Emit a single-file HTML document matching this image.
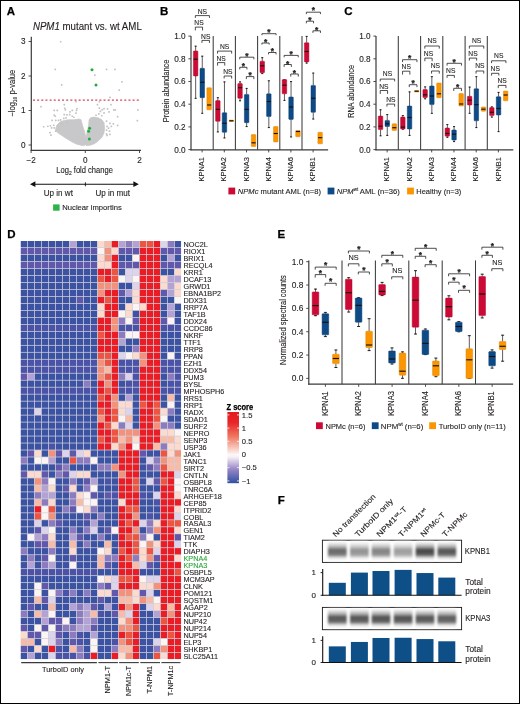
<!DOCTYPE html>
<html><head><meta charset="utf-8"><title>Figure</title>
<style>
html,body{margin:0;padding:0;background:#fff;}
body{width:520px;height:704px;overflow:hidden;}
svg{display:block;will-change:transform;}
svg text{font-family:"Liberation Sans", sans-serif;}
</style></head><body>
<svg width="520" height="704" viewBox="0 0 520 704" font-family="Liberation Sans, sans-serif" fill="#231f20">
<rect x="0.5" y="0.5" width="519" height="703" fill="#fff" stroke="#000" stroke-width="1"/>
<text x="6.80" y="15.00" font-size="11.5" font-weight="bold" fill="#000" stroke="#000" stroke-width="0.25">A</text>
<text x="160.00" y="15.40" font-size="11.5" font-weight="bold" fill="#000" stroke="#000" stroke-width="0.25">B</text>
<text x="344.30" y="15.40" font-size="11.5" font-weight="bold" fill="#000" stroke="#000" stroke-width="0.25">C</text>
<text x="7.20" y="237.80" font-size="11.5" font-weight="bold" fill="#000" stroke="#000" stroke-width="0.25">D</text>
<text x="277.50" y="237.60" font-size="11.5" font-weight="bold" fill="#000" stroke="#000" stroke-width="0.25">E</text>
<text x="277.80" y="503.80" font-size="11.5" font-weight="bold" fill="#000" stroke="#000" stroke-width="0.25">F</text>
<line x1="213.20" y1="36.00" x2="213.20" y2="149.80" stroke="#3c3c3c" stroke-width="1.05"/>
<line x1="235.40" y1="36.00" x2="235.40" y2="149.80" stroke="#3c3c3c" stroke-width="1.05"/>
<line x1="257.60" y1="36.00" x2="257.60" y2="149.80" stroke="#3c3c3c" stroke-width="1.05"/>
<line x1="279.80" y1="36.00" x2="279.80" y2="149.80" stroke="#3c3c3c" stroke-width="1.05"/>
<line x1="302.00" y1="36.00" x2="302.00" y2="149.80" stroke="#3c3c3c" stroke-width="1.05"/>
<line x1="191.00" y1="36.00" x2="191.00" y2="150.30" stroke="#3a3a3a" stroke-width="1.2"/>
<line x1="190.40" y1="149.80" x2="328.10" y2="149.80" stroke="#3a3a3a" stroke-width="1.2"/>
<line x1="188.40" y1="149.60" x2="191.00" y2="149.60" stroke="#3a3a3a" stroke-width="0.9"/>
<text x="185.60" y="152.55" font-size="8.2" text-anchor="end" stroke="#231f20" stroke-width="0.12">0.0</text>
<line x1="188.40" y1="126.90" x2="191.00" y2="126.90" stroke="#3a3a3a" stroke-width="0.9"/>
<text x="185.60" y="129.85" font-size="8.2" text-anchor="end" stroke="#231f20" stroke-width="0.12">0.2</text>
<line x1="188.40" y1="104.20" x2="191.00" y2="104.20" stroke="#3a3a3a" stroke-width="0.9"/>
<text x="185.60" y="107.15" font-size="8.2" text-anchor="end" stroke="#231f20" stroke-width="0.12">0.4</text>
<line x1="188.40" y1="81.50" x2="191.00" y2="81.50" stroke="#3a3a3a" stroke-width="0.9"/>
<text x="185.60" y="84.45" font-size="8.2" text-anchor="end" stroke="#231f20" stroke-width="0.12">0.6</text>
<line x1="188.40" y1="58.80" x2="191.00" y2="58.80" stroke="#3a3a3a" stroke-width="0.9"/>
<text x="185.60" y="61.75" font-size="8.2" text-anchor="end" stroke="#231f20" stroke-width="0.12">0.8</text>
<line x1="188.40" y1="36.10" x2="191.00" y2="36.10" stroke="#3a3a3a" stroke-width="0.9"/>
<text x="185.60" y="39.05" font-size="8.2" text-anchor="end" stroke="#231f20" stroke-width="0.12">1.0</text>
<line x1="202.10" y1="149.80" x2="202.10" y2="152.40" stroke="#3a3a3a" stroke-width="0.9"/>
<text x="204.26" y="157.00" font-size="8.0" text-anchor="end" textLength="24.50" lengthAdjust="spacingAndGlyphs" transform="rotate(-90 204.26 157.00)" stroke="#231f20" stroke-width="0.12">KPNA1</text>
<line x1="224.30" y1="149.80" x2="224.30" y2="152.40" stroke="#3a3a3a" stroke-width="0.9"/>
<text x="226.46" y="157.00" font-size="8.0" text-anchor="end" textLength="24.50" lengthAdjust="spacingAndGlyphs" transform="rotate(-90 226.46 157.00)" stroke="#231f20" stroke-width="0.12">KPNA2</text>
<line x1="246.50" y1="149.80" x2="246.50" y2="152.40" stroke="#3a3a3a" stroke-width="0.9"/>
<text x="248.66" y="157.00" font-size="8.0" text-anchor="end" textLength="24.50" lengthAdjust="spacingAndGlyphs" transform="rotate(-90 248.66 157.00)" stroke="#231f20" stroke-width="0.12">KPNA3</text>
<line x1="268.70" y1="149.80" x2="268.70" y2="152.40" stroke="#3a3a3a" stroke-width="0.9"/>
<text x="270.86" y="157.00" font-size="8.0" text-anchor="end" textLength="24.50" lengthAdjust="spacingAndGlyphs" transform="rotate(-90 270.86 157.00)" stroke="#231f20" stroke-width="0.12">KPNA4</text>
<line x1="290.90" y1="149.80" x2="290.90" y2="152.40" stroke="#3a3a3a" stroke-width="0.9"/>
<text x="293.06" y="157.00" font-size="8.0" text-anchor="end" textLength="24.50" lengthAdjust="spacingAndGlyphs" transform="rotate(-90 293.06 157.00)" stroke="#231f20" stroke-width="0.12">KPNA6</text>
<line x1="313.10" y1="149.80" x2="313.10" y2="152.40" stroke="#3a3a3a" stroke-width="0.9"/>
<text x="315.26" y="157.00" font-size="8.0" text-anchor="end" textLength="24.50" lengthAdjust="spacingAndGlyphs" transform="rotate(-90 315.26 157.00)" stroke="#231f20" stroke-width="0.12">KPNB1</text>
<line x1="195.65" y1="45.80" x2="195.65" y2="51.00" stroke="#333" stroke-width="0.8"/>
<line x1="194.60" y1="46.20" x2="196.70" y2="46.20" stroke="#111" stroke-width="0.9"/>
<line x1="195.65" y1="76.00" x2="195.65" y2="98.70" stroke="#333" stroke-width="0.8"/>
<line x1="194.60" y1="98.30" x2="196.70" y2="98.30" stroke="#111" stroke-width="0.9"/>
<rect x="193.40" y="51.00" width="4.50" height="25.00" rx="0.6" fill="#cc0a35" stroke="#b50a2f" stroke-width="0.5"/>
<line x1="193.60" y1="59.20" x2="197.70" y2="59.20" stroke="#111" stroke-width="1.15"/>
<line x1="202.25" y1="55.80" x2="202.25" y2="68.30" stroke="#333" stroke-width="0.8"/>
<line x1="201.20" y1="56.20" x2="203.30" y2="56.20" stroke="#111" stroke-width="0.9"/>
<line x1="202.25" y1="97.70" x2="202.25" y2="113.70" stroke="#333" stroke-width="0.8"/>
<line x1="201.20" y1="113.30" x2="203.30" y2="113.30" stroke="#111" stroke-width="0.9"/>
<rect x="200.00" y="68.30" width="4.50" height="29.40" rx="0.6" fill="#0d4a86" stroke="#0a3d70" stroke-width="0.5"/>
<line x1="200.20" y1="82.30" x2="204.30" y2="82.30" stroke="#111" stroke-width="1.15"/>
<rect x="206.90" y="87.70" width="4.50" height="22.10" rx="0.6" fill="#fb9600" stroke="#e08500" stroke-width="0.5"/>
<line x1="207.10" y1="105.00" x2="211.20" y2="105.00" stroke="#111" stroke-width="1.15"/>
<line x1="217.85" y1="97.30" x2="217.85" y2="100.60" stroke="#333" stroke-width="0.8"/>
<line x1="216.80" y1="97.70" x2="218.90" y2="97.70" stroke="#111" stroke-width="0.9"/>
<line x1="217.85" y1="121.30" x2="217.85" y2="132.30" stroke="#333" stroke-width="0.8"/>
<line x1="216.80" y1="131.90" x2="218.90" y2="131.90" stroke="#111" stroke-width="0.9"/>
<rect x="215.60" y="100.60" width="4.50" height="20.70" rx="0.6" fill="#cc0a35" stroke="#b50a2f" stroke-width="0.5"/>
<line x1="215.80" y1="109.40" x2="219.90" y2="109.40" stroke="#111" stroke-width="1.15"/>
<line x1="224.45" y1="81.50" x2="224.45" y2="112.70" stroke="#333" stroke-width="0.8"/>
<line x1="223.40" y1="81.90" x2="225.50" y2="81.90" stroke="#111" stroke-width="0.9"/>
<line x1="224.45" y1="132.30" x2="224.45" y2="138.30" stroke="#333" stroke-width="0.8"/>
<line x1="223.40" y1="137.90" x2="225.50" y2="137.90" stroke="#111" stroke-width="0.9"/>
<rect x="222.20" y="112.70" width="4.50" height="19.60" rx="0.6" fill="#0d4a86" stroke="#0a3d70" stroke-width="0.5"/>
<line x1="222.40" y1="123.30" x2="226.50" y2="123.30" stroke="#111" stroke-width="1.15"/>
<rect x="229.10" y="120.10" width="4.50" height="1.40" rx="0.6" fill="#fb9600" stroke="#e08500" stroke-width="0.5"/>
<line x1="229.30" y1="120.80" x2="233.40" y2="120.80" stroke="#111" stroke-width="1.15"/>
<line x1="240.05" y1="81.50" x2="240.05" y2="83.50" stroke="#333" stroke-width="0.8"/>
<line x1="239.00" y1="81.90" x2="241.10" y2="81.90" stroke="#111" stroke-width="0.9"/>
<line x1="240.05" y1="98.30" x2="240.05" y2="101.20" stroke="#333" stroke-width="0.8"/>
<line x1="239.00" y1="100.80" x2="241.10" y2="100.80" stroke="#111" stroke-width="0.9"/>
<rect x="237.80" y="83.50" width="4.50" height="14.80" rx="0.6" fill="#cc0a35" stroke="#b50a2f" stroke-width="0.5"/>
<line x1="238.00" y1="87.70" x2="242.10" y2="87.70" stroke="#111" stroke-width="1.15"/>
<line x1="246.65" y1="88.00" x2="246.65" y2="94.40" stroke="#333" stroke-width="0.8"/>
<line x1="245.60" y1="88.40" x2="247.70" y2="88.40" stroke="#111" stroke-width="0.9"/>
<line x1="246.65" y1="122.70" x2="246.65" y2="127.00" stroke="#333" stroke-width="0.8"/>
<line x1="245.60" y1="126.60" x2="247.70" y2="126.60" stroke="#111" stroke-width="0.9"/>
<rect x="244.40" y="94.40" width="4.50" height="28.30" rx="0.6" fill="#0d4a86" stroke="#0a3d70" stroke-width="0.5"/>
<line x1="244.60" y1="109.40" x2="248.70" y2="109.40" stroke="#111" stroke-width="1.15"/>
<rect x="251.30" y="134.60" width="4.50" height="11.90" rx="0.6" fill="#fb9600" stroke="#e08500" stroke-width="0.5"/>
<line x1="251.50" y1="142.80" x2="255.60" y2="142.80" stroke="#111" stroke-width="1.15"/>
<line x1="262.25" y1="57.30" x2="262.25" y2="61.20" stroke="#333" stroke-width="0.8"/>
<line x1="261.20" y1="57.70" x2="263.30" y2="57.70" stroke="#111" stroke-width="0.9"/>
<line x1="262.25" y1="72.70" x2="262.25" y2="74.00" stroke="#333" stroke-width="0.8"/>
<line x1="261.20" y1="73.60" x2="263.30" y2="73.60" stroke="#111" stroke-width="0.9"/>
<rect x="260.00" y="61.20" width="4.50" height="11.50" rx="0.6" fill="#cc0a35" stroke="#b50a2f" stroke-width="0.5"/>
<line x1="260.20" y1="65.80" x2="264.30" y2="65.80" stroke="#111" stroke-width="1.15"/>
<line x1="268.85" y1="80.40" x2="268.85" y2="93.80" stroke="#333" stroke-width="0.8"/>
<line x1="267.80" y1="80.80" x2="269.90" y2="80.80" stroke="#111" stroke-width="0.9"/>
<line x1="268.85" y1="116.50" x2="268.85" y2="128.00" stroke="#333" stroke-width="0.8"/>
<line x1="267.80" y1="127.60" x2="269.90" y2="127.60" stroke="#111" stroke-width="0.9"/>
<rect x="266.60" y="93.80" width="4.50" height="22.70" rx="0.6" fill="#0d4a86" stroke="#0a3d70" stroke-width="0.5"/>
<line x1="266.80" y1="101.50" x2="270.90" y2="101.50" stroke="#111" stroke-width="1.15"/>
<rect x="273.50" y="126.50" width="4.50" height="15.40" rx="0.6" fill="#fb9600" stroke="#e08500" stroke-width="0.5"/>
<line x1="273.70" y1="133.50" x2="277.80" y2="133.50" stroke="#111" stroke-width="1.15"/>
<line x1="284.45" y1="79.40" x2="284.45" y2="79.60" stroke="#333" stroke-width="0.8"/>
<line x1="283.40" y1="79.80" x2="285.50" y2="79.80" stroke="#111" stroke-width="0.9"/>
<line x1="284.45" y1="93.80" x2="284.45" y2="100.80" stroke="#333" stroke-width="0.8"/>
<line x1="283.40" y1="100.40" x2="285.50" y2="100.40" stroke="#111" stroke-width="0.9"/>
<rect x="282.20" y="79.60" width="4.50" height="14.20" rx="0.6" fill="#cc0a35" stroke="#b50a2f" stroke-width="0.5"/>
<line x1="282.40" y1="85.20" x2="286.50" y2="85.20" stroke="#111" stroke-width="1.15"/>
<line x1="291.05" y1="81.20" x2="291.05" y2="97.00" stroke="#333" stroke-width="0.8"/>
<line x1="290.00" y1="81.60" x2="292.10" y2="81.60" stroke="#111" stroke-width="0.9"/>
<line x1="291.05" y1="119.40" x2="291.05" y2="137.30" stroke="#333" stroke-width="0.8"/>
<line x1="290.00" y1="136.90" x2="292.10" y2="136.90" stroke="#111" stroke-width="0.9"/>
<rect x="288.80" y="97.00" width="4.50" height="22.40" rx="0.6" fill="#0d4a86" stroke="#0a3d70" stroke-width="0.5"/>
<line x1="289.00" y1="107.00" x2="293.10" y2="107.00" stroke="#111" stroke-width="1.15"/>
<rect x="295.70" y="130.40" width="4.50" height="6.30" rx="0.6" fill="#fb9600" stroke="#e08500" stroke-width="0.5"/>
<line x1="295.90" y1="131.50" x2="300.00" y2="131.50" stroke="#111" stroke-width="1.15"/>
<line x1="306.65" y1="36.00" x2="306.65" y2="42.70" stroke="#333" stroke-width="0.8"/>
<line x1="305.60" y1="36.40" x2="307.70" y2="36.40" stroke="#111" stroke-width="0.9"/>
<line x1="306.65" y1="61.90" x2="306.65" y2="63.50" stroke="#333" stroke-width="0.8"/>
<line x1="305.60" y1="63.10" x2="307.70" y2="63.10" stroke="#111" stroke-width="0.9"/>
<rect x="304.40" y="42.70" width="4.50" height="19.20" rx="0.6" fill="#cc0a35" stroke="#b50a2f" stroke-width="0.5"/>
<line x1="304.60" y1="51.50" x2="308.70" y2="51.50" stroke="#111" stroke-width="1.15"/>
<line x1="313.25" y1="72.70" x2="313.25" y2="85.40" stroke="#333" stroke-width="0.8"/>
<line x1="312.20" y1="73.10" x2="314.30" y2="73.10" stroke="#111" stroke-width="0.9"/>
<line x1="313.25" y1="112.30" x2="313.25" y2="119.40" stroke="#333" stroke-width="0.8"/>
<line x1="312.20" y1="119.00" x2="314.30" y2="119.00" stroke="#111" stroke-width="0.9"/>
<rect x="311.00" y="85.40" width="4.50" height="26.90" rx="0.6" fill="#0d4a86" stroke="#0a3d70" stroke-width="0.5"/>
<line x1="311.20" y1="98.30" x2="315.30" y2="98.30" stroke="#111" stroke-width="1.15"/>
<rect x="317.90" y="132.30" width="4.50" height="11.50" rx="0.6" fill="#fb9600" stroke="#e08500" stroke-width="0.5"/>
<line x1="318.10" y1="137.70" x2="322.20" y2="137.70" stroke="#111" stroke-width="1.15"/>
<path d="M195.35 17.90V15.60H209.45V17.90" fill="none" stroke="#231f20" stroke-width="0.8"/>
<text x="202.40" y="13.55" font-size="8.1" text-anchor="middle" textLength="9.30" lengthAdjust="spacingAndGlyphs" stroke="#231f20" stroke-width="0.12">NS</text>
<path d="M195.35 30.40V27.10H202.55V30.40" fill="none" stroke="#231f20" stroke-width="0.8"/>
<text x="198.95" y="24.85" font-size="8.1" text-anchor="middle" textLength="9.30" lengthAdjust="spacingAndGlyphs" stroke="#231f20" stroke-width="0.12">NS</text>
<path d="M201.95 42.90V40.40H209.45V42.90" fill="none" stroke="#231f20" stroke-width="0.8"/>
<text x="205.70" y="38.55" font-size="8.1" text-anchor="middle" textLength="9.30" lengthAdjust="spacingAndGlyphs" stroke="#231f20" stroke-width="0.12">NS</text>
<path d="M217.55 53.60V51.10H231.65V53.60" fill="none" stroke="#231f20" stroke-width="0.8"/>
<text x="224.60" y="48.65" font-size="8.1" text-anchor="middle" textLength="9.30" lengthAdjust="spacingAndGlyphs" stroke="#231f20" stroke-width="0.12">NS</text>
<path d="M217.55 65.60V62.60H224.75V65.60" fill="none" stroke="#231f20" stroke-width="0.8"/>
<text x="221.15" y="60.65" font-size="8.1" text-anchor="middle" textLength="9.30" lengthAdjust="spacingAndGlyphs" stroke="#231f20" stroke-width="0.12">NS</text>
<path d="M224.15 78.50V76.00H231.65V78.50" fill="none" stroke="#231f20" stroke-width="0.8"/>
<text x="227.90" y="73.55" font-size="8.1" text-anchor="middle" textLength="9.30" lengthAdjust="spacingAndGlyphs" stroke="#231f20" stroke-width="0.12">NS</text>
<path d="M239.75 59.30V57.20H253.85V59.30" fill="none" stroke="#231f20" stroke-width="0.8"/>
<text x="246.80" y="59.00" font-size="8.4" text-anchor="middle" font-weight="bold" stroke="#231f20" stroke-width="0.25">*</text>
<path d="M239.75 69.40V67.30H246.95V69.40" fill="none" stroke="#231f20" stroke-width="0.8"/>
<text x="243.35" y="68.50" font-size="8.4" text-anchor="middle" font-weight="bold" stroke="#231f20" stroke-width="0.25">*</text>
<path d="M246.35 79.10V76.60H253.85V79.10" fill="none" stroke="#231f20" stroke-width="0.8"/>
<text x="250.10" y="78.00" font-size="8.4" text-anchor="middle" font-weight="bold" stroke="#231f20" stroke-width="0.25">*</text>
<path d="M261.95 35.20V33.70H276.05V35.20" fill="none" stroke="#231f20" stroke-width="0.8"/>
<text x="269.00" y="35.00" font-size="8.4" text-anchor="middle" font-weight="bold" stroke="#231f20" stroke-width="0.25">*</text>
<path d="M261.95 44.60V43.00H269.15V44.60" fill="none" stroke="#231f20" stroke-width="0.8"/>
<text x="265.55" y="44.50" font-size="8.4" text-anchor="middle" font-weight="bold" stroke="#231f20" stroke-width="0.25">*</text>
<path d="M268.55 54.40V52.50H276.05V54.40" fill="none" stroke="#231f20" stroke-width="0.8"/>
<text x="272.30" y="54.00" font-size="8.4" text-anchor="middle" font-weight="bold" stroke="#231f20" stroke-width="0.25">*</text>
<path d="M284.15 57.30V55.40H298.25V57.30" fill="none" stroke="#231f20" stroke-width="0.8"/>
<text x="291.20" y="57.00" font-size="8.4" text-anchor="middle" font-weight="bold" stroke="#231f20" stroke-width="0.25">*</text>
<path d="M284.15 66.90V64.50H291.35V66.90" fill="none" stroke="#231f20" stroke-width="0.8"/>
<text x="287.75" y="66.60" font-size="8.4" text-anchor="middle" font-weight="bold" stroke="#231f20" stroke-width="0.25">*</text>
<path d="M290.75 76.60V74.00H298.25V76.60" fill="none" stroke="#231f20" stroke-width="0.8"/>
<text x="294.50" y="76.20" font-size="8.4" text-anchor="middle" font-weight="bold" stroke="#231f20" stroke-width="0.25">*</text>
<path d="M306.35 14.10V12.20H320.45V14.10" fill="none" stroke="#231f20" stroke-width="0.8"/>
<text x="313.40" y="13.30" font-size="8.4" text-anchor="middle" font-weight="bold" stroke="#231f20" stroke-width="0.25">*</text>
<path d="M306.35 23.30V21.20H313.55V23.30" fill="none" stroke="#231f20" stroke-width="0.8"/>
<text x="309.95" y="23.00" font-size="8.4" text-anchor="middle" font-weight="bold" stroke="#231f20" stroke-width="0.25">*</text>
<path d="M312.95 32.90V30.80H320.45V32.90" fill="none" stroke="#231f20" stroke-width="0.8"/>
<text x="316.70" y="32.50" font-size="8.4" text-anchor="middle" font-weight="bold" stroke="#231f20" stroke-width="0.25">*</text>
<text x="169.20" y="90.90" font-size="8.2" text-anchor="middle" textLength="62.80" lengthAdjust="spacingAndGlyphs" transform="rotate(-90 169.20 90.90)" stroke="#231f20" stroke-width="0.12">Protein abundance</text>
<line x1="398.30" y1="36.00" x2="398.30" y2="149.80" stroke="#3c3c3c" stroke-width="1.05"/>
<line x1="420.60" y1="36.00" x2="420.60" y2="149.80" stroke="#3c3c3c" stroke-width="1.05"/>
<line x1="442.80" y1="36.00" x2="442.80" y2="149.80" stroke="#3c3c3c" stroke-width="1.05"/>
<line x1="465.10" y1="36.00" x2="465.10" y2="149.80" stroke="#3c3c3c" stroke-width="1.05"/>
<line x1="487.30" y1="36.00" x2="487.30" y2="149.80" stroke="#3c3c3c" stroke-width="1.05"/>
<line x1="376.00" y1="36.00" x2="376.00" y2="150.30" stroke="#3a3a3a" stroke-width="1.2"/>
<line x1="375.40" y1="149.80" x2="513.30" y2="149.80" stroke="#3a3a3a" stroke-width="1.2"/>
<line x1="373.40" y1="149.60" x2="376.00" y2="149.60" stroke="#3a3a3a" stroke-width="0.9"/>
<text x="370.60" y="152.55" font-size="8.2" text-anchor="end" stroke="#231f20" stroke-width="0.12">0.0</text>
<line x1="373.40" y1="126.90" x2="376.00" y2="126.90" stroke="#3a3a3a" stroke-width="0.9"/>
<text x="370.60" y="129.85" font-size="8.2" text-anchor="end" stroke="#231f20" stroke-width="0.12">0.2</text>
<line x1="373.40" y1="104.20" x2="376.00" y2="104.20" stroke="#3a3a3a" stroke-width="0.9"/>
<text x="370.60" y="107.15" font-size="8.2" text-anchor="end" stroke="#231f20" stroke-width="0.12">0.4</text>
<line x1="373.40" y1="81.50" x2="376.00" y2="81.50" stroke="#3a3a3a" stroke-width="0.9"/>
<text x="370.60" y="84.45" font-size="8.2" text-anchor="end" stroke="#231f20" stroke-width="0.12">0.6</text>
<line x1="373.40" y1="58.80" x2="376.00" y2="58.80" stroke="#3a3a3a" stroke-width="0.9"/>
<text x="370.60" y="61.75" font-size="8.2" text-anchor="end" stroke="#231f20" stroke-width="0.12">0.8</text>
<line x1="373.40" y1="36.10" x2="376.00" y2="36.10" stroke="#3a3a3a" stroke-width="0.9"/>
<text x="370.60" y="39.05" font-size="8.2" text-anchor="end" stroke="#231f20" stroke-width="0.12">1.0</text>
<line x1="387.15" y1="149.80" x2="387.15" y2="152.40" stroke="#3a3a3a" stroke-width="0.9"/>
<text x="389.31" y="157.00" font-size="8.0" text-anchor="end" textLength="24.50" lengthAdjust="spacingAndGlyphs" transform="rotate(-90 389.31 157.00)" stroke="#231f20" stroke-width="0.12">KPNA1</text>
<line x1="409.45" y1="149.80" x2="409.45" y2="152.40" stroke="#3a3a3a" stroke-width="0.9"/>
<text x="411.61" y="157.00" font-size="8.0" text-anchor="end" textLength="24.50" lengthAdjust="spacingAndGlyphs" transform="rotate(-90 411.61 157.00)" stroke="#231f20" stroke-width="0.12">KPNA2</text>
<line x1="431.70" y1="149.80" x2="431.70" y2="152.40" stroke="#3a3a3a" stroke-width="0.9"/>
<text x="433.86" y="157.00" font-size="8.0" text-anchor="end" textLength="24.50" lengthAdjust="spacingAndGlyphs" transform="rotate(-90 433.86 157.00)" stroke="#231f20" stroke-width="0.12">KPNA3</text>
<line x1="453.95" y1="149.80" x2="453.95" y2="152.40" stroke="#3a3a3a" stroke-width="0.9"/>
<text x="456.11" y="157.00" font-size="8.0" text-anchor="end" textLength="24.50" lengthAdjust="spacingAndGlyphs" transform="rotate(-90 456.11 157.00)" stroke="#231f20" stroke-width="0.12">KPNA4</text>
<line x1="476.20" y1="149.80" x2="476.20" y2="152.40" stroke="#3a3a3a" stroke-width="0.9"/>
<text x="478.36" y="157.00" font-size="8.0" text-anchor="end" textLength="24.50" lengthAdjust="spacingAndGlyphs" transform="rotate(-90 478.36 157.00)" stroke="#231f20" stroke-width="0.12">KPNA6</text>
<line x1="498.40" y1="149.80" x2="498.40" y2="152.40" stroke="#3a3a3a" stroke-width="0.9"/>
<text x="500.56" y="157.00" font-size="8.0" text-anchor="end" textLength="24.50" lengthAdjust="spacingAndGlyphs" transform="rotate(-90 500.56 157.00)" stroke="#231f20" stroke-width="0.12">KPNB1</text>
<line x1="380.55" y1="109.40" x2="380.55" y2="116.00" stroke="#333" stroke-width="0.8"/>
<line x1="379.50" y1="109.80" x2="381.60" y2="109.80" stroke="#111" stroke-width="0.9"/>
<line x1="380.55" y1="129.60" x2="380.55" y2="136.20" stroke="#333" stroke-width="0.8"/>
<line x1="379.50" y1="135.80" x2="381.60" y2="135.80" stroke="#111" stroke-width="0.9"/>
<rect x="378.30" y="116.00" width="4.50" height="13.60" rx="0.6" fill="#cc0a35" stroke="#b50a2f" stroke-width="0.5"/>
<line x1="378.50" y1="126.20" x2="382.60" y2="126.20" stroke="#111" stroke-width="1.15"/>
<line x1="387.25" y1="114.20" x2="387.25" y2="120.40" stroke="#333" stroke-width="0.8"/>
<line x1="386.20" y1="114.60" x2="388.30" y2="114.60" stroke="#111" stroke-width="0.9"/>
<line x1="387.25" y1="126.50" x2="387.25" y2="135.80" stroke="#333" stroke-width="0.8"/>
<line x1="386.20" y1="135.40" x2="388.30" y2="135.40" stroke="#111" stroke-width="0.9"/>
<rect x="385.00" y="120.40" width="4.50" height="6.10" rx="0.6" fill="#0d4a86" stroke="#0a3d70" stroke-width="0.5"/>
<line x1="385.20" y1="123.80" x2="389.30" y2="123.80" stroke="#111" stroke-width="1.15"/>
<rect x="392.10" y="123.80" width="4.50" height="6.60" rx="0.6" fill="#fb9600" stroke="#e08500" stroke-width="0.5"/>
<line x1="392.30" y1="127.70" x2="396.40" y2="127.70" stroke="#111" stroke-width="1.15"/>
<line x1="402.85" y1="115.20" x2="402.85" y2="117.10" stroke="#333" stroke-width="0.8"/>
<line x1="401.80" y1="115.60" x2="403.90" y2="115.60" stroke="#111" stroke-width="0.9"/>
<line x1="402.85" y1="129.00" x2="402.85" y2="129.60" stroke="#333" stroke-width="0.8"/>
<line x1="401.80" y1="129.20" x2="403.90" y2="129.20" stroke="#111" stroke-width="0.9"/>
<rect x="400.60" y="117.10" width="4.50" height="11.90" rx="0.6" fill="#cc0a35" stroke="#b50a2f" stroke-width="0.5"/>
<line x1="400.80" y1="127.10" x2="404.90" y2="127.10" stroke="#111" stroke-width="1.15"/>
<line x1="409.55" y1="91.50" x2="409.55" y2="106.00" stroke="#333" stroke-width="0.8"/>
<line x1="408.50" y1="91.90" x2="410.60" y2="91.90" stroke="#111" stroke-width="0.9"/>
<line x1="409.55" y1="129.00" x2="409.55" y2="135.80" stroke="#333" stroke-width="0.8"/>
<line x1="408.50" y1="135.40" x2="410.60" y2="135.40" stroke="#111" stroke-width="0.9"/>
<rect x="407.30" y="106.00" width="4.50" height="23.00" rx="0.6" fill="#0d4a86" stroke="#0a3d70" stroke-width="0.5"/>
<line x1="407.50" y1="117.50" x2="411.60" y2="117.50" stroke="#111" stroke-width="1.15"/>
<rect x="414.40" y="90.50" width="4.50" height="1.50" rx="0.6" fill="#fb9600" stroke="#e08500" stroke-width="0.5"/>
<line x1="414.60" y1="91.20" x2="418.70" y2="91.20" stroke="#111" stroke-width="1.15"/>
<line x1="425.15" y1="86.50" x2="425.15" y2="89.50" stroke="#333" stroke-width="0.8"/>
<line x1="424.10" y1="86.90" x2="426.20" y2="86.90" stroke="#111" stroke-width="0.9"/>
<line x1="425.15" y1="97.50" x2="425.15" y2="99.20" stroke="#333" stroke-width="0.8"/>
<line x1="424.10" y1="98.80" x2="426.20" y2="98.80" stroke="#111" stroke-width="0.9"/>
<rect x="422.90" y="89.50" width="4.50" height="8.00" rx="0.6" fill="#cc0a35" stroke="#b50a2f" stroke-width="0.5"/>
<line x1="423.10" y1="94.80" x2="427.20" y2="94.80" stroke="#111" stroke-width="1.15"/>
<line x1="431.85" y1="76.30" x2="431.85" y2="86.00" stroke="#333" stroke-width="0.8"/>
<line x1="430.80" y1="76.70" x2="432.90" y2="76.70" stroke="#111" stroke-width="0.9"/>
<line x1="431.85" y1="104.60" x2="431.85" y2="113.70" stroke="#333" stroke-width="0.8"/>
<line x1="430.80" y1="113.30" x2="432.90" y2="113.30" stroke="#111" stroke-width="0.9"/>
<rect x="429.60" y="86.00" width="4.50" height="18.60" rx="0.6" fill="#0d4a86" stroke="#0a3d70" stroke-width="0.5"/>
<line x1="429.80" y1="96.00" x2="433.90" y2="96.00" stroke="#111" stroke-width="1.15"/>
<rect x="436.70" y="83.00" width="4.50" height="14.70" rx="0.6" fill="#fb9600" stroke="#e08500" stroke-width="0.5"/>
<line x1="436.90" y1="93.80" x2="441.00" y2="93.80" stroke="#111" stroke-width="1.15"/>
<line x1="447.35" y1="124.20" x2="447.35" y2="128.00" stroke="#333" stroke-width="0.8"/>
<line x1="446.30" y1="124.60" x2="448.40" y2="124.60" stroke="#111" stroke-width="0.9"/>
<line x1="447.35" y1="136.20" x2="447.35" y2="137.70" stroke="#333" stroke-width="0.8"/>
<line x1="446.30" y1="137.30" x2="448.40" y2="137.30" stroke="#111" stroke-width="0.9"/>
<rect x="445.10" y="128.00" width="4.50" height="8.20" rx="0.6" fill="#cc0a35" stroke="#b50a2f" stroke-width="0.5"/>
<line x1="445.30" y1="133.50" x2="449.40" y2="133.50" stroke="#111" stroke-width="1.15"/>
<line x1="454.05" y1="126.20" x2="454.05" y2="130.00" stroke="#333" stroke-width="0.8"/>
<line x1="453.00" y1="126.60" x2="455.10" y2="126.60" stroke="#111" stroke-width="0.9"/>
<line x1="454.05" y1="140.00" x2="454.05" y2="142.00" stroke="#333" stroke-width="0.8"/>
<line x1="453.00" y1="141.60" x2="455.10" y2="141.60" stroke="#111" stroke-width="0.9"/>
<rect x="451.80" y="130.00" width="4.50" height="10.00" rx="0.6" fill="#0d4a86" stroke="#0a3d70" stroke-width="0.5"/>
<line x1="452.00" y1="134.20" x2="456.10" y2="134.20" stroke="#111" stroke-width="1.15"/>
<rect x="458.90" y="93.50" width="4.50" height="12.50" rx="0.6" fill="#fb9600" stroke="#e08500" stroke-width="0.5"/>
<line x1="459.10" y1="104.00" x2="463.20" y2="104.00" stroke="#111" stroke-width="1.15"/>
<line x1="469.65" y1="86.70" x2="469.65" y2="96.30" stroke="#333" stroke-width="0.8"/>
<line x1="468.60" y1="87.10" x2="470.70" y2="87.10" stroke="#111" stroke-width="0.9"/>
<line x1="469.65" y1="105.00" x2="469.65" y2="113.70" stroke="#333" stroke-width="0.8"/>
<line x1="468.60" y1="113.30" x2="470.70" y2="113.30" stroke="#111" stroke-width="0.9"/>
<rect x="467.40" y="96.30" width="4.50" height="8.70" rx="0.6" fill="#cc0a35" stroke="#b50a2f" stroke-width="0.5"/>
<line x1="467.60" y1="100.20" x2="471.70" y2="100.20" stroke="#111" stroke-width="1.15"/>
<line x1="476.35" y1="76.30" x2="476.35" y2="88.70" stroke="#333" stroke-width="0.8"/>
<line x1="475.30" y1="76.70" x2="477.40" y2="76.70" stroke="#111" stroke-width="0.9"/>
<line x1="476.35" y1="120.80" x2="476.35" y2="128.00" stroke="#333" stroke-width="0.8"/>
<line x1="475.30" y1="127.60" x2="477.40" y2="127.60" stroke="#111" stroke-width="0.9"/>
<rect x="474.10" y="88.70" width="4.50" height="32.10" rx="0.6" fill="#0d4a86" stroke="#0a3d70" stroke-width="0.5"/>
<line x1="474.30" y1="104.60" x2="478.40" y2="104.60" stroke="#111" stroke-width="1.15"/>
<rect x="481.20" y="107.00" width="4.50" height="4.20" rx="0.6" fill="#fb9600" stroke="#e08500" stroke-width="0.5"/>
<line x1="481.40" y1="109.20" x2="485.50" y2="109.20" stroke="#111" stroke-width="1.15"/>
<line x1="491.85" y1="106.50" x2="491.85" y2="107.50" stroke="#333" stroke-width="0.8"/>
<line x1="490.80" y1="106.90" x2="492.90" y2="106.90" stroke="#111" stroke-width="0.9"/>
<line x1="491.85" y1="115.60" x2="491.85" y2="117.50" stroke="#333" stroke-width="0.8"/>
<line x1="490.80" y1="117.10" x2="492.90" y2="117.10" stroke="#111" stroke-width="0.9"/>
<rect x="489.60" y="107.50" width="4.50" height="8.10" rx="0.6" fill="#cc0a35" stroke="#b50a2f" stroke-width="0.5"/>
<line x1="489.80" y1="112.30" x2="493.90" y2="112.30" stroke="#111" stroke-width="1.15"/>
<line x1="498.55" y1="92.00" x2="498.55" y2="96.70" stroke="#333" stroke-width="0.8"/>
<line x1="497.50" y1="92.40" x2="499.60" y2="92.40" stroke="#111" stroke-width="0.9"/>
<line x1="498.55" y1="115.00" x2="498.55" y2="132.00" stroke="#333" stroke-width="0.8"/>
<line x1="497.50" y1="131.60" x2="499.60" y2="131.60" stroke="#111" stroke-width="0.9"/>
<rect x="496.30" y="96.70" width="4.50" height="18.30" rx="0.6" fill="#0d4a86" stroke="#0a3d70" stroke-width="0.5"/>
<line x1="496.50" y1="108.50" x2="500.60" y2="108.50" stroke="#111" stroke-width="1.15"/>
<rect x="503.40" y="91.00" width="4.50" height="9.80" rx="0.6" fill="#fb9600" stroke="#e08500" stroke-width="0.5"/>
<line x1="503.60" y1="95.00" x2="507.70" y2="95.00" stroke="#111" stroke-width="1.15"/>
<path d="M380.25 81.40V79.10H394.65V81.40" fill="none" stroke="#231f20" stroke-width="0.8"/>
<text x="387.45" y="76.35" font-size="8.1" text-anchor="middle" textLength="9.30" lengthAdjust="spacingAndGlyphs" stroke="#231f20" stroke-width="0.12">NS</text>
<path d="M380.25 93.90V90.50H387.55V93.90" fill="none" stroke="#231f20" stroke-width="0.8"/>
<text x="383.90" y="88.55" font-size="8.1" text-anchor="middle" textLength="9.30" lengthAdjust="spacingAndGlyphs" stroke="#231f20" stroke-width="0.12">NS</text>
<path d="M386.95 106.60V104.10H394.65V106.60" fill="none" stroke="#231f20" stroke-width="0.8"/>
<text x="390.80" y="102.15" font-size="8.1" text-anchor="middle" textLength="9.30" lengthAdjust="spacingAndGlyphs" stroke="#231f20" stroke-width="0.12">NS</text>
<path d="M402.55 62.10V59.70H416.95V62.10" fill="none" stroke="#231f20" stroke-width="0.8"/>
<text x="409.75" y="60.80" font-size="8.4" text-anchor="middle" font-weight="bold" stroke="#231f20" stroke-width="0.25">*</text>
<path d="M402.55 74.60V71.20H409.85V74.60" fill="none" stroke="#231f20" stroke-width="0.8"/>
<text x="406.20" y="69.25" font-size="8.1" text-anchor="middle" textLength="9.30" lengthAdjust="spacingAndGlyphs" stroke="#231f20" stroke-width="0.12">NS</text>
<path d="M409.25 87.10V84.70H416.95V87.10" fill="none" stroke="#231f20" stroke-width="0.8"/>
<text x="413.10" y="85.80" font-size="8.4" text-anchor="middle" font-weight="bold" stroke="#231f20" stroke-width="0.25">*</text>
<path d="M424.85 48.60V46.00H439.25V48.60" fill="none" stroke="#231f20" stroke-width="0.8"/>
<text x="432.05" y="43.35" font-size="8.1" text-anchor="middle" textLength="9.30" lengthAdjust="spacingAndGlyphs" stroke="#231f20" stroke-width="0.12">NS</text>
<path d="M424.85 61.20V58.10H432.15V61.20" fill="none" stroke="#231f20" stroke-width="0.8"/>
<text x="428.50" y="55.85" font-size="8.1" text-anchor="middle" textLength="9.30" lengthAdjust="spacingAndGlyphs" stroke="#231f20" stroke-width="0.12">NS</text>
<path d="M431.55 73.60V71.00H439.25V73.60" fill="none" stroke="#231f20" stroke-width="0.8"/>
<text x="435.40" y="68.35" font-size="8.1" text-anchor="middle" textLength="9.30" lengthAdjust="spacingAndGlyphs" stroke="#231f20" stroke-width="0.12">NS</text>
<path d="M447.05 65.60V63.30H461.45V65.60" fill="none" stroke="#231f20" stroke-width="0.8"/>
<text x="454.25" y="64.70" font-size="8.4" text-anchor="middle" font-weight="bold" stroke="#231f20" stroke-width="0.25">*</text>
<path d="M447.05 77.90V75.40H454.35V77.90" fill="none" stroke="#231f20" stroke-width="0.8"/>
<text x="450.70" y="72.55" font-size="8.1" text-anchor="middle" textLength="9.30" lengthAdjust="spacingAndGlyphs" stroke="#231f20" stroke-width="0.12">NS</text>
<path d="M453.75 91.00V88.30H461.45V91.00" fill="none" stroke="#231f20" stroke-width="0.8"/>
<text x="457.60" y="89.70" font-size="8.4" text-anchor="middle" font-weight="bold" stroke="#231f20" stroke-width="0.25">*</text>
<path d="M469.35 48.60V46.00H483.75V48.60" fill="none" stroke="#231f20" stroke-width="0.8"/>
<text x="476.55" y="43.35" font-size="8.1" text-anchor="middle" textLength="9.30" lengthAdjust="spacingAndGlyphs" stroke="#231f20" stroke-width="0.12">NS</text>
<path d="M469.35 60.60V58.10H476.65V60.60" fill="none" stroke="#231f20" stroke-width="0.8"/>
<text x="473.00" y="55.85" font-size="8.1" text-anchor="middle" textLength="9.30" lengthAdjust="spacingAndGlyphs" stroke="#231f20" stroke-width="0.12">NS</text>
<path d="M476.05 73.60V71.00H483.75V73.60" fill="none" stroke="#231f20" stroke-width="0.8"/>
<text x="479.90" y="68.35" font-size="8.1" text-anchor="middle" textLength="9.30" lengthAdjust="spacingAndGlyphs" stroke="#231f20" stroke-width="0.12">NS</text>
<path d="M491.55 63.10V60.80H505.95V63.10" fill="none" stroke="#231f20" stroke-width="0.8"/>
<text x="498.75" y="57.75" font-size="8.1" text-anchor="middle" textLength="9.30" lengthAdjust="spacingAndGlyphs" stroke="#231f20" stroke-width="0.12">NS</text>
<path d="M491.55 75.60V73.30H498.85V75.60" fill="none" stroke="#231f20" stroke-width="0.8"/>
<text x="495.20" y="70.65" font-size="8.1" text-anchor="middle" textLength="9.30" lengthAdjust="spacingAndGlyphs" stroke="#231f20" stroke-width="0.12">NS</text>
<path d="M498.25 88.10V85.40H505.95V88.10" fill="none" stroke="#231f20" stroke-width="0.8"/>
<text x="502.10" y="82.75" font-size="8.1" text-anchor="middle" textLength="9.30" lengthAdjust="spacingAndGlyphs" stroke="#231f20" stroke-width="0.12">NS</text>
<text x="353.90" y="91.40" font-size="8.2" text-anchor="middle" textLength="52.70" lengthAdjust="spacingAndGlyphs" transform="rotate(-90 353.90 91.40)" stroke="#231f20" stroke-width="0.12">RNA abundance</text>
<line x1="342.00" y1="260.40" x2="342.00" y2="384.20" stroke="#3c3c3c" stroke-width="1.05"/>
<line x1="375.40" y1="260.40" x2="375.40" y2="384.20" stroke="#3c3c3c" stroke-width="1.05"/>
<line x1="408.80" y1="260.40" x2="408.80" y2="384.20" stroke="#3c3c3c" stroke-width="1.05"/>
<line x1="442.20" y1="260.40" x2="442.20" y2="384.20" stroke="#3c3c3c" stroke-width="1.05"/>
<line x1="475.50" y1="260.40" x2="475.50" y2="384.20" stroke="#3c3c3c" stroke-width="1.05"/>
<line x1="308.80" y1="260.40" x2="308.80" y2="384.70" stroke="#3a3a3a" stroke-width="1.2"/>
<line x1="308.20" y1="384.20" x2="513.10" y2="384.20" stroke="#3a3a3a" stroke-width="1.2"/>
<line x1="306.20" y1="378.40" x2="308.80" y2="378.40" stroke="#3a3a3a" stroke-width="0.9"/>
<text x="303.30" y="381.42" font-size="8.4" text-anchor="end" stroke="#231f20" stroke-width="0.12">0.0</text>
<line x1="306.20" y1="355.06" x2="308.80" y2="355.06" stroke="#3a3a3a" stroke-width="0.9"/>
<text x="303.30" y="358.08" font-size="8.4" text-anchor="end" stroke="#231f20" stroke-width="0.12">0.2</text>
<line x1="306.20" y1="331.72" x2="308.80" y2="331.72" stroke="#3a3a3a" stroke-width="0.9"/>
<text x="303.30" y="334.74" font-size="8.4" text-anchor="end" stroke="#231f20" stroke-width="0.12">0.4</text>
<line x1="306.20" y1="308.38" x2="308.80" y2="308.38" stroke="#3a3a3a" stroke-width="0.9"/>
<text x="303.30" y="311.40" font-size="8.4" text-anchor="end" stroke="#231f20" stroke-width="0.12">0.6</text>
<line x1="306.20" y1="285.04" x2="308.80" y2="285.04" stroke="#3a3a3a" stroke-width="0.9"/>
<text x="303.30" y="288.06" font-size="8.4" text-anchor="end" stroke="#231f20" stroke-width="0.12">0.8</text>
<line x1="306.20" y1="261.70" x2="308.80" y2="261.70" stroke="#3a3a3a" stroke-width="0.9"/>
<text x="303.30" y="264.72" font-size="8.4" text-anchor="end" stroke="#231f20" stroke-width="0.12">1.0</text>
<line x1="325.40" y1="384.20" x2="325.40" y2="386.80" stroke="#3a3a3a" stroke-width="0.9"/>
<text x="327.64" y="391.20" font-size="8.3" text-anchor="end" textLength="24.50" lengthAdjust="spacingAndGlyphs" transform="rotate(-90 327.64 391.20)" stroke="#231f20" stroke-width="0.12">KPNA1</text>
<line x1="358.70" y1="384.20" x2="358.70" y2="386.80" stroke="#3a3a3a" stroke-width="0.9"/>
<text x="360.94" y="391.20" font-size="8.3" text-anchor="end" textLength="24.50" lengthAdjust="spacingAndGlyphs" transform="rotate(-90 360.94 391.20)" stroke="#231f20" stroke-width="0.12">KPNA2</text>
<line x1="392.10" y1="384.20" x2="392.10" y2="386.80" stroke="#3a3a3a" stroke-width="0.9"/>
<text x="394.34" y="391.20" font-size="8.3" text-anchor="end" textLength="24.50" lengthAdjust="spacingAndGlyphs" transform="rotate(-90 394.34 391.20)" stroke="#231f20" stroke-width="0.12">KPNA3</text>
<line x1="425.50" y1="384.20" x2="425.50" y2="386.80" stroke="#3a3a3a" stroke-width="0.9"/>
<text x="427.74" y="391.20" font-size="8.3" text-anchor="end" textLength="24.50" lengthAdjust="spacingAndGlyphs" transform="rotate(-90 427.74 391.20)" stroke="#231f20" stroke-width="0.12">KPNA4</text>
<line x1="458.85" y1="384.20" x2="458.85" y2="386.80" stroke="#3a3a3a" stroke-width="0.9"/>
<text x="461.09" y="391.20" font-size="8.3" text-anchor="end" textLength="24.50" lengthAdjust="spacingAndGlyphs" transform="rotate(-90 461.09 391.20)" stroke="#231f20" stroke-width="0.12">KPNA6</text>
<line x1="492.15" y1="384.20" x2="492.15" y2="386.80" stroke="#3a3a3a" stroke-width="0.9"/>
<text x="494.39" y="391.20" font-size="8.3" text-anchor="end" textLength="24.50" lengthAdjust="spacingAndGlyphs" transform="rotate(-90 494.39 391.20)" stroke="#231f20" stroke-width="0.12">KPNB1</text>
<line x1="315.50" y1="288.70" x2="315.50" y2="291.90" stroke="#333" stroke-width="0.8"/>
<line x1="314.00" y1="289.10" x2="317.00" y2="289.10" stroke="#111" stroke-width="0.9"/>
<line x1="315.50" y1="314.80" x2="315.50" y2="316.10" stroke="#333" stroke-width="0.8"/>
<line x1="314.00" y1="315.70" x2="317.00" y2="315.70" stroke="#111" stroke-width="0.9"/>
<rect x="312.20" y="291.90" width="6.60" height="22.90" rx="0.6" fill="#cc0a35" stroke="#b50a2f" stroke-width="0.5"/>
<line x1="312.40" y1="305.60" x2="318.60" y2="305.60" stroke="#111" stroke-width="1.15"/>
<line x1="325.40" y1="312.00" x2="325.40" y2="313.70" stroke="#333" stroke-width="0.8"/>
<line x1="323.90" y1="312.40" x2="326.90" y2="312.40" stroke="#111" stroke-width="0.9"/>
<line x1="325.40" y1="334.80" x2="325.40" y2="337.00" stroke="#333" stroke-width="0.8"/>
<line x1="323.90" y1="336.60" x2="326.90" y2="336.60" stroke="#111" stroke-width="0.9"/>
<rect x="322.10" y="313.70" width="6.60" height="21.10" rx="0.6" fill="#0d4a86" stroke="#0a3d70" stroke-width="0.5"/>
<line x1="322.30" y1="322.30" x2="328.50" y2="322.30" stroke="#111" stroke-width="1.15"/>
<line x1="335.90" y1="349.60" x2="335.90" y2="354.20" stroke="#333" stroke-width="0.8"/>
<line x1="334.40" y1="350.00" x2="337.40" y2="350.00" stroke="#111" stroke-width="0.9"/>
<line x1="335.90" y1="363.60" x2="335.90" y2="367.90" stroke="#333" stroke-width="0.8"/>
<line x1="334.40" y1="367.50" x2="337.40" y2="367.50" stroke="#111" stroke-width="0.9"/>
<rect x="332.60" y="354.20" width="6.60" height="9.40" rx="0.6" fill="#fb9600" stroke="#e08500" stroke-width="0.5"/>
<line x1="332.80" y1="358.50" x2="339.00" y2="358.50" stroke="#111" stroke-width="1.15"/>
<line x1="348.70" y1="277.30" x2="348.70" y2="279.20" stroke="#333" stroke-width="0.8"/>
<line x1="347.20" y1="277.70" x2="350.20" y2="277.70" stroke="#111" stroke-width="0.9"/>
<line x1="348.70" y1="309.40" x2="348.70" y2="312.40" stroke="#333" stroke-width="0.8"/>
<line x1="347.20" y1="312.00" x2="350.20" y2="312.00" stroke="#111" stroke-width="0.9"/>
<rect x="345.40" y="279.20" width="6.60" height="30.20" rx="0.6" fill="#cc0a35" stroke="#b50a2f" stroke-width="0.5"/>
<line x1="345.60" y1="292.70" x2="351.80" y2="292.70" stroke="#111" stroke-width="1.15"/>
<line x1="358.60" y1="297.30" x2="358.60" y2="298.00" stroke="#333" stroke-width="0.8"/>
<line x1="357.10" y1="297.70" x2="360.10" y2="297.70" stroke="#111" stroke-width="0.9"/>
<line x1="358.60" y1="322.20" x2="358.60" y2="326.90" stroke="#333" stroke-width="0.8"/>
<line x1="357.10" y1="326.50" x2="360.10" y2="326.50" stroke="#111" stroke-width="0.9"/>
<rect x="355.30" y="298.00" width="6.60" height="24.20" rx="0.6" fill="#0d4a86" stroke="#0a3d70" stroke-width="0.5"/>
<line x1="355.50" y1="305.40" x2="361.70" y2="305.40" stroke="#111" stroke-width="1.15"/>
<line x1="369.10" y1="318.30" x2="369.10" y2="331.30" stroke="#333" stroke-width="0.8"/>
<line x1="367.60" y1="318.70" x2="370.60" y2="318.70" stroke="#111" stroke-width="0.9"/>
<line x1="369.10" y1="347.50" x2="369.10" y2="351.00" stroke="#333" stroke-width="0.8"/>
<line x1="367.60" y1="350.60" x2="370.60" y2="350.60" stroke="#111" stroke-width="0.9"/>
<rect x="365.80" y="331.30" width="6.60" height="16.20" rx="0.6" fill="#fb9600" stroke="#e08500" stroke-width="0.5"/>
<line x1="366.00" y1="345.00" x2="372.20" y2="345.00" stroke="#111" stroke-width="1.15"/>
<line x1="382.10" y1="282.00" x2="382.10" y2="284.60" stroke="#333" stroke-width="0.8"/>
<line x1="380.60" y1="282.40" x2="383.60" y2="282.40" stroke="#111" stroke-width="0.9"/>
<line x1="382.10" y1="294.90" x2="382.10" y2="296.00" stroke="#333" stroke-width="0.8"/>
<line x1="380.60" y1="295.60" x2="383.60" y2="295.60" stroke="#111" stroke-width="0.9"/>
<rect x="378.80" y="284.60" width="6.60" height="10.30" rx="0.6" fill="#cc0a35" stroke="#b50a2f" stroke-width="0.5"/>
<line x1="379.00" y1="291.40" x2="385.20" y2="291.40" stroke="#111" stroke-width="1.15"/>
<line x1="392.00" y1="347.50" x2="392.00" y2="351.00" stroke="#333" stroke-width="0.8"/>
<line x1="390.50" y1="347.90" x2="393.50" y2="347.90" stroke="#111" stroke-width="0.9"/>
<line x1="392.00" y1="363.00" x2="392.00" y2="364.40" stroke="#333" stroke-width="0.8"/>
<line x1="390.50" y1="364.00" x2="393.50" y2="364.00" stroke="#111" stroke-width="0.9"/>
<rect x="388.70" y="351.00" width="6.60" height="12.00" rx="0.6" fill="#0d4a86" stroke="#0a3d70" stroke-width="0.5"/>
<line x1="388.90" y1="359.00" x2="395.10" y2="359.00" stroke="#111" stroke-width="1.15"/>
<line x1="402.50" y1="351.50" x2="402.50" y2="353.10" stroke="#333" stroke-width="0.8"/>
<line x1="401.00" y1="351.90" x2="404.00" y2="351.90" stroke="#111" stroke-width="0.9"/>
<line x1="402.50" y1="375.20" x2="402.50" y2="378.70" stroke="#333" stroke-width="0.8"/>
<line x1="401.00" y1="378.30" x2="404.00" y2="378.30" stroke="#111" stroke-width="0.9"/>
<rect x="399.20" y="353.10" width="6.60" height="22.10" rx="0.6" fill="#fb9600" stroke="#e08500" stroke-width="0.5"/>
<line x1="399.40" y1="371.20" x2="405.60" y2="371.20" stroke="#111" stroke-width="1.15"/>
<line x1="415.50" y1="270.30" x2="415.50" y2="277.10" stroke="#333" stroke-width="0.8"/>
<line x1="414.00" y1="270.70" x2="417.00" y2="270.70" stroke="#111" stroke-width="0.9"/>
<line x1="415.50" y1="327.20" x2="415.50" y2="334.40" stroke="#333" stroke-width="0.8"/>
<line x1="414.00" y1="334.00" x2="417.00" y2="334.00" stroke="#111" stroke-width="0.9"/>
<rect x="412.20" y="277.10" width="6.60" height="50.10" rx="0.6" fill="#cc0a35" stroke="#b50a2f" stroke-width="0.5"/>
<line x1="412.40" y1="300.20" x2="418.60" y2="300.20" stroke="#111" stroke-width="1.15"/>
<line x1="425.40" y1="328.60" x2="425.40" y2="330.20" stroke="#333" stroke-width="0.8"/>
<line x1="423.90" y1="329.00" x2="426.90" y2="329.00" stroke="#111" stroke-width="0.9"/>
<line x1="425.40" y1="354.50" x2="425.40" y2="355.00" stroke="#333" stroke-width="0.8"/>
<line x1="423.90" y1="354.60" x2="426.90" y2="354.60" stroke="#111" stroke-width="0.9"/>
<rect x="422.10" y="330.20" width="6.60" height="24.30" rx="0.6" fill="#0d4a86" stroke="#0a3d70" stroke-width="0.5"/>
<line x1="422.30" y1="343.40" x2="428.50" y2="343.40" stroke="#111" stroke-width="1.15"/>
<line x1="435.90" y1="357.70" x2="435.90" y2="361.00" stroke="#333" stroke-width="0.8"/>
<line x1="434.40" y1="358.10" x2="437.40" y2="358.10" stroke="#111" stroke-width="0.9"/>
<line x1="435.90" y1="375.70" x2="435.90" y2="377.10" stroke="#333" stroke-width="0.8"/>
<line x1="434.40" y1="376.70" x2="437.40" y2="376.70" stroke="#111" stroke-width="0.9"/>
<rect x="432.60" y="361.00" width="6.60" height="14.70" rx="0.6" fill="#fb9600" stroke="#e08500" stroke-width="0.5"/>
<line x1="432.80" y1="365.80" x2="439.00" y2="365.80" stroke="#111" stroke-width="1.15"/>
<line x1="448.90" y1="295.40" x2="448.90" y2="298.10" stroke="#333" stroke-width="0.8"/>
<line x1="447.40" y1="295.80" x2="450.40" y2="295.80" stroke="#111" stroke-width="0.9"/>
<line x1="448.90" y1="317.00" x2="448.90" y2="320.20" stroke="#333" stroke-width="0.8"/>
<line x1="447.40" y1="319.80" x2="450.40" y2="319.80" stroke="#111" stroke-width="0.9"/>
<rect x="445.60" y="298.10" width="6.60" height="18.90" rx="0.6" fill="#cc0a35" stroke="#b50a2f" stroke-width="0.5"/>
<line x1="445.80" y1="306.70" x2="452.00" y2="306.70" stroke="#111" stroke-width="1.15"/>
<line x1="458.80" y1="321.20" x2="458.80" y2="322.20" stroke="#333" stroke-width="0.8"/>
<line x1="457.30" y1="321.60" x2="460.30" y2="321.60" stroke="#111" stroke-width="0.9"/>
<line x1="458.80" y1="331.50" x2="458.80" y2="332.20" stroke="#333" stroke-width="0.8"/>
<line x1="457.30" y1="331.80" x2="460.30" y2="331.80" stroke="#111" stroke-width="0.9"/>
<rect x="455.50" y="322.20" width="6.60" height="9.30" rx="0.6" fill="#0d4a86" stroke="#0a3d70" stroke-width="0.5"/>
<line x1="455.70" y1="326.50" x2="461.90" y2="326.50" stroke="#111" stroke-width="1.15"/>
<line x1="469.30" y1="335.30" x2="469.30" y2="348.80" stroke="#333" stroke-width="0.8"/>
<line x1="467.80" y1="335.70" x2="470.80" y2="335.70" stroke="#111" stroke-width="0.9"/>
<line x1="469.30" y1="378.40" x2="469.30" y2="378.90" stroke="#333" stroke-width="0.8"/>
<line x1="467.80" y1="378.50" x2="470.80" y2="378.50" stroke="#111" stroke-width="0.9"/>
<rect x="466.00" y="348.80" width="6.60" height="29.60" rx="0.6" fill="#fb9600" stroke="#e08500" stroke-width="0.5"/>
<line x1="466.20" y1="359.80" x2="472.40" y2="359.80" stroke="#111" stroke-width="1.15"/>
<line x1="482.20" y1="273.80" x2="482.20" y2="276.50" stroke="#333" stroke-width="0.8"/>
<line x1="480.70" y1="274.20" x2="483.70" y2="274.20" stroke="#111" stroke-width="0.9"/>
<line x1="482.20" y1="315.60" x2="482.20" y2="318.30" stroke="#333" stroke-width="0.8"/>
<line x1="480.70" y1="317.90" x2="483.70" y2="317.90" stroke="#111" stroke-width="0.9"/>
<rect x="478.90" y="276.50" width="6.60" height="39.10" rx="0.6" fill="#cc0a35" stroke="#b50a2f" stroke-width="0.5"/>
<line x1="479.10" y1="294.00" x2="485.30" y2="294.00" stroke="#111" stroke-width="1.15"/>
<line x1="492.10" y1="349.50" x2="492.10" y2="351.60" stroke="#333" stroke-width="0.8"/>
<line x1="490.60" y1="349.90" x2="493.60" y2="349.90" stroke="#111" stroke-width="0.9"/>
<line x1="492.10" y1="365.80" x2="492.10" y2="368.50" stroke="#333" stroke-width="0.8"/>
<line x1="490.60" y1="368.10" x2="493.60" y2="368.10" stroke="#111" stroke-width="0.9"/>
<rect x="488.80" y="351.60" width="6.60" height="14.20" rx="0.6" fill="#0d4a86" stroke="#0a3d70" stroke-width="0.5"/>
<line x1="489.00" y1="356.50" x2="495.20" y2="356.50" stroke="#111" stroke-width="1.15"/>
<line x1="502.60" y1="334.80" x2="502.60" y2="341.50" stroke="#333" stroke-width="0.8"/>
<line x1="501.10" y1="335.20" x2="504.10" y2="335.20" stroke="#111" stroke-width="0.9"/>
<line x1="502.60" y1="349.50" x2="502.60" y2="361.60" stroke="#333" stroke-width="0.8"/>
<line x1="501.10" y1="361.20" x2="504.10" y2="361.20" stroke="#111" stroke-width="0.9"/>
<rect x="499.30" y="341.50" width="6.60" height="8.00" rx="0.6" fill="#fb9600" stroke="#e08500" stroke-width="0.5"/>
<line x1="499.50" y1="346.30" x2="505.70" y2="346.30" stroke="#111" stroke-width="1.15"/>
<path d="M315.20 269.60V267.10H336.20V269.60" fill="none" stroke="#231f20" stroke-width="0.8"/>
<text x="325.70" y="267.70" font-size="8.4" text-anchor="middle" font-weight="bold" stroke="#231f20" stroke-width="0.25">*</text>
<path d="M315.20 277.60V274.60H325.70V277.60" fill="none" stroke="#231f20" stroke-width="0.8"/>
<text x="320.45" y="276.30" font-size="8.4" text-anchor="middle" font-weight="bold" stroke="#231f20" stroke-width="0.25">*</text>
<path d="M325.10 285.80V283.30H336.20V285.80" fill="none" stroke="#231f20" stroke-width="0.8"/>
<text x="330.65" y="284.40" font-size="8.4" text-anchor="middle" font-weight="bold" stroke="#231f20" stroke-width="0.25">*</text>
<path d="M348.40 253.40V251.00H369.40V253.40" fill="none" stroke="#231f20" stroke-width="0.8"/>
<text x="358.90" y="251.60" font-size="8.4" text-anchor="middle" font-weight="bold" stroke="#231f20" stroke-width="0.25">*</text>
<path d="M348.40 266.40V263.80H358.90V266.40" fill="none" stroke="#231f20" stroke-width="0.8"/>
<text x="353.65" y="260.35" font-size="8.1" text-anchor="middle" textLength="10.15" lengthAdjust="spacingAndGlyphs" stroke="#231f20" stroke-width="0.12">NS</text>
<path d="M358.30 274.40V272.00H369.40V274.40" fill="none" stroke="#231f20" stroke-width="0.8"/>
<text x="363.85" y="273.00" font-size="8.4" text-anchor="middle" font-weight="bold" stroke="#231f20" stroke-width="0.25">*</text>
<path d="M381.80 257.80V255.30H402.80V257.80" fill="none" stroke="#231f20" stroke-width="0.8"/>
<text x="392.30" y="257.00" font-size="8.4" text-anchor="middle" font-weight="bold" stroke="#231f20" stroke-width="0.25">*</text>
<path d="M381.80 266.40V263.80H392.30V266.40" fill="none" stroke="#231f20" stroke-width="0.8"/>
<text x="387.05" y="265.00" font-size="8.4" text-anchor="middle" font-weight="bold" stroke="#231f20" stroke-width="0.25">*</text>
<path d="M391.70 279.30V276.80H402.80V279.30" fill="none" stroke="#231f20" stroke-width="0.8"/>
<text x="397.25" y="273.35" font-size="8.1" text-anchor="middle" textLength="10.15" lengthAdjust="spacingAndGlyphs" stroke="#231f20" stroke-width="0.12">NS</text>
<path d="M415.20 250.80V248.30H436.20V250.80" fill="none" stroke="#231f20" stroke-width="0.8"/>
<text x="425.70" y="249.70" font-size="8.4" text-anchor="middle" font-weight="bold" stroke="#231f20" stroke-width="0.25">*</text>
<path d="M415.20 258.80V256.30H425.70V258.80" fill="none" stroke="#231f20" stroke-width="0.8"/>
<text x="420.45" y="257.80" font-size="8.4" text-anchor="middle" font-weight="bold" stroke="#231f20" stroke-width="0.25">*</text>
<path d="M425.10 267.20V264.70H436.20V267.20" fill="none" stroke="#231f20" stroke-width="0.8"/>
<text x="430.65" y="265.80" font-size="8.4" text-anchor="middle" font-weight="bold" stroke="#231f20" stroke-width="0.25">*</text>
<path d="M448.60 276.30V273.80H469.60V276.30" fill="none" stroke="#231f20" stroke-width="0.8"/>
<text x="459.10" y="275.00" font-size="8.4" text-anchor="middle" font-weight="bold" stroke="#231f20" stroke-width="0.25">*</text>
<path d="M448.60 284.60V282.20H459.10V284.60" fill="none" stroke="#231f20" stroke-width="0.8"/>
<text x="453.85" y="283.00" font-size="8.4" text-anchor="middle" font-weight="bold" stroke="#231f20" stroke-width="0.25">*</text>
<path d="M458.50 292.80V290.30H469.60V292.80" fill="none" stroke="#231f20" stroke-width="0.8"/>
<text x="464.05" y="291.20" font-size="8.4" text-anchor="middle" font-weight="bold" stroke="#231f20" stroke-width="0.25">*</text>
<path d="M481.90 249.70V247.20H502.90V249.70" fill="none" stroke="#231f20" stroke-width="0.8"/>
<text x="492.40" y="248.90" font-size="8.4" text-anchor="middle" font-weight="bold" stroke="#231f20" stroke-width="0.25">*</text>
<path d="M481.90 257.80V255.30H492.40V257.80" fill="none" stroke="#231f20" stroke-width="0.8"/>
<text x="487.15" y="257.00" font-size="8.4" text-anchor="middle" font-weight="bold" stroke="#231f20" stroke-width="0.25">*</text>
<path d="M491.80 271.20V268.70H502.90V271.20" fill="none" stroke="#231f20" stroke-width="0.8"/>
<text x="497.35" y="265.25" font-size="8.1" text-anchor="middle" textLength="10.15" lengthAdjust="spacingAndGlyphs" stroke="#231f20" stroke-width="0.12">NS</text>
<text x="286.00" y="320.10" font-size="8.6" text-anchor="middle" textLength="89.80" lengthAdjust="spacingAndGlyphs" transform="rotate(-90 286.00 320.10)" stroke="#231f20" stroke-width="0.12">Normalized spectral counts</text>
<rect x="316.00" y="422.30" width="6.80" height="6.80" fill="#cc0a35"/>
<text x="325.50" y="428.70" font-size="8.1" textLength="40.00" lengthAdjust="spacingAndGlyphs" fill="#231f20" stroke="#231f20" stroke-width="0.12">NPMc (n=6)</text>
<rect x="371.80" y="422.30" width="6.80" height="6.80" fill="#0d4a86"/>
<text x="380.80" y="428.70" font-size="8.1" textLength="42.50" lengthAdjust="spacingAndGlyphs" fill="#231f20" stroke="#231f20" stroke-width="0.12">NPM<tspan font-size="4.6" dy="-2.6">wt</tspan><tspan dy="2.6"> (n=6)</tspan></text>
<rect x="429.20" y="422.30" width="6.80" height="6.80" fill="#fb9600"/>
<text x="438.70" y="428.70" font-size="8.1" textLength="67.00" lengthAdjust="spacingAndGlyphs" fill="#231f20" stroke="#231f20" stroke-width="0.12">TurboID only (n=11)</text>
<rect x="228.40" y="187.60" width="6.80" height="6.80" fill="#cc0a35"/>
<text x="237.80" y="194.00" font-size="8.1" textLength="83.20" lengthAdjust="spacingAndGlyphs" fill="#231f20" stroke="#231f20" stroke-width="0.12"><tspan font-style="italic">NPMc</tspan> mutant AML (n=8)</text>
<rect x="327.60" y="187.60" width="6.80" height="6.80" fill="#0d4a86"/>
<text x="336.70" y="194.00" font-size="8.1" textLength="63.10" lengthAdjust="spacingAndGlyphs" fill="#231f20" stroke="#231f20" stroke-width="0.12"><tspan font-style="italic">NPM</tspan><tspan font-size="4.6" dy="-2.6">wt</tspan><tspan dy="2.6"> AML (n=36)</tspan></text>
<rect x="407.10" y="187.60" width="6.80" height="6.80" fill="#fb9600"/>
<text x="416.30" y="194.00" font-size="8.1" textLength="45.00" lengthAdjust="spacingAndGlyphs" fill="#231f20" stroke="#231f20" stroke-width="0.12">Healthy (n=3)</text>
<g>
<rect x="20.80" y="241.00" width="160.25" height="418.05" fill="#cfd0da"/>
<rect x="20.80" y="241.00" width="6.23" height="6.23" fill="#3c53a4"/>
<rect x="27.80" y="241.00" width="6.23" height="6.23" fill="#3c53a4"/>
<rect x="34.80" y="241.00" width="6.23" height="6.23" fill="#3c53a4"/>
<rect x="41.80" y="241.00" width="6.23" height="6.23" fill="#3c53a4"/>
<rect x="48.80" y="241.00" width="6.23" height="6.23" fill="#3c53a4"/>
<rect x="55.80" y="241.00" width="6.23" height="6.23" fill="#3c53a4"/>
<rect x="62.80" y="241.00" width="6.23" height="6.23" fill="#3c53a4"/>
<rect x="69.80" y="241.00" width="6.23" height="6.23" fill="#b3a2d3"/>
<rect x="76.80" y="241.00" width="6.23" height="6.23" fill="#3c53a4"/>
<rect x="83.80" y="241.00" width="6.23" height="6.23" fill="#3c53a4"/>
<rect x="90.80" y="241.00" width="6.23" height="6.23" fill="#3c53a4"/>
<rect x="97.80" y="241.00" width="6.23" height="6.23" fill="#fcdacd"/>
<rect x="104.80" y="241.00" width="6.23" height="6.23" fill="#f9bba6"/>
<rect x="111.80" y="241.00" width="6.23" height="6.23" fill="#ec1c24"/>
<rect x="118.80" y="241.00" width="6.23" height="6.23" fill="#b3a2d3"/>
<rect x="125.80" y="241.00" width="6.23" height="6.23" fill="#8c7bbf"/>
<rect x="132.80" y="241.00" width="6.23" height="6.23" fill="#b3a2d3"/>
<rect x="139.80" y="241.00" width="6.23" height="6.23" fill="#ee5540"/>
<rect x="146.80" y="241.00" width="6.23" height="6.23" fill="#ee5540"/>
<rect x="153.80" y="241.00" width="6.23" height="6.23" fill="#ec1c24"/>
<rect x="160.80" y="241.00" width="6.23" height="6.23" fill="#ddd3ea"/>
<rect x="167.80" y="241.00" width="6.23" height="6.23" fill="#8c7bbf"/>
<rect x="174.80" y="241.00" width="6.23" height="6.23" fill="#3c53a4"/>
<rect x="20.80" y="247.98" width="6.23" height="6.23" fill="#6157ab"/>
<rect x="27.80" y="247.98" width="6.23" height="6.23" fill="#6157ab"/>
<rect x="34.80" y="247.98" width="6.23" height="6.23" fill="#6157ab"/>
<rect x="41.80" y="247.98" width="6.23" height="6.23" fill="#6157ab"/>
<rect x="48.80" y="247.98" width="6.23" height="6.23" fill="#6157ab"/>
<rect x="55.80" y="247.98" width="6.23" height="6.23" fill="#6157ab"/>
<rect x="62.80" y="247.98" width="6.23" height="6.23" fill="#6157ab"/>
<rect x="69.80" y="247.98" width="6.23" height="6.23" fill="#6157ab"/>
<rect x="76.80" y="247.98" width="6.23" height="6.23" fill="#6157ab"/>
<rect x="83.80" y="247.98" width="6.23" height="6.23" fill="#6157ab"/>
<rect x="90.80" y="247.98" width="6.23" height="6.23" fill="#6157ab"/>
<rect x="97.80" y="247.98" width="6.23" height="6.23" fill="#fbf4f2"/>
<rect x="104.80" y="247.98" width="6.23" height="6.23" fill="#f4917a"/>
<rect x="111.80" y="247.98" width="6.23" height="6.23" fill="#fcdacd"/>
<rect x="118.80" y="247.98" width="6.23" height="6.23" fill="#6157ab"/>
<rect x="125.80" y="247.98" width="6.23" height="6.23" fill="#6157ab"/>
<rect x="132.80" y="247.98" width="6.23" height="6.23" fill="#6157ab"/>
<rect x="139.80" y="247.98" width="6.23" height="6.23" fill="#ec1c24"/>
<rect x="146.80" y="247.98" width="6.23" height="6.23" fill="#ec1c24"/>
<rect x="153.80" y="247.98" width="6.23" height="6.23" fill="#ec1c24"/>
<rect x="160.80" y="247.98" width="6.23" height="6.23" fill="#6157ab"/>
<rect x="167.80" y="247.98" width="6.23" height="6.23" fill="#6157ab"/>
<rect x="174.80" y="247.98" width="6.23" height="6.23" fill="#6157ab"/>
<rect x="20.80" y="254.96" width="6.23" height="6.23" fill="#3c53a4"/>
<rect x="27.80" y="254.96" width="6.23" height="6.23" fill="#3c53a4"/>
<rect x="34.80" y="254.96" width="6.23" height="6.23" fill="#3c53a4"/>
<rect x="41.80" y="254.96" width="6.23" height="6.23" fill="#3c53a4"/>
<rect x="48.80" y="254.96" width="6.23" height="6.23" fill="#3c53a4"/>
<rect x="55.80" y="254.96" width="6.23" height="6.23" fill="#3c53a4"/>
<rect x="62.80" y="254.96" width="6.23" height="6.23" fill="#3c53a4"/>
<rect x="69.80" y="254.96" width="6.23" height="6.23" fill="#3c53a4"/>
<rect x="76.80" y="254.96" width="6.23" height="6.23" fill="#3c53a4"/>
<rect x="83.80" y="254.96" width="6.23" height="6.23" fill="#3c53a4"/>
<rect x="90.80" y="254.96" width="6.23" height="6.23" fill="#3c53a4"/>
<rect x="97.80" y="254.96" width="6.23" height="6.23" fill="#fcdacd"/>
<rect x="104.80" y="254.96" width="6.23" height="6.23" fill="#f4917a"/>
<rect x="111.80" y="254.96" width="6.23" height="6.23" fill="#ec1c24"/>
<rect x="118.80" y="254.96" width="6.23" height="6.23" fill="#3c53a4"/>
<rect x="125.80" y="254.96" width="6.23" height="6.23" fill="#3c53a4"/>
<rect x="132.80" y="254.96" width="6.23" height="6.23" fill="#fbf4f2"/>
<rect x="139.80" y="254.96" width="6.23" height="6.23" fill="#ec1c24"/>
<rect x="146.80" y="254.96" width="6.23" height="6.23" fill="#ec1c24"/>
<rect x="153.80" y="254.96" width="6.23" height="6.23" fill="#ec1c24"/>
<rect x="160.80" y="254.96" width="6.23" height="6.23" fill="#3c53a4"/>
<rect x="167.80" y="254.96" width="6.23" height="6.23" fill="#b3a2d3"/>
<rect x="174.80" y="254.96" width="6.23" height="6.23" fill="#3c53a4"/>
<rect x="20.80" y="261.94" width="6.23" height="6.23" fill="#6157ab"/>
<rect x="27.80" y="261.94" width="6.23" height="6.23" fill="#6157ab"/>
<rect x="34.80" y="261.94" width="6.23" height="6.23" fill="#6157ab"/>
<rect x="41.80" y="261.94" width="6.23" height="6.23" fill="#6157ab"/>
<rect x="48.80" y="261.94" width="6.23" height="6.23" fill="#6157ab"/>
<rect x="55.80" y="261.94" width="6.23" height="6.23" fill="#6157ab"/>
<rect x="62.80" y="261.94" width="6.23" height="6.23" fill="#6157ab"/>
<rect x="69.80" y="261.94" width="6.23" height="6.23" fill="#6157ab"/>
<rect x="76.80" y="261.94" width="6.23" height="6.23" fill="#6157ab"/>
<rect x="83.80" y="261.94" width="6.23" height="6.23" fill="#6157ab"/>
<rect x="90.80" y="261.94" width="6.23" height="6.23" fill="#6157ab"/>
<rect x="97.80" y="261.94" width="6.23" height="6.23" fill="#fcdacd"/>
<rect x="104.80" y="261.94" width="6.23" height="6.23" fill="#fcdacd"/>
<rect x="111.80" y="261.94" width="6.23" height="6.23" fill="#ec1c24"/>
<rect x="118.80" y="261.94" width="6.23" height="6.23" fill="#6157ab"/>
<rect x="125.80" y="261.94" width="6.23" height="6.23" fill="#6157ab"/>
<rect x="132.80" y="261.94" width="6.23" height="6.23" fill="#6157ab"/>
<rect x="139.80" y="261.94" width="6.23" height="6.23" fill="#ec1c24"/>
<rect x="146.80" y="261.94" width="6.23" height="6.23" fill="#ec1c24"/>
<rect x="153.80" y="261.94" width="6.23" height="6.23" fill="#ec1c24"/>
<rect x="160.80" y="261.94" width="6.23" height="6.23" fill="#6157ab"/>
<rect x="167.80" y="261.94" width="6.23" height="6.23" fill="#6157ab"/>
<rect x="174.80" y="261.94" width="6.23" height="6.23" fill="#6157ab"/>
<rect x="20.80" y="268.92" width="6.23" height="6.23" fill="#3c53a4"/>
<rect x="27.80" y="268.92" width="6.23" height="6.23" fill="#3c53a4"/>
<rect x="34.80" y="268.92" width="6.23" height="6.23" fill="#3c53a4"/>
<rect x="41.80" y="268.92" width="6.23" height="6.23" fill="#3c53a4"/>
<rect x="48.80" y="268.92" width="6.23" height="6.23" fill="#3c53a4"/>
<rect x="55.80" y="268.92" width="6.23" height="6.23" fill="#3c53a4"/>
<rect x="62.80" y="268.92" width="6.23" height="6.23" fill="#3c53a4"/>
<rect x="69.80" y="268.92" width="6.23" height="6.23" fill="#3c53a4"/>
<rect x="76.80" y="268.92" width="6.23" height="6.23" fill="#3c53a4"/>
<rect x="83.80" y="268.92" width="6.23" height="6.23" fill="#3c53a4"/>
<rect x="90.80" y="268.92" width="6.23" height="6.23" fill="#3c53a4"/>
<rect x="97.80" y="268.92" width="6.23" height="6.23" fill="#ec1c24"/>
<rect x="104.80" y="268.92" width="6.23" height="6.23" fill="#ec1c24"/>
<rect x="111.80" y="268.92" width="6.23" height="6.23" fill="#ee5540"/>
<rect x="118.80" y="268.92" width="6.23" height="6.23" fill="#3c53a4"/>
<rect x="125.80" y="268.92" width="6.23" height="6.23" fill="#ddd3ea"/>
<rect x="132.80" y="268.92" width="6.23" height="6.23" fill="#ddd3ea"/>
<rect x="139.80" y="268.92" width="6.23" height="6.23" fill="#ec1c24"/>
<rect x="146.80" y="268.92" width="6.23" height="6.23" fill="#ec1c24"/>
<rect x="153.80" y="268.92" width="6.23" height="6.23" fill="#ec1c24"/>
<rect x="160.80" y="268.92" width="6.23" height="6.23" fill="#3c53a4"/>
<rect x="167.80" y="268.92" width="6.23" height="6.23" fill="#3c53a4"/>
<rect x="174.80" y="268.92" width="6.23" height="6.23" fill="#fcdacd"/>
<rect x="20.80" y="275.90" width="6.23" height="6.23" fill="#3c53a4"/>
<rect x="27.80" y="275.90" width="6.23" height="6.23" fill="#3c53a4"/>
<rect x="34.80" y="275.90" width="6.23" height="6.23" fill="#3c53a4"/>
<rect x="41.80" y="275.90" width="6.23" height="6.23" fill="#3c53a4"/>
<rect x="48.80" y="275.90" width="6.23" height="6.23" fill="#3c53a4"/>
<rect x="55.80" y="275.90" width="6.23" height="6.23" fill="#3c53a4"/>
<rect x="62.80" y="275.90" width="6.23" height="6.23" fill="#3c53a4"/>
<rect x="69.80" y="275.90" width="6.23" height="6.23" fill="#3c53a4"/>
<rect x="76.80" y="275.90" width="6.23" height="6.23" fill="#3c53a4"/>
<rect x="83.80" y="275.90" width="6.23" height="6.23" fill="#3c53a4"/>
<rect x="90.80" y="275.90" width="6.23" height="6.23" fill="#3c53a4"/>
<rect x="97.80" y="275.90" width="6.23" height="6.23" fill="#ee5540"/>
<rect x="104.80" y="275.90" width="6.23" height="6.23" fill="#ec1c24"/>
<rect x="111.80" y="275.90" width="6.23" height="6.23" fill="#ee5540"/>
<rect x="118.80" y="275.90" width="6.23" height="6.23" fill="#fbf4f2"/>
<rect x="125.80" y="275.90" width="6.23" height="6.23" fill="#ddd3ea"/>
<rect x="132.80" y="275.90" width="6.23" height="6.23" fill="#fbf4f2"/>
<rect x="139.80" y="275.90" width="6.23" height="6.23" fill="#ec1c24"/>
<rect x="146.80" y="275.90" width="6.23" height="6.23" fill="#ec1c24"/>
<rect x="153.80" y="275.90" width="6.23" height="6.23" fill="#ec1c24"/>
<rect x="160.80" y="275.90" width="6.23" height="6.23" fill="#fcdacd"/>
<rect x="167.80" y="275.90" width="6.23" height="6.23" fill="#b3a2d3"/>
<rect x="174.80" y="275.90" width="6.23" height="6.23" fill="#b3a2d3"/>
<rect x="20.80" y="282.88" width="6.23" height="6.23" fill="#3c53a4"/>
<rect x="27.80" y="282.88" width="6.23" height="6.23" fill="#3c53a4"/>
<rect x="34.80" y="282.88" width="6.23" height="6.23" fill="#3c53a4"/>
<rect x="41.80" y="282.88" width="6.23" height="6.23" fill="#3c53a4"/>
<rect x="48.80" y="282.88" width="6.23" height="6.23" fill="#3c53a4"/>
<rect x="55.80" y="282.88" width="6.23" height="6.23" fill="#3c53a4"/>
<rect x="62.80" y="282.88" width="6.23" height="6.23" fill="#3c53a4"/>
<rect x="69.80" y="282.88" width="6.23" height="6.23" fill="#3c53a4"/>
<rect x="76.80" y="282.88" width="6.23" height="6.23" fill="#3c53a4"/>
<rect x="83.80" y="282.88" width="6.23" height="6.23" fill="#3c53a4"/>
<rect x="90.80" y="282.88" width="6.23" height="6.23" fill="#3c53a4"/>
<rect x="97.80" y="282.88" width="6.23" height="6.23" fill="#f4917a"/>
<rect x="104.80" y="282.88" width="6.23" height="6.23" fill="#f4917a"/>
<rect x="111.80" y="282.88" width="6.23" height="6.23" fill="#f4917a"/>
<rect x="118.80" y="282.88" width="6.23" height="6.23" fill="#3c53a4"/>
<rect x="125.80" y="282.88" width="6.23" height="6.23" fill="#3c53a4"/>
<rect x="132.80" y="282.88" width="6.23" height="6.23" fill="#ddd3ea"/>
<rect x="139.80" y="282.88" width="6.23" height="6.23" fill="#ec1c24"/>
<rect x="146.80" y="282.88" width="6.23" height="6.23" fill="#ec1c24"/>
<rect x="153.80" y="282.88" width="6.23" height="6.23" fill="#ec1c24"/>
<rect x="160.80" y="282.88" width="6.23" height="6.23" fill="#fcdacd"/>
<rect x="167.80" y="282.88" width="6.23" height="6.23" fill="#b3a2d3"/>
<rect x="174.80" y="282.88" width="6.23" height="6.23" fill="#fcdacd"/>
<rect x="20.80" y="289.86" width="6.23" height="6.23" fill="#3c53a4"/>
<rect x="27.80" y="289.86" width="6.23" height="6.23" fill="#3c53a4"/>
<rect x="34.80" y="289.86" width="6.23" height="6.23" fill="#3c53a4"/>
<rect x="41.80" y="289.86" width="6.23" height="6.23" fill="#3c53a4"/>
<rect x="48.80" y="289.86" width="6.23" height="6.23" fill="#3c53a4"/>
<rect x="55.80" y="289.86" width="6.23" height="6.23" fill="#3c53a4"/>
<rect x="62.80" y="289.86" width="6.23" height="6.23" fill="#3c53a4"/>
<rect x="69.80" y="289.86" width="6.23" height="6.23" fill="#3c53a4"/>
<rect x="76.80" y="289.86" width="6.23" height="6.23" fill="#3c53a4"/>
<rect x="83.80" y="289.86" width="6.23" height="6.23" fill="#3c53a4"/>
<rect x="90.80" y="289.86" width="6.23" height="6.23" fill="#3c53a4"/>
<rect x="97.80" y="289.86" width="6.23" height="6.23" fill="#f4917a"/>
<rect x="104.80" y="289.86" width="6.23" height="6.23" fill="#ec1c24"/>
<rect x="111.80" y="289.86" width="6.23" height="6.23" fill="#ec1c24"/>
<rect x="118.80" y="289.86" width="6.23" height="6.23" fill="#6157ab"/>
<rect x="125.80" y="289.86" width="6.23" height="6.23" fill="#b3a2d3"/>
<rect x="132.80" y="289.86" width="6.23" height="6.23" fill="#fcdacd"/>
<rect x="139.80" y="289.86" width="6.23" height="6.23" fill="#ec1c24"/>
<rect x="146.80" y="289.86" width="6.23" height="6.23" fill="#ec1c24"/>
<rect x="153.80" y="289.86" width="6.23" height="6.23" fill="#ec1c24"/>
<rect x="160.80" y="289.86" width="6.23" height="6.23" fill="#6157ab"/>
<rect x="167.80" y="289.86" width="6.23" height="6.23" fill="#b3a2d3"/>
<rect x="174.80" y="289.86" width="6.23" height="6.23" fill="#fcdacd"/>
<rect x="20.80" y="296.84" width="6.23" height="6.23" fill="#3c53a4"/>
<rect x="27.80" y="296.84" width="6.23" height="6.23" fill="#3c53a4"/>
<rect x="34.80" y="296.84" width="6.23" height="6.23" fill="#3c53a4"/>
<rect x="41.80" y="296.84" width="6.23" height="6.23" fill="#3c53a4"/>
<rect x="48.80" y="296.84" width="6.23" height="6.23" fill="#3c53a4"/>
<rect x="55.80" y="296.84" width="6.23" height="6.23" fill="#3c53a4"/>
<rect x="62.80" y="296.84" width="6.23" height="6.23" fill="#3c53a4"/>
<rect x="69.80" y="296.84" width="6.23" height="6.23" fill="#3c53a4"/>
<rect x="76.80" y="296.84" width="6.23" height="6.23" fill="#6157ab"/>
<rect x="83.80" y="296.84" width="6.23" height="6.23" fill="#3c53a4"/>
<rect x="90.80" y="296.84" width="6.23" height="6.23" fill="#3c53a4"/>
<rect x="97.80" y="296.84" width="6.23" height="6.23" fill="#ec1c24"/>
<rect x="104.80" y="296.84" width="6.23" height="6.23" fill="#ee5540"/>
<rect x="111.80" y="296.84" width="6.23" height="6.23" fill="#ec1c24"/>
<rect x="118.80" y="296.84" width="6.23" height="6.23" fill="#3c53a4"/>
<rect x="125.80" y="296.84" width="6.23" height="6.23" fill="#3c53a4"/>
<rect x="132.80" y="296.84" width="6.23" height="6.23" fill="#fcdacd"/>
<rect x="139.80" y="296.84" width="6.23" height="6.23" fill="#ec1c24"/>
<rect x="146.80" y="296.84" width="6.23" height="6.23" fill="#ec1c24"/>
<rect x="153.80" y="296.84" width="6.23" height="6.23" fill="#ec1c24"/>
<rect x="160.80" y="296.84" width="6.23" height="6.23" fill="#3c53a4"/>
<rect x="167.80" y="296.84" width="6.23" height="6.23" fill="#3c53a4"/>
<rect x="174.80" y="296.84" width="6.23" height="6.23" fill="#fbf4f2"/>
<rect x="20.80" y="303.82" width="6.23" height="6.23" fill="#3c53a4"/>
<rect x="27.80" y="303.82" width="6.23" height="6.23" fill="#3c53a4"/>
<rect x="34.80" y="303.82" width="6.23" height="6.23" fill="#3c53a4"/>
<rect x="41.80" y="303.82" width="6.23" height="6.23" fill="#3c53a4"/>
<rect x="48.80" y="303.82" width="6.23" height="6.23" fill="#3c53a4"/>
<rect x="55.80" y="303.82" width="6.23" height="6.23" fill="#3c53a4"/>
<rect x="62.80" y="303.82" width="6.23" height="6.23" fill="#3c53a4"/>
<rect x="69.80" y="303.82" width="6.23" height="6.23" fill="#3c53a4"/>
<rect x="76.80" y="303.82" width="6.23" height="6.23" fill="#3c53a4"/>
<rect x="83.80" y="303.82" width="6.23" height="6.23" fill="#3c53a4"/>
<rect x="90.80" y="303.82" width="6.23" height="6.23" fill="#3c53a4"/>
<rect x="97.80" y="303.82" width="6.23" height="6.23" fill="#fcdacd"/>
<rect x="104.80" y="303.82" width="6.23" height="6.23" fill="#ec1c24"/>
<rect x="111.80" y="303.82" width="6.23" height="6.23" fill="#ec1c24"/>
<rect x="118.80" y="303.82" width="6.23" height="6.23" fill="#3c53a4"/>
<rect x="125.80" y="303.82" width="6.23" height="6.23" fill="#fcdacd"/>
<rect x="132.80" y="303.82" width="6.23" height="6.23" fill="#fbf4f2"/>
<rect x="139.80" y="303.82" width="6.23" height="6.23" fill="#fcdacd"/>
<rect x="146.80" y="303.82" width="6.23" height="6.23" fill="#ec1c24"/>
<rect x="153.80" y="303.82" width="6.23" height="6.23" fill="#ec1c24"/>
<rect x="160.80" y="303.82" width="6.23" height="6.23" fill="#3c53a4"/>
<rect x="167.80" y="303.82" width="6.23" height="6.23" fill="#b3a2d3"/>
<rect x="174.80" y="303.82" width="6.23" height="6.23" fill="#3c53a4"/>
<rect x="20.80" y="310.80" width="6.23" height="6.23" fill="#3c53a4"/>
<rect x="27.80" y="310.80" width="6.23" height="6.23" fill="#3c53a4"/>
<rect x="34.80" y="310.80" width="6.23" height="6.23" fill="#3c53a4"/>
<rect x="41.80" y="310.80" width="6.23" height="6.23" fill="#3c53a4"/>
<rect x="48.80" y="310.80" width="6.23" height="6.23" fill="#3c53a4"/>
<rect x="55.80" y="310.80" width="6.23" height="6.23" fill="#3c53a4"/>
<rect x="62.80" y="310.80" width="6.23" height="6.23" fill="#3c53a4"/>
<rect x="69.80" y="310.80" width="6.23" height="6.23" fill="#3c53a4"/>
<rect x="76.80" y="310.80" width="6.23" height="6.23" fill="#3c53a4"/>
<rect x="83.80" y="310.80" width="6.23" height="6.23" fill="#3c53a4"/>
<rect x="90.80" y="310.80" width="6.23" height="6.23" fill="#3c53a4"/>
<rect x="97.80" y="310.80" width="6.23" height="6.23" fill="#fcdacd"/>
<rect x="104.80" y="310.80" width="6.23" height="6.23" fill="#ec1c24"/>
<rect x="111.80" y="310.80" width="6.23" height="6.23" fill="#ec1c24"/>
<rect x="118.80" y="310.80" width="6.23" height="6.23" fill="#fbf4f2"/>
<rect x="125.80" y="310.80" width="6.23" height="6.23" fill="#fcdacd"/>
<rect x="132.80" y="310.80" width="6.23" height="6.23" fill="#3c53a4"/>
<rect x="139.80" y="310.80" width="6.23" height="6.23" fill="#ec1c24"/>
<rect x="146.80" y="310.80" width="6.23" height="6.23" fill="#ec1c24"/>
<rect x="153.80" y="310.80" width="6.23" height="6.23" fill="#ec1c24"/>
<rect x="160.80" y="310.80" width="6.23" height="6.23" fill="#3c53a4"/>
<rect x="167.80" y="310.80" width="6.23" height="6.23" fill="#b3a2d3"/>
<rect x="174.80" y="310.80" width="6.23" height="6.23" fill="#3c53a4"/>
<rect x="20.80" y="317.78" width="6.23" height="6.23" fill="#3c53a4"/>
<rect x="27.80" y="317.78" width="6.23" height="6.23" fill="#3c53a4"/>
<rect x="34.80" y="317.78" width="6.23" height="6.23" fill="#3c53a4"/>
<rect x="41.80" y="317.78" width="6.23" height="6.23" fill="#3c53a4"/>
<rect x="48.80" y="317.78" width="6.23" height="6.23" fill="#3c53a4"/>
<rect x="55.80" y="317.78" width="6.23" height="6.23" fill="#3c53a4"/>
<rect x="62.80" y="317.78" width="6.23" height="6.23" fill="#3c53a4"/>
<rect x="69.80" y="317.78" width="6.23" height="6.23" fill="#3c53a4"/>
<rect x="76.80" y="317.78" width="6.23" height="6.23" fill="#3c53a4"/>
<rect x="83.80" y="317.78" width="6.23" height="6.23" fill="#3c53a4"/>
<rect x="90.80" y="317.78" width="6.23" height="6.23" fill="#3c53a4"/>
<rect x="97.80" y="317.78" width="6.23" height="6.23" fill="#ec1c24"/>
<rect x="104.80" y="317.78" width="6.23" height="6.23" fill="#ec1c24"/>
<rect x="111.80" y="317.78" width="6.23" height="6.23" fill="#f4917a"/>
<rect x="118.80" y="317.78" width="6.23" height="6.23" fill="#8c7bbf"/>
<rect x="125.80" y="317.78" width="6.23" height="6.23" fill="#fbf4f2"/>
<rect x="132.80" y="317.78" width="6.23" height="6.23" fill="#6157ab"/>
<rect x="139.80" y="317.78" width="6.23" height="6.23" fill="#ec1c24"/>
<rect x="146.80" y="317.78" width="6.23" height="6.23" fill="#ec1c24"/>
<rect x="153.80" y="317.78" width="6.23" height="6.23" fill="#ec1c24"/>
<rect x="160.80" y="317.78" width="6.23" height="6.23" fill="#6157ab"/>
<rect x="167.80" y="317.78" width="6.23" height="6.23" fill="#fbf4f2"/>
<rect x="174.80" y="317.78" width="6.23" height="6.23" fill="#3c53a4"/>
<rect x="20.80" y="324.76" width="6.23" height="6.23" fill="#4a53a8"/>
<rect x="27.80" y="324.76" width="6.23" height="6.23" fill="#4a53a8"/>
<rect x="34.80" y="324.76" width="6.23" height="6.23" fill="#4a53a8"/>
<rect x="41.80" y="324.76" width="6.23" height="6.23" fill="#4a53a8"/>
<rect x="48.80" y="324.76" width="6.23" height="6.23" fill="#4a53a8"/>
<rect x="55.80" y="324.76" width="6.23" height="6.23" fill="#4a53a8"/>
<rect x="62.80" y="324.76" width="6.23" height="6.23" fill="#4a53a8"/>
<rect x="69.80" y="324.76" width="6.23" height="6.23" fill="#4a53a8"/>
<rect x="76.80" y="324.76" width="6.23" height="6.23" fill="#4a53a8"/>
<rect x="83.80" y="324.76" width="6.23" height="6.23" fill="#4a53a8"/>
<rect x="90.80" y="324.76" width="6.23" height="6.23" fill="#4a53a8"/>
<rect x="97.80" y="324.76" width="6.23" height="6.23" fill="#ec1c24"/>
<rect x="104.80" y="324.76" width="6.23" height="6.23" fill="#ec1c24"/>
<rect x="111.80" y="324.76" width="6.23" height="6.23" fill="#f4917a"/>
<rect x="118.80" y="324.76" width="6.23" height="6.23" fill="#4a53a8"/>
<rect x="125.80" y="324.76" width="6.23" height="6.23" fill="#4a53a8"/>
<rect x="132.80" y="324.76" width="6.23" height="6.23" fill="#4a53a8"/>
<rect x="139.80" y="324.76" width="6.23" height="6.23" fill="#ec1c24"/>
<rect x="146.80" y="324.76" width="6.23" height="6.23" fill="#ec1c24"/>
<rect x="153.80" y="324.76" width="6.23" height="6.23" fill="#ec1c24"/>
<rect x="160.80" y="324.76" width="6.23" height="6.23" fill="#4a53a8"/>
<rect x="167.80" y="324.76" width="6.23" height="6.23" fill="#4a53a8"/>
<rect x="174.80" y="324.76" width="6.23" height="6.23" fill="#4a53a8"/>
<rect x="20.80" y="331.74" width="6.23" height="6.23" fill="#3c53a4"/>
<rect x="27.80" y="331.74" width="6.23" height="6.23" fill="#3c53a4"/>
<rect x="34.80" y="331.74" width="6.23" height="6.23" fill="#3c53a4"/>
<rect x="41.80" y="331.74" width="6.23" height="6.23" fill="#3c53a4"/>
<rect x="48.80" y="331.74" width="6.23" height="6.23" fill="#3c53a4"/>
<rect x="55.80" y="331.74" width="6.23" height="6.23" fill="#3c53a4"/>
<rect x="62.80" y="331.74" width="6.23" height="6.23" fill="#3c53a4"/>
<rect x="69.80" y="331.74" width="6.23" height="6.23" fill="#3c53a4"/>
<rect x="76.80" y="331.74" width="6.23" height="6.23" fill="#3c53a4"/>
<rect x="83.80" y="331.74" width="6.23" height="6.23" fill="#3c53a4"/>
<rect x="90.80" y="331.74" width="6.23" height="6.23" fill="#3c53a4"/>
<rect x="97.80" y="331.74" width="6.23" height="6.23" fill="#ee5540"/>
<rect x="104.80" y="331.74" width="6.23" height="6.23" fill="#ec1c24"/>
<rect x="111.80" y="331.74" width="6.23" height="6.23" fill="#ec1c24"/>
<rect x="118.80" y="331.74" width="6.23" height="6.23" fill="#8c7bbf"/>
<rect x="125.80" y="331.74" width="6.23" height="6.23" fill="#fbf4f2"/>
<rect x="132.80" y="331.74" width="6.23" height="6.23" fill="#fbf4f2"/>
<rect x="139.80" y="331.74" width="6.23" height="6.23" fill="#ec1c24"/>
<rect x="146.80" y="331.74" width="6.23" height="6.23" fill="#ec1c24"/>
<rect x="153.80" y="331.74" width="6.23" height="6.23" fill="#ec1c24"/>
<rect x="160.80" y="331.74" width="6.23" height="6.23" fill="#3c53a4"/>
<rect x="167.80" y="331.74" width="6.23" height="6.23" fill="#3c53a4"/>
<rect x="174.80" y="331.74" width="6.23" height="6.23" fill="#3c53a4"/>
<rect x="20.80" y="338.72" width="6.23" height="6.23" fill="#3c53a4"/>
<rect x="27.80" y="338.72" width="6.23" height="6.23" fill="#3c53a4"/>
<rect x="34.80" y="338.72" width="6.23" height="6.23" fill="#3c53a4"/>
<rect x="41.80" y="338.72" width="6.23" height="6.23" fill="#3c53a4"/>
<rect x="48.80" y="338.72" width="6.23" height="6.23" fill="#3c53a4"/>
<rect x="55.80" y="338.72" width="6.23" height="6.23" fill="#3c53a4"/>
<rect x="62.80" y="338.72" width="6.23" height="6.23" fill="#3c53a4"/>
<rect x="69.80" y="338.72" width="6.23" height="6.23" fill="#3c53a4"/>
<rect x="76.80" y="338.72" width="6.23" height="6.23" fill="#3c53a4"/>
<rect x="83.80" y="338.72" width="6.23" height="6.23" fill="#3c53a4"/>
<rect x="90.80" y="338.72" width="6.23" height="6.23" fill="#3c53a4"/>
<rect x="97.80" y="338.72" width="6.23" height="6.23" fill="#ec1c24"/>
<rect x="104.80" y="338.72" width="6.23" height="6.23" fill="#ec1c24"/>
<rect x="111.80" y="338.72" width="6.23" height="6.23" fill="#ec1c24"/>
<rect x="118.80" y="338.72" width="6.23" height="6.23" fill="#b3a2d3"/>
<rect x="125.80" y="338.72" width="6.23" height="6.23" fill="#3c53a4"/>
<rect x="132.80" y="338.72" width="6.23" height="6.23" fill="#3c53a4"/>
<rect x="139.80" y="338.72" width="6.23" height="6.23" fill="#ec1c24"/>
<rect x="146.80" y="338.72" width="6.23" height="6.23" fill="#ec1c24"/>
<rect x="153.80" y="338.72" width="6.23" height="6.23" fill="#ec1c24"/>
<rect x="160.80" y="338.72" width="6.23" height="6.23" fill="#3c53a4"/>
<rect x="167.80" y="338.72" width="6.23" height="6.23" fill="#3c53a4"/>
<rect x="174.80" y="338.72" width="6.23" height="6.23" fill="#3c53a4"/>
<rect x="20.80" y="345.70" width="6.23" height="6.23" fill="#3c53a4"/>
<rect x="27.80" y="345.70" width="6.23" height="6.23" fill="#3c53a4"/>
<rect x="34.80" y="345.70" width="6.23" height="6.23" fill="#3c53a4"/>
<rect x="41.80" y="345.70" width="6.23" height="6.23" fill="#3c53a4"/>
<rect x="48.80" y="345.70" width="6.23" height="6.23" fill="#3c53a4"/>
<rect x="55.80" y="345.70" width="6.23" height="6.23" fill="#3c53a4"/>
<rect x="62.80" y="345.70" width="6.23" height="6.23" fill="#3c53a4"/>
<rect x="69.80" y="345.70" width="6.23" height="6.23" fill="#3c53a4"/>
<rect x="76.80" y="345.70" width="6.23" height="6.23" fill="#3c53a4"/>
<rect x="83.80" y="345.70" width="6.23" height="6.23" fill="#3c53a4"/>
<rect x="90.80" y="345.70" width="6.23" height="6.23" fill="#3c53a4"/>
<rect x="97.80" y="345.70" width="6.23" height="6.23" fill="#ec1c24"/>
<rect x="104.80" y="345.70" width="6.23" height="6.23" fill="#ec1c24"/>
<rect x="111.80" y="345.70" width="6.23" height="6.23" fill="#ec1c24"/>
<rect x="118.80" y="345.70" width="6.23" height="6.23" fill="#3c53a4"/>
<rect x="125.80" y="345.70" width="6.23" height="6.23" fill="#3c53a4"/>
<rect x="132.80" y="345.70" width="6.23" height="6.23" fill="#8c7bbf"/>
<rect x="139.80" y="345.70" width="6.23" height="6.23" fill="#ec1c24"/>
<rect x="146.80" y="345.70" width="6.23" height="6.23" fill="#ec1c24"/>
<rect x="153.80" y="345.70" width="6.23" height="6.23" fill="#ec1c24"/>
<rect x="160.80" y="345.70" width="6.23" height="6.23" fill="#3c53a4"/>
<rect x="167.80" y="345.70" width="6.23" height="6.23" fill="#3c53a4"/>
<rect x="174.80" y="345.70" width="6.23" height="6.23" fill="#3c53a4"/>
<rect x="20.80" y="352.68" width="6.23" height="6.23" fill="#3c53a4"/>
<rect x="27.80" y="352.68" width="6.23" height="6.23" fill="#3c53a4"/>
<rect x="34.80" y="352.68" width="6.23" height="6.23" fill="#3c53a4"/>
<rect x="41.80" y="352.68" width="6.23" height="6.23" fill="#3c53a4"/>
<rect x="48.80" y="352.68" width="6.23" height="6.23" fill="#3c53a4"/>
<rect x="55.80" y="352.68" width="6.23" height="6.23" fill="#3c53a4"/>
<rect x="62.80" y="352.68" width="6.23" height="6.23" fill="#3c53a4"/>
<rect x="69.80" y="352.68" width="6.23" height="6.23" fill="#3c53a4"/>
<rect x="76.80" y="352.68" width="6.23" height="6.23" fill="#3c53a4"/>
<rect x="83.80" y="352.68" width="6.23" height="6.23" fill="#3c53a4"/>
<rect x="90.80" y="352.68" width="6.23" height="6.23" fill="#3c53a4"/>
<rect x="97.80" y="352.68" width="6.23" height="6.23" fill="#ee5540"/>
<rect x="104.80" y="352.68" width="6.23" height="6.23" fill="#ee5540"/>
<rect x="111.80" y="352.68" width="6.23" height="6.23" fill="#ec1c24"/>
<rect x="118.80" y="352.68" width="6.23" height="6.23" fill="#ddd3ea"/>
<rect x="125.80" y="352.68" width="6.23" height="6.23" fill="#fbf4f2"/>
<rect x="132.80" y="352.68" width="6.23" height="6.23" fill="#fcdacd"/>
<rect x="139.80" y="352.68" width="6.23" height="6.23" fill="#f4917a"/>
<rect x="146.80" y="352.68" width="6.23" height="6.23" fill="#ec1c24"/>
<rect x="153.80" y="352.68" width="6.23" height="6.23" fill="#ec1c24"/>
<rect x="160.80" y="352.68" width="6.23" height="6.23" fill="#3c53a4"/>
<rect x="167.80" y="352.68" width="6.23" height="6.23" fill="#fbf4f2"/>
<rect x="174.80" y="352.68" width="6.23" height="6.23" fill="#3c53a4"/>
<rect x="20.80" y="359.66" width="6.23" height="6.23" fill="#4a53a8"/>
<rect x="27.80" y="359.66" width="6.23" height="6.23" fill="#4a53a8"/>
<rect x="34.80" y="359.66" width="6.23" height="6.23" fill="#4a53a8"/>
<rect x="41.80" y="359.66" width="6.23" height="6.23" fill="#4a53a8"/>
<rect x="48.80" y="359.66" width="6.23" height="6.23" fill="#4a53a8"/>
<rect x="55.80" y="359.66" width="6.23" height="6.23" fill="#4a53a8"/>
<rect x="62.80" y="359.66" width="6.23" height="6.23" fill="#4a53a8"/>
<rect x="69.80" y="359.66" width="6.23" height="6.23" fill="#4a53a8"/>
<rect x="76.80" y="359.66" width="6.23" height="6.23" fill="#4a53a8"/>
<rect x="83.80" y="359.66" width="6.23" height="6.23" fill="#4a53a8"/>
<rect x="90.80" y="359.66" width="6.23" height="6.23" fill="#4a53a8"/>
<rect x="97.80" y="359.66" width="6.23" height="6.23" fill="#f4917a"/>
<rect x="104.80" y="359.66" width="6.23" height="6.23" fill="#ee5540"/>
<rect x="111.80" y="359.66" width="6.23" height="6.23" fill="#ec1c24"/>
<rect x="118.80" y="359.66" width="6.23" height="6.23" fill="#4a53a8"/>
<rect x="125.80" y="359.66" width="6.23" height="6.23" fill="#4a53a8"/>
<rect x="132.80" y="359.66" width="6.23" height="6.23" fill="#4a53a8"/>
<rect x="139.80" y="359.66" width="6.23" height="6.23" fill="#f4917a"/>
<rect x="146.80" y="359.66" width="6.23" height="6.23" fill="#ec1c24"/>
<rect x="153.80" y="359.66" width="6.23" height="6.23" fill="#ec1c24"/>
<rect x="160.80" y="359.66" width="6.23" height="6.23" fill="#4a53a8"/>
<rect x="167.80" y="359.66" width="6.23" height="6.23" fill="#4a53a8"/>
<rect x="174.80" y="359.66" width="6.23" height="6.23" fill="#4a53a8"/>
<rect x="20.80" y="366.64" width="6.23" height="6.23" fill="#4a53a8"/>
<rect x="27.80" y="366.64" width="6.23" height="6.23" fill="#4a53a8"/>
<rect x="34.80" y="366.64" width="6.23" height="6.23" fill="#4a53a8"/>
<rect x="41.80" y="366.64" width="6.23" height="6.23" fill="#4a53a8"/>
<rect x="48.80" y="366.64" width="6.23" height="6.23" fill="#4a53a8"/>
<rect x="55.80" y="366.64" width="6.23" height="6.23" fill="#4a53a8"/>
<rect x="62.80" y="366.64" width="6.23" height="6.23" fill="#4a53a8"/>
<rect x="69.80" y="366.64" width="6.23" height="6.23" fill="#4a53a8"/>
<rect x="76.80" y="366.64" width="6.23" height="6.23" fill="#4a53a8"/>
<rect x="83.80" y="366.64" width="6.23" height="6.23" fill="#4a53a8"/>
<rect x="90.80" y="366.64" width="6.23" height="6.23" fill="#4a53a8"/>
<rect x="97.80" y="366.64" width="6.23" height="6.23" fill="#f4917a"/>
<rect x="104.80" y="366.64" width="6.23" height="6.23" fill="#f9bba6"/>
<rect x="111.80" y="366.64" width="6.23" height="6.23" fill="#ec1c24"/>
<rect x="118.80" y="366.64" width="6.23" height="6.23" fill="#4a53a8"/>
<rect x="125.80" y="366.64" width="6.23" height="6.23" fill="#4a53a8"/>
<rect x="132.80" y="366.64" width="6.23" height="6.23" fill="#4a53a8"/>
<rect x="139.80" y="366.64" width="6.23" height="6.23" fill="#ec1c24"/>
<rect x="146.80" y="366.64" width="6.23" height="6.23" fill="#ec1c24"/>
<rect x="153.80" y="366.64" width="6.23" height="6.23" fill="#ec1c24"/>
<rect x="160.80" y="366.64" width="6.23" height="6.23" fill="#4a53a8"/>
<rect x="167.80" y="366.64" width="6.23" height="6.23" fill="#4a53a8"/>
<rect x="174.80" y="366.64" width="6.23" height="6.23" fill="#4a53a8"/>
<rect x="20.80" y="373.62" width="6.23" height="6.23" fill="#6157ab"/>
<rect x="27.80" y="373.62" width="6.23" height="6.23" fill="#b3a2d3"/>
<rect x="34.80" y="373.62" width="6.23" height="6.23" fill="#3c53a4"/>
<rect x="41.80" y="373.62" width="6.23" height="6.23" fill="#3c53a4"/>
<rect x="48.80" y="373.62" width="6.23" height="6.23" fill="#3c53a4"/>
<rect x="55.80" y="373.62" width="6.23" height="6.23" fill="#3c53a4"/>
<rect x="62.80" y="373.62" width="6.23" height="6.23" fill="#3c53a4"/>
<rect x="69.80" y="373.62" width="6.23" height="6.23" fill="#3c53a4"/>
<rect x="76.80" y="373.62" width="6.23" height="6.23" fill="#3c53a4"/>
<rect x="83.80" y="373.62" width="6.23" height="6.23" fill="#3c53a4"/>
<rect x="90.80" y="373.62" width="6.23" height="6.23" fill="#3c53a4"/>
<rect x="97.80" y="373.62" width="6.23" height="6.23" fill="#f4917a"/>
<rect x="104.80" y="373.62" width="6.23" height="6.23" fill="#ee5540"/>
<rect x="111.80" y="373.62" width="6.23" height="6.23" fill="#ec1c24"/>
<rect x="118.80" y="373.62" width="6.23" height="6.23" fill="#8c7bbf"/>
<rect x="125.80" y="373.62" width="6.23" height="6.23" fill="#ddd3ea"/>
<rect x="132.80" y="373.62" width="6.23" height="6.23" fill="#4a53a8"/>
<rect x="139.80" y="373.62" width="6.23" height="6.23" fill="#ec1c24"/>
<rect x="146.80" y="373.62" width="6.23" height="6.23" fill="#ec1c24"/>
<rect x="153.80" y="373.62" width="6.23" height="6.23" fill="#ec1c24"/>
<rect x="160.80" y="373.62" width="6.23" height="6.23" fill="#3c53a4"/>
<rect x="167.80" y="373.62" width="6.23" height="6.23" fill="#8c7bbf"/>
<rect x="174.80" y="373.62" width="6.23" height="6.23" fill="#4a53a8"/>
<rect x="20.80" y="380.60" width="6.23" height="6.23" fill="#3c53a4"/>
<rect x="27.80" y="380.60" width="6.23" height="6.23" fill="#3c53a4"/>
<rect x="34.80" y="380.60" width="6.23" height="6.23" fill="#3c53a4"/>
<rect x="41.80" y="380.60" width="6.23" height="6.23" fill="#3c53a4"/>
<rect x="48.80" y="380.60" width="6.23" height="6.23" fill="#3c53a4"/>
<rect x="55.80" y="380.60" width="6.23" height="6.23" fill="#3c53a4"/>
<rect x="62.80" y="380.60" width="6.23" height="6.23" fill="#3c53a4"/>
<rect x="69.80" y="380.60" width="6.23" height="6.23" fill="#3c53a4"/>
<rect x="76.80" y="380.60" width="6.23" height="6.23" fill="#3c53a4"/>
<rect x="83.80" y="380.60" width="6.23" height="6.23" fill="#8c7bbf"/>
<rect x="90.80" y="380.60" width="6.23" height="6.23" fill="#3c53a4"/>
<rect x="97.80" y="380.60" width="6.23" height="6.23" fill="#ec1c24"/>
<rect x="104.80" y="380.60" width="6.23" height="6.23" fill="#f4917a"/>
<rect x="111.80" y="380.60" width="6.23" height="6.23" fill="#ec1c24"/>
<rect x="118.80" y="380.60" width="6.23" height="6.23" fill="#3c53a4"/>
<rect x="125.80" y="380.60" width="6.23" height="6.23" fill="#4a53a8"/>
<rect x="132.80" y="380.60" width="6.23" height="6.23" fill="#4a53a8"/>
<rect x="139.80" y="380.60" width="6.23" height="6.23" fill="#ec1c24"/>
<rect x="146.80" y="380.60" width="6.23" height="6.23" fill="#ec1c24"/>
<rect x="153.80" y="380.60" width="6.23" height="6.23" fill="#ec1c24"/>
<rect x="160.80" y="380.60" width="6.23" height="6.23" fill="#3c53a4"/>
<rect x="167.80" y="380.60" width="6.23" height="6.23" fill="#4a53a8"/>
<rect x="174.80" y="380.60" width="6.23" height="6.23" fill="#4a53a8"/>
<rect x="20.80" y="387.58" width="6.23" height="6.23" fill="#4a53a8"/>
<rect x="27.80" y="387.58" width="6.23" height="6.23" fill="#4a53a8"/>
<rect x="34.80" y="387.58" width="6.23" height="6.23" fill="#4a53a8"/>
<rect x="41.80" y="387.58" width="6.23" height="6.23" fill="#4a53a8"/>
<rect x="48.80" y="387.58" width="6.23" height="6.23" fill="#4a53a8"/>
<rect x="55.80" y="387.58" width="6.23" height="6.23" fill="#4a53a8"/>
<rect x="62.80" y="387.58" width="6.23" height="6.23" fill="#4a53a8"/>
<rect x="69.80" y="387.58" width="6.23" height="6.23" fill="#4a53a8"/>
<rect x="76.80" y="387.58" width="6.23" height="6.23" fill="#4a53a8"/>
<rect x="83.80" y="387.58" width="6.23" height="6.23" fill="#4a53a8"/>
<rect x="90.80" y="387.58" width="6.23" height="6.23" fill="#4a53a8"/>
<rect x="97.80" y="387.58" width="6.23" height="6.23" fill="#ec1c24"/>
<rect x="104.80" y="387.58" width="6.23" height="6.23" fill="#ee5540"/>
<rect x="111.80" y="387.58" width="6.23" height="6.23" fill="#ec1c24"/>
<rect x="118.80" y="387.58" width="6.23" height="6.23" fill="#4a53a8"/>
<rect x="125.80" y="387.58" width="6.23" height="6.23" fill="#4a53a8"/>
<rect x="132.80" y="387.58" width="6.23" height="6.23" fill="#4a53a8"/>
<rect x="139.80" y="387.58" width="6.23" height="6.23" fill="#ec1c24"/>
<rect x="146.80" y="387.58" width="6.23" height="6.23" fill="#ec1c24"/>
<rect x="153.80" y="387.58" width="6.23" height="6.23" fill="#ec1c24"/>
<rect x="160.80" y="387.58" width="6.23" height="6.23" fill="#4a53a8"/>
<rect x="167.80" y="387.58" width="6.23" height="6.23" fill="#4a53a8"/>
<rect x="174.80" y="387.58" width="6.23" height="6.23" fill="#4a53a8"/>
<rect x="20.80" y="394.56" width="6.23" height="6.23" fill="#3c53a4"/>
<rect x="27.80" y="394.56" width="6.23" height="6.23" fill="#3c53a4"/>
<rect x="34.80" y="394.56" width="6.23" height="6.23" fill="#3c53a4"/>
<rect x="41.80" y="394.56" width="6.23" height="6.23" fill="#3c53a4"/>
<rect x="48.80" y="394.56" width="6.23" height="6.23" fill="#3c53a4"/>
<rect x="55.80" y="394.56" width="6.23" height="6.23" fill="#3c53a4"/>
<rect x="62.80" y="394.56" width="6.23" height="6.23" fill="#3c53a4"/>
<rect x="69.80" y="394.56" width="6.23" height="6.23" fill="#3c53a4"/>
<rect x="76.80" y="394.56" width="6.23" height="6.23" fill="#3c53a4"/>
<rect x="83.80" y="394.56" width="6.23" height="6.23" fill="#3c53a4"/>
<rect x="90.80" y="394.56" width="6.23" height="6.23" fill="#3c53a4"/>
<rect x="97.80" y="394.56" width="6.23" height="6.23" fill="#ee5540"/>
<rect x="104.80" y="394.56" width="6.23" height="6.23" fill="#ec1c24"/>
<rect x="111.80" y="394.56" width="6.23" height="6.23" fill="#f4917a"/>
<rect x="118.80" y="394.56" width="6.23" height="6.23" fill="#3c53a4"/>
<rect x="125.80" y="394.56" width="6.23" height="6.23" fill="#b3a2d3"/>
<rect x="132.80" y="394.56" width="6.23" height="6.23" fill="#3c53a4"/>
<rect x="139.80" y="394.56" width="6.23" height="6.23" fill="#ec1c24"/>
<rect x="146.80" y="394.56" width="6.23" height="6.23" fill="#ec1c24"/>
<rect x="153.80" y="394.56" width="6.23" height="6.23" fill="#ec1c24"/>
<rect x="160.80" y="394.56" width="6.23" height="6.23" fill="#3c53a4"/>
<rect x="167.80" y="394.56" width="6.23" height="6.23" fill="#f9bba6"/>
<rect x="174.80" y="394.56" width="6.23" height="6.23" fill="#3c53a4"/>
<rect x="20.80" y="401.54" width="6.23" height="6.23" fill="#3c53a4"/>
<rect x="27.80" y="401.54" width="6.23" height="6.23" fill="#3c53a4"/>
<rect x="34.80" y="401.54" width="6.23" height="6.23" fill="#3c53a4"/>
<rect x="41.80" y="401.54" width="6.23" height="6.23" fill="#3c53a4"/>
<rect x="48.80" y="401.54" width="6.23" height="6.23" fill="#3c53a4"/>
<rect x="55.80" y="401.54" width="6.23" height="6.23" fill="#3c53a4"/>
<rect x="62.80" y="401.54" width="6.23" height="6.23" fill="#3c53a4"/>
<rect x="69.80" y="401.54" width="6.23" height="6.23" fill="#3c53a4"/>
<rect x="76.80" y="401.54" width="6.23" height="6.23" fill="#3c53a4"/>
<rect x="83.80" y="401.54" width="6.23" height="6.23" fill="#3c53a4"/>
<rect x="90.80" y="401.54" width="6.23" height="6.23" fill="#3c53a4"/>
<rect x="97.80" y="401.54" width="6.23" height="6.23" fill="#ec1c24"/>
<rect x="104.80" y="401.54" width="6.23" height="6.23" fill="#ec1c24"/>
<rect x="111.80" y="401.54" width="6.23" height="6.23" fill="#f4917a"/>
<rect x="118.80" y="401.54" width="6.23" height="6.23" fill="#fcdacd"/>
<rect x="125.80" y="401.54" width="6.23" height="6.23" fill="#fcdacd"/>
<rect x="132.80" y="401.54" width="6.23" height="6.23" fill="#3c53a4"/>
<rect x="139.80" y="401.54" width="6.23" height="6.23" fill="#ee5540"/>
<rect x="146.80" y="401.54" width="6.23" height="6.23" fill="#ec1c24"/>
<rect x="153.80" y="401.54" width="6.23" height="6.23" fill="#ee5540"/>
<rect x="160.80" y="401.54" width="6.23" height="6.23" fill="#3c53a4"/>
<rect x="167.80" y="401.54" width="6.23" height="6.23" fill="#fbf4f2"/>
<rect x="174.80" y="401.54" width="6.23" height="6.23" fill="#3c53a4"/>
<rect x="20.80" y="408.52" width="6.23" height="6.23" fill="#3c53a4"/>
<rect x="27.80" y="408.52" width="6.23" height="6.23" fill="#3c53a4"/>
<rect x="34.80" y="408.52" width="6.23" height="6.23" fill="#ddd3ea"/>
<rect x="41.80" y="408.52" width="6.23" height="6.23" fill="#3c53a4"/>
<rect x="48.80" y="408.52" width="6.23" height="6.23" fill="#3c53a4"/>
<rect x="55.80" y="408.52" width="6.23" height="6.23" fill="#3c53a4"/>
<rect x="62.80" y="408.52" width="6.23" height="6.23" fill="#3c53a4"/>
<rect x="69.80" y="408.52" width="6.23" height="6.23" fill="#3c53a4"/>
<rect x="76.80" y="408.52" width="6.23" height="6.23" fill="#3c53a4"/>
<rect x="83.80" y="408.52" width="6.23" height="6.23" fill="#3c53a4"/>
<rect x="90.80" y="408.52" width="6.23" height="6.23" fill="#3c53a4"/>
<rect x="97.80" y="408.52" width="6.23" height="6.23" fill="#ee5540"/>
<rect x="104.80" y="408.52" width="6.23" height="6.23" fill="#ec1c24"/>
<rect x="111.80" y="408.52" width="6.23" height="6.23" fill="#ee5540"/>
<rect x="118.80" y="408.52" width="6.23" height="6.23" fill="#fcdacd"/>
<rect x="125.80" y="408.52" width="6.23" height="6.23" fill="#ddd3ea"/>
<rect x="132.80" y="408.52" width="6.23" height="6.23" fill="#3c53a4"/>
<rect x="139.80" y="408.52" width="6.23" height="6.23" fill="#ec1c24"/>
<rect x="146.80" y="408.52" width="6.23" height="6.23" fill="#ec1c24"/>
<rect x="153.80" y="408.52" width="6.23" height="6.23" fill="#ee5540"/>
<rect x="160.80" y="408.52" width="6.23" height="6.23" fill="#fcdacd"/>
<rect x="167.80" y="408.52" width="6.23" height="6.23" fill="#8c7bbf"/>
<rect x="174.80" y="408.52" width="6.23" height="6.23" fill="#3c53a4"/>
<rect x="20.80" y="415.50" width="6.23" height="6.23" fill="#3c53a4"/>
<rect x="27.80" y="415.50" width="6.23" height="6.23" fill="#3c53a4"/>
<rect x="34.80" y="415.50" width="6.23" height="6.23" fill="#3c53a4"/>
<rect x="41.80" y="415.50" width="6.23" height="6.23" fill="#3c53a4"/>
<rect x="48.80" y="415.50" width="6.23" height="6.23" fill="#3c53a4"/>
<rect x="55.80" y="415.50" width="6.23" height="6.23" fill="#3c53a4"/>
<rect x="62.80" y="415.50" width="6.23" height="6.23" fill="#3c53a4"/>
<rect x="69.80" y="415.50" width="6.23" height="6.23" fill="#3c53a4"/>
<rect x="76.80" y="415.50" width="6.23" height="6.23" fill="#3c53a4"/>
<rect x="83.80" y="415.50" width="6.23" height="6.23" fill="#3c53a4"/>
<rect x="90.80" y="415.50" width="6.23" height="6.23" fill="#3c53a4"/>
<rect x="97.80" y="415.50" width="6.23" height="6.23" fill="#f4917a"/>
<rect x="104.80" y="415.50" width="6.23" height="6.23" fill="#ec1c24"/>
<rect x="111.80" y="415.50" width="6.23" height="6.23" fill="#ee5540"/>
<rect x="118.80" y="415.50" width="6.23" height="6.23" fill="#fbf4f2"/>
<rect x="125.80" y="415.50" width="6.23" height="6.23" fill="#f9bba6"/>
<rect x="132.80" y="415.50" width="6.23" height="6.23" fill="#3c53a4"/>
<rect x="139.80" y="415.50" width="6.23" height="6.23" fill="#ec1c24"/>
<rect x="146.80" y="415.50" width="6.23" height="6.23" fill="#ec1c24"/>
<rect x="153.80" y="415.50" width="6.23" height="6.23" fill="#ee5540"/>
<rect x="160.80" y="415.50" width="6.23" height="6.23" fill="#fbf4f2"/>
<rect x="167.80" y="415.50" width="6.23" height="6.23" fill="#3c53a4"/>
<rect x="174.80" y="415.50" width="6.23" height="6.23" fill="#3c53a4"/>
<rect x="20.80" y="422.48" width="6.23" height="6.23" fill="#3c53a4"/>
<rect x="27.80" y="422.48" width="6.23" height="6.23" fill="#3c53a4"/>
<rect x="34.80" y="422.48" width="6.23" height="6.23" fill="#3c53a4"/>
<rect x="41.80" y="422.48" width="6.23" height="6.23" fill="#3c53a4"/>
<rect x="48.80" y="422.48" width="6.23" height="6.23" fill="#3c53a4"/>
<rect x="55.80" y="422.48" width="6.23" height="6.23" fill="#3c53a4"/>
<rect x="62.80" y="422.48" width="6.23" height="6.23" fill="#3c53a4"/>
<rect x="69.80" y="422.48" width="6.23" height="6.23" fill="#3c53a4"/>
<rect x="76.80" y="422.48" width="6.23" height="6.23" fill="#3c53a4"/>
<rect x="83.80" y="422.48" width="6.23" height="6.23" fill="#3c53a4"/>
<rect x="90.80" y="422.48" width="6.23" height="6.23" fill="#3c53a4"/>
<rect x="97.80" y="422.48" width="6.23" height="6.23" fill="#ec1c24"/>
<rect x="104.80" y="422.48" width="6.23" height="6.23" fill="#ee5540"/>
<rect x="111.80" y="422.48" width="6.23" height="6.23" fill="#fcdacd"/>
<rect x="118.80" y="422.48" width="6.23" height="6.23" fill="#8c7bbf"/>
<rect x="125.80" y="422.48" width="6.23" height="6.23" fill="#ddd3ea"/>
<rect x="132.80" y="422.48" width="6.23" height="6.23" fill="#3c53a4"/>
<rect x="139.80" y="422.48" width="6.23" height="6.23" fill="#ec1c24"/>
<rect x="146.80" y="422.48" width="6.23" height="6.23" fill="#ec1c24"/>
<rect x="153.80" y="422.48" width="6.23" height="6.23" fill="#f4917a"/>
<rect x="160.80" y="422.48" width="6.23" height="6.23" fill="#8c7bbf"/>
<rect x="167.80" y="422.48" width="6.23" height="6.23" fill="#8c7bbf"/>
<rect x="174.80" y="422.48" width="6.23" height="6.23" fill="#3c53a4"/>
<rect x="20.80" y="429.46" width="6.23" height="6.23" fill="#3c53a4"/>
<rect x="27.80" y="429.46" width="6.23" height="6.23" fill="#3c53a4"/>
<rect x="34.80" y="429.46" width="6.23" height="6.23" fill="#3c53a4"/>
<rect x="41.80" y="429.46" width="6.23" height="6.23" fill="#3c53a4"/>
<rect x="48.80" y="429.46" width="6.23" height="6.23" fill="#3c53a4"/>
<rect x="55.80" y="429.46" width="6.23" height="6.23" fill="#3c53a4"/>
<rect x="62.80" y="429.46" width="6.23" height="6.23" fill="#3c53a4"/>
<rect x="69.80" y="429.46" width="6.23" height="6.23" fill="#3c53a4"/>
<rect x="76.80" y="429.46" width="6.23" height="6.23" fill="#3c53a4"/>
<rect x="83.80" y="429.46" width="6.23" height="6.23" fill="#3c53a4"/>
<rect x="90.80" y="429.46" width="6.23" height="6.23" fill="#3c53a4"/>
<rect x="97.80" y="429.46" width="6.23" height="6.23" fill="#ec1c24"/>
<rect x="104.80" y="429.46" width="6.23" height="6.23" fill="#ec1c24"/>
<rect x="111.80" y="429.46" width="6.23" height="6.23" fill="#ee5540"/>
<rect x="118.80" y="429.46" width="6.23" height="6.23" fill="#f4917a"/>
<rect x="125.80" y="429.46" width="6.23" height="6.23" fill="#f4917a"/>
<rect x="132.80" y="429.46" width="6.23" height="6.23" fill="#f4917a"/>
<rect x="139.80" y="429.46" width="6.23" height="6.23" fill="#ec1c24"/>
<rect x="146.80" y="429.46" width="6.23" height="6.23" fill="#ec1c24"/>
<rect x="153.80" y="429.46" width="6.23" height="6.23" fill="#ec1c24"/>
<rect x="160.80" y="429.46" width="6.23" height="6.23" fill="#fcdacd"/>
<rect x="167.80" y="429.46" width="6.23" height="6.23" fill="#fcdacd"/>
<rect x="174.80" y="429.46" width="6.23" height="6.23" fill="#fbf4f2"/>
<rect x="20.80" y="436.44" width="6.23" height="6.23" fill="#3c53a4"/>
<rect x="27.80" y="436.44" width="6.23" height="6.23" fill="#3c53a4"/>
<rect x="34.80" y="436.44" width="6.23" height="6.23" fill="#3c53a4"/>
<rect x="41.80" y="436.44" width="6.23" height="6.23" fill="#3c53a4"/>
<rect x="48.80" y="436.44" width="6.23" height="6.23" fill="#3c53a4"/>
<rect x="55.80" y="436.44" width="6.23" height="6.23" fill="#3c53a4"/>
<rect x="62.80" y="436.44" width="6.23" height="6.23" fill="#3c53a4"/>
<rect x="69.80" y="436.44" width="6.23" height="6.23" fill="#3c53a4"/>
<rect x="76.80" y="436.44" width="6.23" height="6.23" fill="#3c53a4"/>
<rect x="83.80" y="436.44" width="6.23" height="6.23" fill="#3c53a4"/>
<rect x="90.80" y="436.44" width="6.23" height="6.23" fill="#3c53a4"/>
<rect x="97.80" y="436.44" width="6.23" height="6.23" fill="#ee5540"/>
<rect x="104.80" y="436.44" width="6.23" height="6.23" fill="#ec1c24"/>
<rect x="111.80" y="436.44" width="6.23" height="6.23" fill="#ee5540"/>
<rect x="118.80" y="436.44" width="6.23" height="6.23" fill="#f9bba6"/>
<rect x="125.80" y="436.44" width="6.23" height="6.23" fill="#f4917a"/>
<rect x="132.80" y="436.44" width="6.23" height="6.23" fill="#fcdacd"/>
<rect x="139.80" y="436.44" width="6.23" height="6.23" fill="#ec1c24"/>
<rect x="146.80" y="436.44" width="6.23" height="6.23" fill="#ec1c24"/>
<rect x="153.80" y="436.44" width="6.23" height="6.23" fill="#ec1c24"/>
<rect x="160.80" y="436.44" width="6.23" height="6.23" fill="#f9bba6"/>
<rect x="167.80" y="436.44" width="6.23" height="6.23" fill="#f9bba6"/>
<rect x="174.80" y="436.44" width="6.23" height="6.23" fill="#fcdacd"/>
<rect x="20.80" y="443.42" width="6.23" height="6.23" fill="#3c53a4"/>
<rect x="27.80" y="443.42" width="6.23" height="6.23" fill="#3c53a4"/>
<rect x="34.80" y="443.42" width="6.23" height="6.23" fill="#3c53a4"/>
<rect x="41.80" y="443.42" width="6.23" height="6.23" fill="#3c53a4"/>
<rect x="48.80" y="443.42" width="6.23" height="6.23" fill="#4a53a8"/>
<rect x="55.80" y="443.42" width="6.23" height="6.23" fill="#3c53a4"/>
<rect x="62.80" y="443.42" width="6.23" height="6.23" fill="#3c53a4"/>
<rect x="69.80" y="443.42" width="6.23" height="6.23" fill="#3c53a4"/>
<rect x="76.80" y="443.42" width="6.23" height="6.23" fill="#3c53a4"/>
<rect x="83.80" y="443.42" width="6.23" height="6.23" fill="#3c53a4"/>
<rect x="90.80" y="443.42" width="6.23" height="6.23" fill="#3c53a4"/>
<rect x="97.80" y="443.42" width="6.23" height="6.23" fill="#ec1c24"/>
<rect x="104.80" y="443.42" width="6.23" height="6.23" fill="#ec1c24"/>
<rect x="111.80" y="443.42" width="6.23" height="6.23" fill="#fcdacd"/>
<rect x="118.80" y="443.42" width="6.23" height="6.23" fill="#f4917a"/>
<rect x="125.80" y="443.42" width="6.23" height="6.23" fill="#ec1c24"/>
<rect x="132.80" y="443.42" width="6.23" height="6.23" fill="#fbf4f2"/>
<rect x="139.80" y="443.42" width="6.23" height="6.23" fill="#ec1c24"/>
<rect x="146.80" y="443.42" width="6.23" height="6.23" fill="#ec1c24"/>
<rect x="153.80" y="443.42" width="6.23" height="6.23" fill="#f9bba6"/>
<rect x="160.80" y="443.42" width="6.23" height="6.23" fill="#8c7bbf"/>
<rect x="167.80" y="443.42" width="6.23" height="6.23" fill="#fcdacd"/>
<rect x="174.80" y="443.42" width="6.23" height="6.23" fill="#fcdacd"/>
<rect x="20.80" y="450.40" width="6.23" height="6.23" fill="#3c53a4"/>
<rect x="27.80" y="450.40" width="6.23" height="6.23" fill="#6157ab"/>
<rect x="34.80" y="450.40" width="6.23" height="6.23" fill="#fcdacd"/>
<rect x="41.80" y="450.40" width="6.23" height="6.23" fill="#3c53a4"/>
<rect x="48.80" y="450.40" width="6.23" height="6.23" fill="#f4917a"/>
<rect x="55.80" y="450.40" width="6.23" height="6.23" fill="#6157ab"/>
<rect x="62.80" y="450.40" width="6.23" height="6.23" fill="#ddd3ea"/>
<rect x="69.80" y="450.40" width="6.23" height="6.23" fill="#6157ab"/>
<rect x="76.80" y="450.40" width="6.23" height="6.23" fill="#ddd3ea"/>
<rect x="83.80" y="450.40" width="6.23" height="6.23" fill="#fcdacd"/>
<rect x="90.80" y="450.40" width="6.23" height="6.23" fill="#3c53a4"/>
<rect x="97.80" y="450.40" width="6.23" height="6.23" fill="#3c53a4"/>
<rect x="104.80" y="450.40" width="6.23" height="6.23" fill="#3c53a4"/>
<rect x="111.80" y="450.40" width="6.23" height="6.23" fill="#3c53a4"/>
<rect x="118.80" y="450.40" width="6.23" height="6.23" fill="#ec1c24"/>
<rect x="125.80" y="450.40" width="6.23" height="6.23" fill="#ec1c24"/>
<rect x="132.80" y="450.40" width="6.23" height="6.23" fill="#ec1c24"/>
<rect x="139.80" y="450.40" width="6.23" height="6.23" fill="#6157ab"/>
<rect x="146.80" y="450.40" width="6.23" height="6.23" fill="#3c53a4"/>
<rect x="153.80" y="450.40" width="6.23" height="6.23" fill="#3c53a4"/>
<rect x="160.80" y="450.40" width="6.23" height="6.23" fill="#ee5540"/>
<rect x="167.80" y="450.40" width="6.23" height="6.23" fill="#fcdacd"/>
<rect x="174.80" y="450.40" width="6.23" height="6.23" fill="#f4917a"/>
<rect x="20.80" y="457.38" width="6.23" height="6.23" fill="#8c7bbf"/>
<rect x="27.80" y="457.38" width="6.23" height="6.23" fill="#3c53a4"/>
<rect x="34.80" y="457.38" width="6.23" height="6.23" fill="#fbf4f2"/>
<rect x="41.80" y="457.38" width="6.23" height="6.23" fill="#fbf4f2"/>
<rect x="48.80" y="457.38" width="6.23" height="6.23" fill="#b3a2d3"/>
<rect x="55.80" y="457.38" width="6.23" height="6.23" fill="#3c53a4"/>
<rect x="62.80" y="457.38" width="6.23" height="6.23" fill="#3c53a4"/>
<rect x="69.80" y="457.38" width="6.23" height="6.23" fill="#ee5540"/>
<rect x="76.80" y="457.38" width="6.23" height="6.23" fill="#8c7bbf"/>
<rect x="83.80" y="457.38" width="6.23" height="6.23" fill="#8c7bbf"/>
<rect x="90.80" y="457.38" width="6.23" height="6.23" fill="#fbf4f2"/>
<rect x="97.80" y="457.38" width="6.23" height="6.23" fill="#3c53a4"/>
<rect x="104.80" y="457.38" width="6.23" height="6.23" fill="#3c53a4"/>
<rect x="111.80" y="457.38" width="6.23" height="6.23" fill="#3c53a4"/>
<rect x="118.80" y="457.38" width="6.23" height="6.23" fill="#ec1c24"/>
<rect x="125.80" y="457.38" width="6.23" height="6.23" fill="#ec1c24"/>
<rect x="132.80" y="457.38" width="6.23" height="6.23" fill="#ec1c24"/>
<rect x="139.80" y="457.38" width="6.23" height="6.23" fill="#3c53a4"/>
<rect x="146.80" y="457.38" width="6.23" height="6.23" fill="#ddd3ea"/>
<rect x="153.80" y="457.38" width="6.23" height="6.23" fill="#8c7bbf"/>
<rect x="160.80" y="457.38" width="6.23" height="6.23" fill="#f4917a"/>
<rect x="167.80" y="457.38" width="6.23" height="6.23" fill="#f9bba6"/>
<rect x="174.80" y="457.38" width="6.23" height="6.23" fill="#f9bba6"/>
<rect x="20.80" y="464.36" width="6.23" height="6.23" fill="#3c53a4"/>
<rect x="27.80" y="464.36" width="6.23" height="6.23" fill="#3c53a4"/>
<rect x="34.80" y="464.36" width="6.23" height="6.23" fill="#3c53a4"/>
<rect x="41.80" y="464.36" width="6.23" height="6.23" fill="#3c53a4"/>
<rect x="48.80" y="464.36" width="6.23" height="6.23" fill="#3c53a4"/>
<rect x="55.80" y="464.36" width="6.23" height="6.23" fill="#6157ab"/>
<rect x="62.80" y="464.36" width="6.23" height="6.23" fill="#8c7bbf"/>
<rect x="69.80" y="464.36" width="6.23" height="6.23" fill="#3c53a4"/>
<rect x="76.80" y="464.36" width="6.23" height="6.23" fill="#3c53a4"/>
<rect x="83.80" y="464.36" width="6.23" height="6.23" fill="#3c53a4"/>
<rect x="90.80" y="464.36" width="6.23" height="6.23" fill="#3c53a4"/>
<rect x="97.80" y="464.36" width="6.23" height="6.23" fill="#8c7bbf"/>
<rect x="104.80" y="464.36" width="6.23" height="6.23" fill="#8c7bbf"/>
<rect x="111.80" y="464.36" width="6.23" height="6.23" fill="#f4917a"/>
<rect x="118.80" y="464.36" width="6.23" height="6.23" fill="#ec1c24"/>
<rect x="125.80" y="464.36" width="6.23" height="6.23" fill="#ec1c24"/>
<rect x="132.80" y="464.36" width="6.23" height="6.23" fill="#ec1c24"/>
<rect x="139.80" y="464.36" width="6.23" height="6.23" fill="#3c53a4"/>
<rect x="146.80" y="464.36" width="6.23" height="6.23" fill="#6157ab"/>
<rect x="153.80" y="464.36" width="6.23" height="6.23" fill="#8c7bbf"/>
<rect x="160.80" y="464.36" width="6.23" height="6.23" fill="#ee5540"/>
<rect x="167.80" y="464.36" width="6.23" height="6.23" fill="#f9bba6"/>
<rect x="174.80" y="464.36" width="6.23" height="6.23" fill="#f9bba6"/>
<rect x="20.80" y="471.34" width="6.23" height="6.23" fill="#6157ab"/>
<rect x="27.80" y="471.34" width="6.23" height="6.23" fill="#fcdacd"/>
<rect x="34.80" y="471.34" width="6.23" height="6.23" fill="#fcdacd"/>
<rect x="41.80" y="471.34" width="6.23" height="6.23" fill="#6157ab"/>
<rect x="48.80" y="471.34" width="6.23" height="6.23" fill="#3c53a4"/>
<rect x="55.80" y="471.34" width="6.23" height="6.23" fill="#8c7bbf"/>
<rect x="62.80" y="471.34" width="6.23" height="6.23" fill="#6157ab"/>
<rect x="69.80" y="471.34" width="6.23" height="6.23" fill="#ddd3ea"/>
<rect x="76.80" y="471.34" width="6.23" height="6.23" fill="#fcdacd"/>
<rect x="83.80" y="471.34" width="6.23" height="6.23" fill="#fcdacd"/>
<rect x="90.80" y="471.34" width="6.23" height="6.23" fill="#3c53a4"/>
<rect x="97.80" y="471.34" width="6.23" height="6.23" fill="#3c53a4"/>
<rect x="104.80" y="471.34" width="6.23" height="6.23" fill="#3c53a4"/>
<rect x="111.80" y="471.34" width="6.23" height="6.23" fill="#3c53a4"/>
<rect x="118.80" y="471.34" width="6.23" height="6.23" fill="#f4917a"/>
<rect x="125.80" y="471.34" width="6.23" height="6.23" fill="#ec1c24"/>
<rect x="132.80" y="471.34" width="6.23" height="6.23" fill="#ec1c24"/>
<rect x="139.80" y="471.34" width="6.23" height="6.23" fill="#3c53a4"/>
<rect x="146.80" y="471.34" width="6.23" height="6.23" fill="#3c53a4"/>
<rect x="153.80" y="471.34" width="6.23" height="6.23" fill="#3c53a4"/>
<rect x="160.80" y="471.34" width="6.23" height="6.23" fill="#ec1c24"/>
<rect x="167.80" y="471.34" width="6.23" height="6.23" fill="#ec1c24"/>
<rect x="174.80" y="471.34" width="6.23" height="6.23" fill="#ddd3ea"/>
<rect x="20.80" y="478.32" width="6.23" height="6.23" fill="#3c53a4"/>
<rect x="27.80" y="478.32" width="6.23" height="6.23" fill="#3c53a4"/>
<rect x="34.80" y="478.32" width="6.23" height="6.23" fill="#f4917a"/>
<rect x="41.80" y="478.32" width="6.23" height="6.23" fill="#8c7bbf"/>
<rect x="48.80" y="478.32" width="6.23" height="6.23" fill="#fbf4f2"/>
<rect x="55.80" y="478.32" width="6.23" height="6.23" fill="#3c53a4"/>
<rect x="62.80" y="478.32" width="6.23" height="6.23" fill="#3c53a4"/>
<rect x="69.80" y="478.32" width="6.23" height="6.23" fill="#8c7bbf"/>
<rect x="76.80" y="478.32" width="6.23" height="6.23" fill="#3c53a4"/>
<rect x="83.80" y="478.32" width="6.23" height="6.23" fill="#6157ab"/>
<rect x="90.80" y="478.32" width="6.23" height="6.23" fill="#b3a2d3"/>
<rect x="97.80" y="478.32" width="6.23" height="6.23" fill="#3c53a4"/>
<rect x="104.80" y="478.32" width="6.23" height="6.23" fill="#4a53a8"/>
<rect x="111.80" y="478.32" width="6.23" height="6.23" fill="#3c53a4"/>
<rect x="118.80" y="478.32" width="6.23" height="6.23" fill="#ec1c24"/>
<rect x="125.80" y="478.32" width="6.23" height="6.23" fill="#ec1c24"/>
<rect x="132.80" y="478.32" width="6.23" height="6.23" fill="#ee5540"/>
<rect x="139.80" y="478.32" width="6.23" height="6.23" fill="#3c53a4"/>
<rect x="146.80" y="478.32" width="6.23" height="6.23" fill="#ddd3ea"/>
<rect x="153.80" y="478.32" width="6.23" height="6.23" fill="#6157ab"/>
<rect x="160.80" y="478.32" width="6.23" height="6.23" fill="#ee5540"/>
<rect x="167.80" y="478.32" width="6.23" height="6.23" fill="#ec1c24"/>
<rect x="174.80" y="478.32" width="6.23" height="6.23" fill="#fbf4f2"/>
<rect x="20.80" y="485.30" width="6.23" height="6.23" fill="#3c53a4"/>
<rect x="27.80" y="485.30" width="6.23" height="6.23" fill="#3c53a4"/>
<rect x="34.80" y="485.30" width="6.23" height="6.23" fill="#f9bba6"/>
<rect x="41.80" y="485.30" width="6.23" height="6.23" fill="#b3a2d3"/>
<rect x="48.80" y="485.30" width="6.23" height="6.23" fill="#fcdacd"/>
<rect x="55.80" y="485.30" width="6.23" height="6.23" fill="#3c53a4"/>
<rect x="62.80" y="485.30" width="6.23" height="6.23" fill="#6157ab"/>
<rect x="69.80" y="485.30" width="6.23" height="6.23" fill="#fcdacd"/>
<rect x="76.80" y="485.30" width="6.23" height="6.23" fill="#3c53a4"/>
<rect x="83.80" y="485.30" width="6.23" height="6.23" fill="#8c7bbf"/>
<rect x="90.80" y="485.30" width="6.23" height="6.23" fill="#fbf4f2"/>
<rect x="97.80" y="485.30" width="6.23" height="6.23" fill="#3c53a4"/>
<rect x="104.80" y="485.30" width="6.23" height="6.23" fill="#3c53a4"/>
<rect x="111.80" y="485.30" width="6.23" height="6.23" fill="#3c53a4"/>
<rect x="118.80" y="485.30" width="6.23" height="6.23" fill="#ec1c24"/>
<rect x="125.80" y="485.30" width="6.23" height="6.23" fill="#ec1c24"/>
<rect x="132.80" y="485.30" width="6.23" height="6.23" fill="#ee5540"/>
<rect x="139.80" y="485.30" width="6.23" height="6.23" fill="#3c53a4"/>
<rect x="146.80" y="485.30" width="6.23" height="6.23" fill="#3c53a4"/>
<rect x="153.80" y="485.30" width="6.23" height="6.23" fill="#3c53a4"/>
<rect x="160.80" y="485.30" width="6.23" height="6.23" fill="#ec1c24"/>
<rect x="167.80" y="485.30" width="6.23" height="6.23" fill="#ec1c24"/>
<rect x="174.80" y="485.30" width="6.23" height="6.23" fill="#fbf4f2"/>
<rect x="20.80" y="492.28" width="6.23" height="6.23" fill="#3c53a4"/>
<rect x="27.80" y="492.28" width="6.23" height="6.23" fill="#3c53a4"/>
<rect x="34.80" y="492.28" width="6.23" height="6.23" fill="#8c7bbf"/>
<rect x="41.80" y="492.28" width="6.23" height="6.23" fill="#b3a2d3"/>
<rect x="48.80" y="492.28" width="6.23" height="6.23" fill="#b3a2d3"/>
<rect x="55.80" y="492.28" width="6.23" height="6.23" fill="#3c53a4"/>
<rect x="62.80" y="492.28" width="6.23" height="6.23" fill="#3c53a4"/>
<rect x="69.80" y="492.28" width="6.23" height="6.23" fill="#8c7bbf"/>
<rect x="76.80" y="492.28" width="6.23" height="6.23" fill="#fcdacd"/>
<rect x="83.80" y="492.28" width="6.23" height="6.23" fill="#fbf4f2"/>
<rect x="90.80" y="492.28" width="6.23" height="6.23" fill="#6157ab"/>
<rect x="97.80" y="492.28" width="6.23" height="6.23" fill="#3c53a4"/>
<rect x="104.80" y="492.28" width="6.23" height="6.23" fill="#6157ab"/>
<rect x="111.80" y="492.28" width="6.23" height="6.23" fill="#4a53a8"/>
<rect x="118.80" y="492.28" width="6.23" height="6.23" fill="#ec1c24"/>
<rect x="125.80" y="492.28" width="6.23" height="6.23" fill="#ec1c24"/>
<rect x="132.80" y="492.28" width="6.23" height="6.23" fill="#ec1c24"/>
<rect x="139.80" y="492.28" width="6.23" height="6.23" fill="#4a53a8"/>
<rect x="146.80" y="492.28" width="6.23" height="6.23" fill="#3c53a4"/>
<rect x="153.80" y="492.28" width="6.23" height="6.23" fill="#ddd3ea"/>
<rect x="160.80" y="492.28" width="6.23" height="6.23" fill="#ec1c24"/>
<rect x="167.80" y="492.28" width="6.23" height="6.23" fill="#ec1c24"/>
<rect x="174.80" y="492.28" width="6.23" height="6.23" fill="#fcdacd"/>
<rect x="20.80" y="499.26" width="6.23" height="6.23" fill="#3c53a4"/>
<rect x="27.80" y="499.26" width="6.23" height="6.23" fill="#3c53a4"/>
<rect x="34.80" y="499.26" width="6.23" height="6.23" fill="#f9bba6"/>
<rect x="41.80" y="499.26" width="6.23" height="6.23" fill="#8c7bbf"/>
<rect x="48.80" y="499.26" width="6.23" height="6.23" fill="#fcdacd"/>
<rect x="55.80" y="499.26" width="6.23" height="6.23" fill="#3c53a4"/>
<rect x="62.80" y="499.26" width="6.23" height="6.23" fill="#3c53a4"/>
<rect x="69.80" y="499.26" width="6.23" height="6.23" fill="#8c7bbf"/>
<rect x="76.80" y="499.26" width="6.23" height="6.23" fill="#f9bba6"/>
<rect x="83.80" y="499.26" width="6.23" height="6.23" fill="#fbf4f2"/>
<rect x="90.80" y="499.26" width="6.23" height="6.23" fill="#fbf4f2"/>
<rect x="97.80" y="499.26" width="6.23" height="6.23" fill="#3c53a4"/>
<rect x="104.80" y="499.26" width="6.23" height="6.23" fill="#3c53a4"/>
<rect x="111.80" y="499.26" width="6.23" height="6.23" fill="#3c53a4"/>
<rect x="118.80" y="499.26" width="6.23" height="6.23" fill="#fcdacd"/>
<rect x="125.80" y="499.26" width="6.23" height="6.23" fill="#ec1c24"/>
<rect x="132.80" y="499.26" width="6.23" height="6.23" fill="#ec1c24"/>
<rect x="139.80" y="499.26" width="6.23" height="6.23" fill="#3c53a4"/>
<rect x="146.80" y="499.26" width="6.23" height="6.23" fill="#3c53a4"/>
<rect x="153.80" y="499.26" width="6.23" height="6.23" fill="#4a53a8"/>
<rect x="160.80" y="499.26" width="6.23" height="6.23" fill="#ec1c24"/>
<rect x="167.80" y="499.26" width="6.23" height="6.23" fill="#ec1c24"/>
<rect x="174.80" y="499.26" width="6.23" height="6.23" fill="#ec1c24"/>
<rect x="20.80" y="506.24" width="6.23" height="6.23" fill="#3c53a4"/>
<rect x="27.80" y="506.24" width="6.23" height="6.23" fill="#3c53a4"/>
<rect x="34.80" y="506.24" width="6.23" height="6.23" fill="#ec1c24"/>
<rect x="41.80" y="506.24" width="6.23" height="6.23" fill="#fbf4f2"/>
<rect x="48.80" y="506.24" width="6.23" height="6.23" fill="#ee5540"/>
<rect x="55.80" y="506.24" width="6.23" height="6.23" fill="#3c53a4"/>
<rect x="62.80" y="506.24" width="6.23" height="6.23" fill="#8c7bbf"/>
<rect x="69.80" y="506.24" width="6.23" height="6.23" fill="#6157ab"/>
<rect x="76.80" y="506.24" width="6.23" height="6.23" fill="#fbf4f2"/>
<rect x="83.80" y="506.24" width="6.23" height="6.23" fill="#fcdacd"/>
<rect x="90.80" y="506.24" width="6.23" height="6.23" fill="#8c7bbf"/>
<rect x="97.80" y="506.24" width="6.23" height="6.23" fill="#3c53a4"/>
<rect x="104.80" y="506.24" width="6.23" height="6.23" fill="#3c53a4"/>
<rect x="111.80" y="506.24" width="6.23" height="6.23" fill="#3c53a4"/>
<rect x="118.80" y="506.24" width="6.23" height="6.23" fill="#ec1c24"/>
<rect x="125.80" y="506.24" width="6.23" height="6.23" fill="#ee5540"/>
<rect x="132.80" y="506.24" width="6.23" height="6.23" fill="#ee5540"/>
<rect x="139.80" y="506.24" width="6.23" height="6.23" fill="#3c53a4"/>
<rect x="146.80" y="506.24" width="6.23" height="6.23" fill="#3c53a4"/>
<rect x="153.80" y="506.24" width="6.23" height="6.23" fill="#3c53a4"/>
<rect x="160.80" y="506.24" width="6.23" height="6.23" fill="#ec1c24"/>
<rect x="167.80" y="506.24" width="6.23" height="6.23" fill="#ec1c24"/>
<rect x="174.80" y="506.24" width="6.23" height="6.23" fill="#fcdacd"/>
<rect x="20.80" y="513.22" width="6.23" height="6.23" fill="#3c53a4"/>
<rect x="27.80" y="513.22" width="6.23" height="6.23" fill="#3c53a4"/>
<rect x="34.80" y="513.22" width="6.23" height="6.23" fill="#ee5540"/>
<rect x="41.80" y="513.22" width="6.23" height="6.23" fill="#fbf4f2"/>
<rect x="48.80" y="513.22" width="6.23" height="6.23" fill="#f4917a"/>
<rect x="55.80" y="513.22" width="6.23" height="6.23" fill="#3c53a4"/>
<rect x="62.80" y="513.22" width="6.23" height="6.23" fill="#3c53a4"/>
<rect x="69.80" y="513.22" width="6.23" height="6.23" fill="#3c53a4"/>
<rect x="76.80" y="513.22" width="6.23" height="6.23" fill="#3c53a4"/>
<rect x="83.80" y="513.22" width="6.23" height="6.23" fill="#6157ab"/>
<rect x="90.80" y="513.22" width="6.23" height="6.23" fill="#3c53a4"/>
<rect x="97.80" y="513.22" width="6.23" height="6.23" fill="#8c7bbf"/>
<rect x="104.80" y="513.22" width="6.23" height="6.23" fill="#3c53a4"/>
<rect x="111.80" y="513.22" width="6.23" height="6.23" fill="#3c53a4"/>
<rect x="118.80" y="513.22" width="6.23" height="6.23" fill="#ec1c24"/>
<rect x="125.80" y="513.22" width="6.23" height="6.23" fill="#ec1c24"/>
<rect x="132.80" y="513.22" width="6.23" height="6.23" fill="#f4917a"/>
<rect x="139.80" y="513.22" width="6.23" height="6.23" fill="#3c53a4"/>
<rect x="146.80" y="513.22" width="6.23" height="6.23" fill="#4a53a8"/>
<rect x="153.80" y="513.22" width="6.23" height="6.23" fill="#3c53a4"/>
<rect x="160.80" y="513.22" width="6.23" height="6.23" fill="#ec1c24"/>
<rect x="167.80" y="513.22" width="6.23" height="6.23" fill="#ec1c24"/>
<rect x="174.80" y="513.22" width="6.23" height="6.23" fill="#ddd3ea"/>
<rect x="20.80" y="520.20" width="6.23" height="6.23" fill="#3c53a4"/>
<rect x="27.80" y="520.20" width="6.23" height="6.23" fill="#3c53a4"/>
<rect x="34.80" y="520.20" width="6.23" height="6.23" fill="#ddd3ea"/>
<rect x="41.80" y="520.20" width="6.23" height="6.23" fill="#3c53a4"/>
<rect x="48.80" y="520.20" width="6.23" height="6.23" fill="#8c7bbf"/>
<rect x="55.80" y="520.20" width="6.23" height="6.23" fill="#6157ab"/>
<rect x="62.80" y="520.20" width="6.23" height="6.23" fill="#3c53a4"/>
<rect x="69.80" y="520.20" width="6.23" height="6.23" fill="#3c53a4"/>
<rect x="76.80" y="520.20" width="6.23" height="6.23" fill="#3c53a4"/>
<rect x="83.80" y="520.20" width="6.23" height="6.23" fill="#4a53a8"/>
<rect x="90.80" y="520.20" width="6.23" height="6.23" fill="#b3a2d3"/>
<rect x="97.80" y="520.20" width="6.23" height="6.23" fill="#3c53a4"/>
<rect x="104.80" y="520.20" width="6.23" height="6.23" fill="#3c53a4"/>
<rect x="111.80" y="520.20" width="6.23" height="6.23" fill="#3c53a4"/>
<rect x="118.80" y="520.20" width="6.23" height="6.23" fill="#ec1c24"/>
<rect x="125.80" y="520.20" width="6.23" height="6.23" fill="#ee5540"/>
<rect x="132.80" y="520.20" width="6.23" height="6.23" fill="#ec1c24"/>
<rect x="139.80" y="520.20" width="6.23" height="6.23" fill="#ddd3ea"/>
<rect x="146.80" y="520.20" width="6.23" height="6.23" fill="#8c7bbf"/>
<rect x="153.80" y="520.20" width="6.23" height="6.23" fill="#fcdacd"/>
<rect x="160.80" y="520.20" width="6.23" height="6.23" fill="#ec1c24"/>
<rect x="167.80" y="520.20" width="6.23" height="6.23" fill="#ee5540"/>
<rect x="174.80" y="520.20" width="6.23" height="6.23" fill="#ee5540"/>
<rect x="20.80" y="527.18" width="6.23" height="6.23" fill="#3c53a4"/>
<rect x="27.80" y="527.18" width="6.23" height="6.23" fill="#3c53a4"/>
<rect x="34.80" y="527.18" width="6.23" height="6.23" fill="#6157ab"/>
<rect x="41.80" y="527.18" width="6.23" height="6.23" fill="#ddd3ea"/>
<rect x="48.80" y="527.18" width="6.23" height="6.23" fill="#fbf4f2"/>
<rect x="55.80" y="527.18" width="6.23" height="6.23" fill="#3c53a4"/>
<rect x="62.80" y="527.18" width="6.23" height="6.23" fill="#3c53a4"/>
<rect x="69.80" y="527.18" width="6.23" height="6.23" fill="#8c7bbf"/>
<rect x="76.80" y="527.18" width="6.23" height="6.23" fill="#3c53a4"/>
<rect x="83.80" y="527.18" width="6.23" height="6.23" fill="#8c7bbf"/>
<rect x="90.80" y="527.18" width="6.23" height="6.23" fill="#ddd3ea"/>
<rect x="97.80" y="527.18" width="6.23" height="6.23" fill="#3c53a4"/>
<rect x="104.80" y="527.18" width="6.23" height="6.23" fill="#6157ab"/>
<rect x="111.80" y="527.18" width="6.23" height="6.23" fill="#fbf4f2"/>
<rect x="118.80" y="527.18" width="6.23" height="6.23" fill="#ec1c24"/>
<rect x="125.80" y="527.18" width="6.23" height="6.23" fill="#ec1c24"/>
<rect x="132.80" y="527.18" width="6.23" height="6.23" fill="#f4917a"/>
<rect x="139.80" y="527.18" width="6.23" height="6.23" fill="#3c53a4"/>
<rect x="146.80" y="527.18" width="6.23" height="6.23" fill="#8c7bbf"/>
<rect x="153.80" y="527.18" width="6.23" height="6.23" fill="#f4917a"/>
<rect x="160.80" y="527.18" width="6.23" height="6.23" fill="#ec1c24"/>
<rect x="167.80" y="527.18" width="6.23" height="6.23" fill="#ec1c24"/>
<rect x="174.80" y="527.18" width="6.23" height="6.23" fill="#fcdacd"/>
<rect x="20.80" y="534.16" width="6.23" height="6.23" fill="#3c53a4"/>
<rect x="27.80" y="534.16" width="6.23" height="6.23" fill="#fbf4f2"/>
<rect x="34.80" y="534.16" width="6.23" height="6.23" fill="#b3a2d3"/>
<rect x="41.80" y="534.16" width="6.23" height="6.23" fill="#8c7bbf"/>
<rect x="48.80" y="534.16" width="6.23" height="6.23" fill="#fcdacd"/>
<rect x="55.80" y="534.16" width="6.23" height="6.23" fill="#3c53a4"/>
<rect x="62.80" y="534.16" width="6.23" height="6.23" fill="#3c53a4"/>
<rect x="69.80" y="534.16" width="6.23" height="6.23" fill="#b3a2d3"/>
<rect x="76.80" y="534.16" width="6.23" height="6.23" fill="#6157ab"/>
<rect x="83.80" y="534.16" width="6.23" height="6.23" fill="#3c53a4"/>
<rect x="90.80" y="534.16" width="6.23" height="6.23" fill="#3c53a4"/>
<rect x="97.80" y="534.16" width="6.23" height="6.23" fill="#8c7bbf"/>
<rect x="104.80" y="534.16" width="6.23" height="6.23" fill="#3c53a4"/>
<rect x="111.80" y="534.16" width="6.23" height="6.23" fill="#3c53a4"/>
<rect x="118.80" y="534.16" width="6.23" height="6.23" fill="#ec1c24"/>
<rect x="125.80" y="534.16" width="6.23" height="6.23" fill="#ee5540"/>
<rect x="132.80" y="534.16" width="6.23" height="6.23" fill="#ee5540"/>
<rect x="139.80" y="534.16" width="6.23" height="6.23" fill="#8c7bbf"/>
<rect x="146.80" y="534.16" width="6.23" height="6.23" fill="#fbf4f2"/>
<rect x="153.80" y="534.16" width="6.23" height="6.23" fill="#3c53a4"/>
<rect x="160.80" y="534.16" width="6.23" height="6.23" fill="#ec1c24"/>
<rect x="167.80" y="534.16" width="6.23" height="6.23" fill="#ec1c24"/>
<rect x="174.80" y="534.16" width="6.23" height="6.23" fill="#6157ab"/>
<rect x="20.80" y="541.14" width="6.23" height="6.23" fill="#3c53a4"/>
<rect x="27.80" y="541.14" width="6.23" height="6.23" fill="#3c53a4"/>
<rect x="34.80" y="541.14" width="6.23" height="6.23" fill="#6157ab"/>
<rect x="41.80" y="541.14" width="6.23" height="6.23" fill="#6157ab"/>
<rect x="48.80" y="541.14" width="6.23" height="6.23" fill="#f9bba6"/>
<rect x="55.80" y="541.14" width="6.23" height="6.23" fill="#3c53a4"/>
<rect x="62.80" y="541.14" width="6.23" height="6.23" fill="#3c53a4"/>
<rect x="69.80" y="541.14" width="6.23" height="6.23" fill="#f9bba6"/>
<rect x="76.80" y="541.14" width="6.23" height="6.23" fill="#3c53a4"/>
<rect x="83.80" y="541.14" width="6.23" height="6.23" fill="#8c7bbf"/>
<rect x="90.80" y="541.14" width="6.23" height="6.23" fill="#3c53a4"/>
<rect x="97.80" y="541.14" width="6.23" height="6.23" fill="#3c53a4"/>
<rect x="104.80" y="541.14" width="6.23" height="6.23" fill="#f9bba6"/>
<rect x="111.80" y="541.14" width="6.23" height="6.23" fill="#3c53a4"/>
<rect x="118.80" y="541.14" width="6.23" height="6.23" fill="#ec1c24"/>
<rect x="125.80" y="541.14" width="6.23" height="6.23" fill="#ec1c24"/>
<rect x="132.80" y="541.14" width="6.23" height="6.23" fill="#ee5540"/>
<rect x="139.80" y="541.14" width="6.23" height="6.23" fill="#fbf4f2"/>
<rect x="146.80" y="541.14" width="6.23" height="6.23" fill="#f4917a"/>
<rect x="153.80" y="541.14" width="6.23" height="6.23" fill="#fcdacd"/>
<rect x="160.80" y="541.14" width="6.23" height="6.23" fill="#ec1c24"/>
<rect x="167.80" y="541.14" width="6.23" height="6.23" fill="#ec1c24"/>
<rect x="174.80" y="541.14" width="6.23" height="6.23" fill="#ddd3ea"/>
<rect x="20.80" y="548.12" width="6.23" height="6.23" fill="#8c7bbf"/>
<rect x="27.80" y="548.12" width="6.23" height="6.23" fill="#3c53a4"/>
<rect x="34.80" y="548.12" width="6.23" height="6.23" fill="#3c53a4"/>
<rect x="41.80" y="548.12" width="6.23" height="6.23" fill="#3c53a4"/>
<rect x="48.80" y="548.12" width="6.23" height="6.23" fill="#8c7bbf"/>
<rect x="55.80" y="548.12" width="6.23" height="6.23" fill="#3c53a4"/>
<rect x="62.80" y="548.12" width="6.23" height="6.23" fill="#3c53a4"/>
<rect x="69.80" y="548.12" width="6.23" height="6.23" fill="#fcdacd"/>
<rect x="76.80" y="548.12" width="6.23" height="6.23" fill="#3c53a4"/>
<rect x="83.80" y="548.12" width="6.23" height="6.23" fill="#3c53a4"/>
<rect x="90.80" y="548.12" width="6.23" height="6.23" fill="#3c53a4"/>
<rect x="97.80" y="548.12" width="6.23" height="6.23" fill="#fbf4f2"/>
<rect x="104.80" y="548.12" width="6.23" height="6.23" fill="#fcdacd"/>
<rect x="111.80" y="548.12" width="6.23" height="6.23" fill="#3c53a4"/>
<rect x="118.80" y="548.12" width="6.23" height="6.23" fill="#ee5540"/>
<rect x="125.80" y="548.12" width="6.23" height="6.23" fill="#ec1c24"/>
<rect x="132.80" y="548.12" width="6.23" height="6.23" fill="#ee5540"/>
<rect x="139.80" y="548.12" width="6.23" height="6.23" fill="#fcdacd"/>
<rect x="146.80" y="548.12" width="6.23" height="6.23" fill="#ee5540"/>
<rect x="153.80" y="548.12" width="6.23" height="6.23" fill="#ddd3ea"/>
<rect x="160.80" y="548.12" width="6.23" height="6.23" fill="#ec1c24"/>
<rect x="167.80" y="548.12" width="6.23" height="6.23" fill="#ec1c24"/>
<rect x="174.80" y="548.12" width="6.23" height="6.23" fill="#ec1c24"/>
<rect x="20.80" y="555.10" width="6.23" height="6.23" fill="#3c53a4"/>
<rect x="27.80" y="555.10" width="6.23" height="6.23" fill="#8c7bbf"/>
<rect x="34.80" y="555.10" width="6.23" height="6.23" fill="#3c53a4"/>
<rect x="41.80" y="555.10" width="6.23" height="6.23" fill="#6157ab"/>
<rect x="48.80" y="555.10" width="6.23" height="6.23" fill="#fbf4f2"/>
<rect x="55.80" y="555.10" width="6.23" height="6.23" fill="#3c53a4"/>
<rect x="62.80" y="555.10" width="6.23" height="6.23" fill="#3c53a4"/>
<rect x="69.80" y="555.10" width="6.23" height="6.23" fill="#6157ab"/>
<rect x="76.80" y="555.10" width="6.23" height="6.23" fill="#3c53a4"/>
<rect x="83.80" y="555.10" width="6.23" height="6.23" fill="#3c53a4"/>
<rect x="90.80" y="555.10" width="6.23" height="6.23" fill="#3c53a4"/>
<rect x="97.80" y="555.10" width="6.23" height="6.23" fill="#f9bba6"/>
<rect x="104.80" y="555.10" width="6.23" height="6.23" fill="#8c7bbf"/>
<rect x="111.80" y="555.10" width="6.23" height="6.23" fill="#8c7bbf"/>
<rect x="118.80" y="555.10" width="6.23" height="6.23" fill="#ec1c24"/>
<rect x="125.80" y="555.10" width="6.23" height="6.23" fill="#ee5540"/>
<rect x="132.80" y="555.10" width="6.23" height="6.23" fill="#8c7bbf"/>
<rect x="139.80" y="555.10" width="6.23" height="6.23" fill="#fcdacd"/>
<rect x="146.80" y="555.10" width="6.23" height="6.23" fill="#f4917a"/>
<rect x="153.80" y="555.10" width="6.23" height="6.23" fill="#6157ab"/>
<rect x="160.80" y="555.10" width="6.23" height="6.23" fill="#ec1c24"/>
<rect x="167.80" y="555.10" width="6.23" height="6.23" fill="#ec1c24"/>
<rect x="174.80" y="555.10" width="6.23" height="6.23" fill="#fcdacd"/>
<rect x="20.80" y="562.08" width="6.23" height="6.23" fill="#3c53a4"/>
<rect x="27.80" y="562.08" width="6.23" height="6.23" fill="#b3a2d3"/>
<rect x="34.80" y="562.08" width="6.23" height="6.23" fill="#3c53a4"/>
<rect x="41.80" y="562.08" width="6.23" height="6.23" fill="#8c7bbf"/>
<rect x="48.80" y="562.08" width="6.23" height="6.23" fill="#b3a2d3"/>
<rect x="55.80" y="562.08" width="6.23" height="6.23" fill="#3c53a4"/>
<rect x="62.80" y="562.08" width="6.23" height="6.23" fill="#3c53a4"/>
<rect x="69.80" y="562.08" width="6.23" height="6.23" fill="#fbf4f2"/>
<rect x="76.80" y="562.08" width="6.23" height="6.23" fill="#3c53a4"/>
<rect x="83.80" y="562.08" width="6.23" height="6.23" fill="#3c53a4"/>
<rect x="90.80" y="562.08" width="6.23" height="6.23" fill="#3c53a4"/>
<rect x="97.80" y="562.08" width="6.23" height="6.23" fill="#f9bba6"/>
<rect x="104.80" y="562.08" width="6.23" height="6.23" fill="#6157ab"/>
<rect x="111.80" y="562.08" width="6.23" height="6.23" fill="#3c53a4"/>
<rect x="118.80" y="562.08" width="6.23" height="6.23" fill="#ec1c24"/>
<rect x="125.80" y="562.08" width="6.23" height="6.23" fill="#ec1c24"/>
<rect x="132.80" y="562.08" width="6.23" height="6.23" fill="#f9bba6"/>
<rect x="139.80" y="562.08" width="6.23" height="6.23" fill="#ddd3ea"/>
<rect x="146.80" y="562.08" width="6.23" height="6.23" fill="#6157ab"/>
<rect x="153.80" y="562.08" width="6.23" height="6.23" fill="#3c53a4"/>
<rect x="160.80" y="562.08" width="6.23" height="6.23" fill="#ec1c24"/>
<rect x="167.80" y="562.08" width="6.23" height="6.23" fill="#ec1c24"/>
<rect x="174.80" y="562.08" width="6.23" height="6.23" fill="#ec1c24"/>
<rect x="20.80" y="569.06" width="6.23" height="6.23" fill="#4a53a8"/>
<rect x="27.80" y="569.06" width="6.23" height="6.23" fill="#4a53a8"/>
<rect x="34.80" y="569.06" width="6.23" height="6.23" fill="#4a53a8"/>
<rect x="41.80" y="569.06" width="6.23" height="6.23" fill="#4a53a8"/>
<rect x="48.80" y="569.06" width="6.23" height="6.23" fill="#4a53a8"/>
<rect x="55.80" y="569.06" width="6.23" height="6.23" fill="#4a53a8"/>
<rect x="62.80" y="569.06" width="6.23" height="6.23" fill="#4a53a8"/>
<rect x="69.80" y="569.06" width="6.23" height="6.23" fill="#4a53a8"/>
<rect x="76.80" y="569.06" width="6.23" height="6.23" fill="#4a53a8"/>
<rect x="83.80" y="569.06" width="6.23" height="6.23" fill="#4a53a8"/>
<rect x="90.80" y="569.06" width="6.23" height="6.23" fill="#4a53a8"/>
<rect x="97.80" y="569.06" width="6.23" height="6.23" fill="#3c53a4"/>
<rect x="104.80" y="569.06" width="6.23" height="6.23" fill="#3c53a4"/>
<rect x="111.80" y="569.06" width="6.23" height="6.23" fill="#3c53a4"/>
<rect x="118.80" y="569.06" width="6.23" height="6.23" fill="#ec1c24"/>
<rect x="125.80" y="569.06" width="6.23" height="6.23" fill="#ec1c24"/>
<rect x="132.80" y="569.06" width="6.23" height="6.23" fill="#ec1c24"/>
<rect x="139.80" y="569.06" width="6.23" height="6.23" fill="#3c53a4"/>
<rect x="146.80" y="569.06" width="6.23" height="6.23" fill="#3c53a4"/>
<rect x="153.80" y="569.06" width="6.23" height="6.23" fill="#3c53a4"/>
<rect x="160.80" y="569.06" width="6.23" height="6.23" fill="#ec1c24"/>
<rect x="167.80" y="569.06" width="6.23" height="6.23" fill="#ec1c24"/>
<rect x="174.80" y="569.06" width="6.23" height="6.23" fill="#ee5540"/>
<rect x="20.80" y="576.04" width="6.23" height="6.23" fill="#3c53a4"/>
<rect x="27.80" y="576.04" width="6.23" height="6.23" fill="#3c53a4"/>
<rect x="34.80" y="576.04" width="6.23" height="6.23" fill="#3c53a4"/>
<rect x="41.80" y="576.04" width="6.23" height="6.23" fill="#3c53a4"/>
<rect x="48.80" y="576.04" width="6.23" height="6.23" fill="#3c53a4"/>
<rect x="55.80" y="576.04" width="6.23" height="6.23" fill="#3c53a4"/>
<rect x="62.80" y="576.04" width="6.23" height="6.23" fill="#3c53a4"/>
<rect x="69.80" y="576.04" width="6.23" height="6.23" fill="#3c53a4"/>
<rect x="76.80" y="576.04" width="6.23" height="6.23" fill="#3c53a4"/>
<rect x="83.80" y="576.04" width="6.23" height="6.23" fill="#3c53a4"/>
<rect x="90.80" y="576.04" width="6.23" height="6.23" fill="#3c53a4"/>
<rect x="97.80" y="576.04" width="6.23" height="6.23" fill="#fbf4f2"/>
<rect x="104.80" y="576.04" width="6.23" height="6.23" fill="#fcdacd"/>
<rect x="111.80" y="576.04" width="6.23" height="6.23" fill="#ddd3ea"/>
<rect x="118.80" y="576.04" width="6.23" height="6.23" fill="#ee5540"/>
<rect x="125.80" y="576.04" width="6.23" height="6.23" fill="#ee5540"/>
<rect x="132.80" y="576.04" width="6.23" height="6.23" fill="#ec1c24"/>
<rect x="139.80" y="576.04" width="6.23" height="6.23" fill="#fbf4f2"/>
<rect x="146.80" y="576.04" width="6.23" height="6.23" fill="#ddd3ea"/>
<rect x="153.80" y="576.04" width="6.23" height="6.23" fill="#ddd3ea"/>
<rect x="160.80" y="576.04" width="6.23" height="6.23" fill="#ec1c24"/>
<rect x="167.80" y="576.04" width="6.23" height="6.23" fill="#ec1c24"/>
<rect x="174.80" y="576.04" width="6.23" height="6.23" fill="#ec1c24"/>
<rect x="20.80" y="583.02" width="6.23" height="6.23" fill="#3c53a4"/>
<rect x="27.80" y="583.02" width="6.23" height="6.23" fill="#3c53a4"/>
<rect x="34.80" y="583.02" width="6.23" height="6.23" fill="#fbf4f2"/>
<rect x="41.80" y="583.02" width="6.23" height="6.23" fill="#6157ab"/>
<rect x="48.80" y="583.02" width="6.23" height="6.23" fill="#3c53a4"/>
<rect x="55.80" y="583.02" width="6.23" height="6.23" fill="#3c53a4"/>
<rect x="62.80" y="583.02" width="6.23" height="6.23" fill="#3c53a4"/>
<rect x="69.80" y="583.02" width="6.23" height="6.23" fill="#3c53a4"/>
<rect x="76.80" y="583.02" width="6.23" height="6.23" fill="#3c53a4"/>
<rect x="83.80" y="583.02" width="6.23" height="6.23" fill="#3c53a4"/>
<rect x="90.80" y="583.02" width="6.23" height="6.23" fill="#3c53a4"/>
<rect x="97.80" y="583.02" width="6.23" height="6.23" fill="#8c7bbf"/>
<rect x="104.80" y="583.02" width="6.23" height="6.23" fill="#6157ab"/>
<rect x="111.80" y="583.02" width="6.23" height="6.23" fill="#ddd3ea"/>
<rect x="118.80" y="583.02" width="6.23" height="6.23" fill="#ec1c24"/>
<rect x="125.80" y="583.02" width="6.23" height="6.23" fill="#ec1c24"/>
<rect x="132.80" y="583.02" width="6.23" height="6.23" fill="#ec1c24"/>
<rect x="139.80" y="583.02" width="6.23" height="6.23" fill="#fcdacd"/>
<rect x="146.80" y="583.02" width="6.23" height="6.23" fill="#fcdacd"/>
<rect x="153.80" y="583.02" width="6.23" height="6.23" fill="#f4917a"/>
<rect x="160.80" y="583.02" width="6.23" height="6.23" fill="#ec1c24"/>
<rect x="167.80" y="583.02" width="6.23" height="6.23" fill="#ec1c24"/>
<rect x="174.80" y="583.02" width="6.23" height="6.23" fill="#ec1c24"/>
<rect x="20.80" y="590.00" width="6.23" height="6.23" fill="#3c53a4"/>
<rect x="27.80" y="590.00" width="6.23" height="6.23" fill="#3c53a4"/>
<rect x="34.80" y="590.00" width="6.23" height="6.23" fill="#fbf4f2"/>
<rect x="41.80" y="590.00" width="6.23" height="6.23" fill="#3c53a4"/>
<rect x="48.80" y="590.00" width="6.23" height="6.23" fill="#fbf4f2"/>
<rect x="55.80" y="590.00" width="6.23" height="6.23" fill="#8c7bbf"/>
<rect x="62.80" y="590.00" width="6.23" height="6.23" fill="#4a53a8"/>
<rect x="69.80" y="590.00" width="6.23" height="6.23" fill="#8c7bbf"/>
<rect x="76.80" y="590.00" width="6.23" height="6.23" fill="#3c53a4"/>
<rect x="83.80" y="590.00" width="6.23" height="6.23" fill="#8c7bbf"/>
<rect x="90.80" y="590.00" width="6.23" height="6.23" fill="#3c53a4"/>
<rect x="97.80" y="590.00" width="6.23" height="6.23" fill="#fcdacd"/>
<rect x="104.80" y="590.00" width="6.23" height="6.23" fill="#fcdacd"/>
<rect x="111.80" y="590.00" width="6.23" height="6.23" fill="#6157ab"/>
<rect x="118.80" y="590.00" width="6.23" height="6.23" fill="#f4917a"/>
<rect x="125.80" y="590.00" width="6.23" height="6.23" fill="#f4917a"/>
<rect x="132.80" y="590.00" width="6.23" height="6.23" fill="#fcdacd"/>
<rect x="139.80" y="590.00" width="6.23" height="6.23" fill="#6157ab"/>
<rect x="146.80" y="590.00" width="6.23" height="6.23" fill="#ddd3ea"/>
<rect x="153.80" y="590.00" width="6.23" height="6.23" fill="#3c53a4"/>
<rect x="160.80" y="590.00" width="6.23" height="6.23" fill="#ec1c24"/>
<rect x="167.80" y="590.00" width="6.23" height="6.23" fill="#ec1c24"/>
<rect x="174.80" y="590.00" width="6.23" height="6.23" fill="#ec1c24"/>
<rect x="20.80" y="596.98" width="6.23" height="6.23" fill="#3c53a4"/>
<rect x="27.80" y="596.98" width="6.23" height="6.23" fill="#3c53a4"/>
<rect x="34.80" y="596.98" width="6.23" height="6.23" fill="#f9bba6"/>
<rect x="41.80" y="596.98" width="6.23" height="6.23" fill="#6157ab"/>
<rect x="48.80" y="596.98" width="6.23" height="6.23" fill="#ddd3ea"/>
<rect x="55.80" y="596.98" width="6.23" height="6.23" fill="#3c53a4"/>
<rect x="62.80" y="596.98" width="6.23" height="6.23" fill="#3c53a4"/>
<rect x="69.80" y="596.98" width="6.23" height="6.23" fill="#3c53a4"/>
<rect x="76.80" y="596.98" width="6.23" height="6.23" fill="#3c53a4"/>
<rect x="83.80" y="596.98" width="6.23" height="6.23" fill="#3c53a4"/>
<rect x="90.80" y="596.98" width="6.23" height="6.23" fill="#3c53a4"/>
<rect x="97.80" y="596.98" width="6.23" height="6.23" fill="#6157ab"/>
<rect x="104.80" y="596.98" width="6.23" height="6.23" fill="#3c53a4"/>
<rect x="111.80" y="596.98" width="6.23" height="6.23" fill="#3c53a4"/>
<rect x="118.80" y="596.98" width="6.23" height="6.23" fill="#f9bba6"/>
<rect x="125.80" y="596.98" width="6.23" height="6.23" fill="#f9bba6"/>
<rect x="132.80" y="596.98" width="6.23" height="6.23" fill="#fcdacd"/>
<rect x="139.80" y="596.98" width="6.23" height="6.23" fill="#f4917a"/>
<rect x="146.80" y="596.98" width="6.23" height="6.23" fill="#f9bba6"/>
<rect x="153.80" y="596.98" width="6.23" height="6.23" fill="#fbf4f2"/>
<rect x="160.80" y="596.98" width="6.23" height="6.23" fill="#ec1c24"/>
<rect x="167.80" y="596.98" width="6.23" height="6.23" fill="#ec1c24"/>
<rect x="174.80" y="596.98" width="6.23" height="6.23" fill="#ec1c24"/>
<rect x="20.80" y="603.96" width="6.23" height="6.23" fill="#3c53a4"/>
<rect x="27.80" y="603.96" width="6.23" height="6.23" fill="#6157ab"/>
<rect x="34.80" y="603.96" width="6.23" height="6.23" fill="#3c53a4"/>
<rect x="41.80" y="603.96" width="6.23" height="6.23" fill="#3c53a4"/>
<rect x="48.80" y="603.96" width="6.23" height="6.23" fill="#f9bba6"/>
<rect x="55.80" y="603.96" width="6.23" height="6.23" fill="#3c53a4"/>
<rect x="62.80" y="603.96" width="6.23" height="6.23" fill="#3c53a4"/>
<rect x="69.80" y="603.96" width="6.23" height="6.23" fill="#b3a2d3"/>
<rect x="76.80" y="603.96" width="6.23" height="6.23" fill="#8c7bbf"/>
<rect x="83.80" y="603.96" width="6.23" height="6.23" fill="#b3a2d3"/>
<rect x="90.80" y="603.96" width="6.23" height="6.23" fill="#6157ab"/>
<rect x="97.80" y="603.96" width="6.23" height="6.23" fill="#3c53a4"/>
<rect x="104.80" y="603.96" width="6.23" height="6.23" fill="#b3a2d3"/>
<rect x="111.80" y="603.96" width="6.23" height="6.23" fill="#3c53a4"/>
<rect x="118.80" y="603.96" width="6.23" height="6.23" fill="#ec1c24"/>
<rect x="125.80" y="603.96" width="6.23" height="6.23" fill="#f4917a"/>
<rect x="132.80" y="603.96" width="6.23" height="6.23" fill="#ec1c24"/>
<rect x="139.80" y="603.96" width="6.23" height="6.23" fill="#3c53a4"/>
<rect x="146.80" y="603.96" width="6.23" height="6.23" fill="#ddd3ea"/>
<rect x="153.80" y="603.96" width="6.23" height="6.23" fill="#fcdacd"/>
<rect x="160.80" y="603.96" width="6.23" height="6.23" fill="#ec1c24"/>
<rect x="167.80" y="603.96" width="6.23" height="6.23" fill="#f9bba6"/>
<rect x="174.80" y="603.96" width="6.23" height="6.23" fill="#ec1c24"/>
<rect x="20.80" y="610.94" width="6.23" height="6.23" fill="#8c7bbf"/>
<rect x="27.80" y="610.94" width="6.23" height="6.23" fill="#3c53a4"/>
<rect x="34.80" y="610.94" width="6.23" height="6.23" fill="#f9bba6"/>
<rect x="41.80" y="610.94" width="6.23" height="6.23" fill="#b3a2d3"/>
<rect x="48.80" y="610.94" width="6.23" height="6.23" fill="#fbf4f2"/>
<rect x="55.80" y="610.94" width="6.23" height="6.23" fill="#3c53a4"/>
<rect x="62.80" y="610.94" width="6.23" height="6.23" fill="#3c53a4"/>
<rect x="69.80" y="610.94" width="6.23" height="6.23" fill="#3c53a4"/>
<rect x="76.80" y="610.94" width="6.23" height="6.23" fill="#8c7bbf"/>
<rect x="83.80" y="610.94" width="6.23" height="6.23" fill="#b3a2d3"/>
<rect x="90.80" y="610.94" width="6.23" height="6.23" fill="#f9bba6"/>
<rect x="97.80" y="610.94" width="6.23" height="6.23" fill="#4a53a8"/>
<rect x="104.80" y="610.94" width="6.23" height="6.23" fill="#3c53a4"/>
<rect x="111.80" y="610.94" width="6.23" height="6.23" fill="#6157ab"/>
<rect x="118.80" y="610.94" width="6.23" height="6.23" fill="#f9bba6"/>
<rect x="125.80" y="610.94" width="6.23" height="6.23" fill="#ddd3ea"/>
<rect x="132.80" y="610.94" width="6.23" height="6.23" fill="#ec1c24"/>
<rect x="139.80" y="610.94" width="6.23" height="6.23" fill="#3c53a4"/>
<rect x="146.80" y="610.94" width="6.23" height="6.23" fill="#3c53a4"/>
<rect x="153.80" y="610.94" width="6.23" height="6.23" fill="#b3a2d3"/>
<rect x="160.80" y="610.94" width="6.23" height="6.23" fill="#ec1c24"/>
<rect x="167.80" y="610.94" width="6.23" height="6.23" fill="#f4917a"/>
<rect x="174.80" y="610.94" width="6.23" height="6.23" fill="#ec1c24"/>
<rect x="20.80" y="617.92" width="6.23" height="6.23" fill="#3c53a4"/>
<rect x="27.80" y="617.92" width="6.23" height="6.23" fill="#3c53a4"/>
<rect x="34.80" y="617.92" width="6.23" height="6.23" fill="#3c53a4"/>
<rect x="41.80" y="617.92" width="6.23" height="6.23" fill="#b3a2d3"/>
<rect x="48.80" y="617.92" width="6.23" height="6.23" fill="#6157ab"/>
<rect x="55.80" y="617.92" width="6.23" height="6.23" fill="#6157ab"/>
<rect x="62.80" y="617.92" width="6.23" height="6.23" fill="#fbf4f2"/>
<rect x="69.80" y="617.92" width="6.23" height="6.23" fill="#3c53a4"/>
<rect x="76.80" y="617.92" width="6.23" height="6.23" fill="#8c7bbf"/>
<rect x="83.80" y="617.92" width="6.23" height="6.23" fill="#b3a2d3"/>
<rect x="90.80" y="617.92" width="6.23" height="6.23" fill="#8c7bbf"/>
<rect x="97.80" y="617.92" width="6.23" height="6.23" fill="#3c53a4"/>
<rect x="104.80" y="617.92" width="6.23" height="6.23" fill="#3c53a4"/>
<rect x="111.80" y="617.92" width="6.23" height="6.23" fill="#3c53a4"/>
<rect x="118.80" y="617.92" width="6.23" height="6.23" fill="#fcdacd"/>
<rect x="125.80" y="617.92" width="6.23" height="6.23" fill="#f4917a"/>
<rect x="132.80" y="617.92" width="6.23" height="6.23" fill="#ec1c24"/>
<rect x="139.80" y="617.92" width="6.23" height="6.23" fill="#3c53a4"/>
<rect x="146.80" y="617.92" width="6.23" height="6.23" fill="#3c53a4"/>
<rect x="153.80" y="617.92" width="6.23" height="6.23" fill="#3c53a4"/>
<rect x="160.80" y="617.92" width="6.23" height="6.23" fill="#ee5540"/>
<rect x="167.80" y="617.92" width="6.23" height="6.23" fill="#ec1c24"/>
<rect x="174.80" y="617.92" width="6.23" height="6.23" fill="#ec1c24"/>
<rect x="20.80" y="624.90" width="6.23" height="6.23" fill="#6157ab"/>
<rect x="27.80" y="624.90" width="6.23" height="6.23" fill="#3c53a4"/>
<rect x="34.80" y="624.90" width="6.23" height="6.23" fill="#fbf4f2"/>
<rect x="41.80" y="624.90" width="6.23" height="6.23" fill="#6157ab"/>
<rect x="48.80" y="624.90" width="6.23" height="6.23" fill="#fbf4f2"/>
<rect x="55.80" y="624.90" width="6.23" height="6.23" fill="#6157ab"/>
<rect x="62.80" y="624.90" width="6.23" height="6.23" fill="#8c7bbf"/>
<rect x="69.80" y="624.90" width="6.23" height="6.23" fill="#8c7bbf"/>
<rect x="76.80" y="624.90" width="6.23" height="6.23" fill="#b3a2d3"/>
<rect x="83.80" y="624.90" width="6.23" height="6.23" fill="#b3a2d3"/>
<rect x="90.80" y="624.90" width="6.23" height="6.23" fill="#6157ab"/>
<rect x="97.80" y="624.90" width="6.23" height="6.23" fill="#3c53a4"/>
<rect x="104.80" y="624.90" width="6.23" height="6.23" fill="#3c53a4"/>
<rect x="111.80" y="624.90" width="6.23" height="6.23" fill="#3c53a4"/>
<rect x="118.80" y="624.90" width="6.23" height="6.23" fill="#f4917a"/>
<rect x="125.80" y="624.90" width="6.23" height="6.23" fill="#f4917a"/>
<rect x="132.80" y="624.90" width="6.23" height="6.23" fill="#ee5540"/>
<rect x="139.80" y="624.90" width="6.23" height="6.23" fill="#3c53a4"/>
<rect x="146.80" y="624.90" width="6.23" height="6.23" fill="#3c53a4"/>
<rect x="153.80" y="624.90" width="6.23" height="6.23" fill="#3c53a4"/>
<rect x="160.80" y="624.90" width="6.23" height="6.23" fill="#ec1c24"/>
<rect x="167.80" y="624.90" width="6.23" height="6.23" fill="#ec1c24"/>
<rect x="174.80" y="624.90" width="6.23" height="6.23" fill="#ec1c24"/>
<rect x="20.80" y="631.88" width="6.23" height="6.23" fill="#fcdacd"/>
<rect x="27.80" y="631.88" width="6.23" height="6.23" fill="#6157ab"/>
<rect x="34.80" y="631.88" width="6.23" height="6.23" fill="#6157ab"/>
<rect x="41.80" y="631.88" width="6.23" height="6.23" fill="#fbf4f2"/>
<rect x="48.80" y="631.88" width="6.23" height="6.23" fill="#ddd3ea"/>
<rect x="55.80" y="631.88" width="6.23" height="6.23" fill="#6157ab"/>
<rect x="62.80" y="631.88" width="6.23" height="6.23" fill="#3c53a4"/>
<rect x="69.80" y="631.88" width="6.23" height="6.23" fill="#8c7bbf"/>
<rect x="76.80" y="631.88" width="6.23" height="6.23" fill="#4a53a8"/>
<rect x="83.80" y="631.88" width="6.23" height="6.23" fill="#3c53a4"/>
<rect x="90.80" y="631.88" width="6.23" height="6.23" fill="#b3a2d3"/>
<rect x="97.80" y="631.88" width="6.23" height="6.23" fill="#3c53a4"/>
<rect x="104.80" y="631.88" width="6.23" height="6.23" fill="#3c53a4"/>
<rect x="111.80" y="631.88" width="6.23" height="6.23" fill="#3c53a4"/>
<rect x="118.80" y="631.88" width="6.23" height="6.23" fill="#ec1c24"/>
<rect x="125.80" y="631.88" width="6.23" height="6.23" fill="#ee5540"/>
<rect x="132.80" y="631.88" width="6.23" height="6.23" fill="#ec1c24"/>
<rect x="139.80" y="631.88" width="6.23" height="6.23" fill="#3c53a4"/>
<rect x="146.80" y="631.88" width="6.23" height="6.23" fill="#3c53a4"/>
<rect x="153.80" y="631.88" width="6.23" height="6.23" fill="#3c53a4"/>
<rect x="160.80" y="631.88" width="6.23" height="6.23" fill="#ec1c24"/>
<rect x="167.80" y="631.88" width="6.23" height="6.23" fill="#ee5540"/>
<rect x="174.80" y="631.88" width="6.23" height="6.23" fill="#ec1c24"/>
<rect x="20.80" y="638.86" width="6.23" height="6.23" fill="#f9bba6"/>
<rect x="27.80" y="638.86" width="6.23" height="6.23" fill="#f9bba6"/>
<rect x="34.80" y="638.86" width="6.23" height="6.23" fill="#3c53a4"/>
<rect x="41.80" y="638.86" width="6.23" height="6.23" fill="#fbf4f2"/>
<rect x="48.80" y="638.86" width="6.23" height="6.23" fill="#ddd3ea"/>
<rect x="55.80" y="638.86" width="6.23" height="6.23" fill="#8c7bbf"/>
<rect x="62.80" y="638.86" width="6.23" height="6.23" fill="#3c53a4"/>
<rect x="69.80" y="638.86" width="6.23" height="6.23" fill="#6157ab"/>
<rect x="76.80" y="638.86" width="6.23" height="6.23" fill="#4a53a8"/>
<rect x="83.80" y="638.86" width="6.23" height="6.23" fill="#3c53a4"/>
<rect x="90.80" y="638.86" width="6.23" height="6.23" fill="#fbf4f2"/>
<rect x="97.80" y="638.86" width="6.23" height="6.23" fill="#3c53a4"/>
<rect x="104.80" y="638.86" width="6.23" height="6.23" fill="#3c53a4"/>
<rect x="111.80" y="638.86" width="6.23" height="6.23" fill="#4a53a8"/>
<rect x="118.80" y="638.86" width="6.23" height="6.23" fill="#f4917a"/>
<rect x="125.80" y="638.86" width="6.23" height="6.23" fill="#ee5540"/>
<rect x="132.80" y="638.86" width="6.23" height="6.23" fill="#ec1c24"/>
<rect x="139.80" y="638.86" width="6.23" height="6.23" fill="#3c53a4"/>
<rect x="146.80" y="638.86" width="6.23" height="6.23" fill="#3c53a4"/>
<rect x="153.80" y="638.86" width="6.23" height="6.23" fill="#ddd3ea"/>
<rect x="160.80" y="638.86" width="6.23" height="6.23" fill="#fbf4f2"/>
<rect x="167.80" y="638.86" width="6.23" height="6.23" fill="#ec1c24"/>
<rect x="174.80" y="638.86" width="6.23" height="6.23" fill="#ec1c24"/>
<rect x="20.80" y="645.84" width="6.23" height="6.23" fill="#6157ab"/>
<rect x="27.80" y="645.84" width="6.23" height="6.23" fill="#3c53a4"/>
<rect x="34.80" y="645.84" width="6.23" height="6.23" fill="#fcdacd"/>
<rect x="41.80" y="645.84" width="6.23" height="6.23" fill="#3c53a4"/>
<rect x="48.80" y="645.84" width="6.23" height="6.23" fill="#ec1c24"/>
<rect x="55.80" y="645.84" width="6.23" height="6.23" fill="#4a53a8"/>
<rect x="62.80" y="645.84" width="6.23" height="6.23" fill="#3c53a4"/>
<rect x="69.80" y="645.84" width="6.23" height="6.23" fill="#f9bba6"/>
<rect x="76.80" y="645.84" width="6.23" height="6.23" fill="#8c7bbf"/>
<rect x="83.80" y="645.84" width="6.23" height="6.23" fill="#3c53a4"/>
<rect x="90.80" y="645.84" width="6.23" height="6.23" fill="#fbf4f2"/>
<rect x="97.80" y="645.84" width="6.23" height="6.23" fill="#3c53a4"/>
<rect x="104.80" y="645.84" width="6.23" height="6.23" fill="#3c53a4"/>
<rect x="111.80" y="645.84" width="6.23" height="6.23" fill="#8c7bbf"/>
<rect x="118.80" y="645.84" width="6.23" height="6.23" fill="#f9bba6"/>
<rect x="125.80" y="645.84" width="6.23" height="6.23" fill="#f9bba6"/>
<rect x="132.80" y="645.84" width="6.23" height="6.23" fill="#ec1c24"/>
<rect x="139.80" y="645.84" width="6.23" height="6.23" fill="#3c53a4"/>
<rect x="146.80" y="645.84" width="6.23" height="6.23" fill="#3c53a4"/>
<rect x="153.80" y="645.84" width="6.23" height="6.23" fill="#8c7bbf"/>
<rect x="160.80" y="645.84" width="6.23" height="6.23" fill="#f4917a"/>
<rect x="167.80" y="645.84" width="6.23" height="6.23" fill="#ec1c24"/>
<rect x="174.80" y="645.84" width="6.23" height="6.23" fill="#ec1c24"/>
<rect x="20.80" y="652.82" width="6.23" height="6.23" fill="#3c53a4"/>
<rect x="27.80" y="652.82" width="6.23" height="6.23" fill="#b3a2d3"/>
<rect x="34.80" y="652.82" width="6.23" height="6.23" fill="#3c53a4"/>
<rect x="41.80" y="652.82" width="6.23" height="6.23" fill="#3c53a4"/>
<rect x="48.80" y="652.82" width="6.23" height="6.23" fill="#ddd3ea"/>
<rect x="55.80" y="652.82" width="6.23" height="6.23" fill="#4a53a8"/>
<rect x="62.80" y="652.82" width="6.23" height="6.23" fill="#4a53a8"/>
<rect x="69.80" y="652.82" width="6.23" height="6.23" fill="#4a53a8"/>
<rect x="76.80" y="652.82" width="6.23" height="6.23" fill="#8c7bbf"/>
<rect x="83.80" y="652.82" width="6.23" height="6.23" fill="#4a53a8"/>
<rect x="90.80" y="652.82" width="6.23" height="6.23" fill="#ec1c24"/>
<rect x="97.80" y="652.82" width="6.23" height="6.23" fill="#3c53a4"/>
<rect x="104.80" y="652.82" width="6.23" height="6.23" fill="#3c53a4"/>
<rect x="111.80" y="652.82" width="6.23" height="6.23" fill="#ec1c24"/>
<rect x="118.80" y="652.82" width="6.23" height="6.23" fill="#fcdacd"/>
<rect x="125.80" y="652.82" width="6.23" height="6.23" fill="#f4917a"/>
<rect x="132.80" y="652.82" width="6.23" height="6.23" fill="#ec1c24"/>
<rect x="139.80" y="652.82" width="6.23" height="6.23" fill="#3c53a4"/>
<rect x="146.80" y="652.82" width="6.23" height="6.23" fill="#3c53a4"/>
<rect x="153.80" y="652.82" width="6.23" height="6.23" fill="#ee5540"/>
<rect x="160.80" y="652.82" width="6.23" height="6.23" fill="#fcdacd"/>
<rect x="167.80" y="652.82" width="6.23" height="6.23" fill="#ec1c24"/>
<rect x="174.80" y="652.82" width="6.23" height="6.23" fill="#ec1c24"/>
</g>
<text x="183.50" y="247.29" font-size="7.9" textLength="24.24" lengthAdjust="spacingAndGlyphs" stroke="#231f20" stroke-width="0.12">NOC2L</text>
<text x="183.50" y="254.27" font-size="7.9" textLength="21.81" lengthAdjust="spacingAndGlyphs" stroke="#231f20" stroke-width="0.12">RIOX1</text>
<text x="183.50" y="261.25" font-size="7.9" textLength="21.01" lengthAdjust="spacingAndGlyphs" stroke="#231f20" stroke-width="0.12">BRIX1</text>
<text x="183.50" y="268.23" font-size="7.9" textLength="29.08" lengthAdjust="spacingAndGlyphs" stroke="#231f20" stroke-width="0.12">RECQL4</text>
<text x="183.50" y="275.21" font-size="7.9" textLength="19.39" lengthAdjust="spacingAndGlyphs" stroke="#231f20" stroke-width="0.12">KRR1</text>
<text x="183.50" y="282.19" font-size="7.9" textLength="27.87" lengthAdjust="spacingAndGlyphs" stroke="#231f20" stroke-width="0.12">DCAF13</text>
<text x="183.50" y="289.17" font-size="7.9" textLength="26.92" lengthAdjust="spacingAndGlyphs" stroke="#231f20" stroke-width="0.12">GRWD1</text>
<text x="183.50" y="296.15" font-size="7.9" textLength="37.57" lengthAdjust="spacingAndGlyphs" stroke="#231f20" stroke-width="0.12">EBNA1BP2</text>
<text x="183.50" y="303.13" font-size="7.9" textLength="23.43" lengthAdjust="spacingAndGlyphs" stroke="#231f20" stroke-width="0.12">DDX31</text>
<text x="183.50" y="310.11" font-size="7.9" textLength="24.24" lengthAdjust="spacingAndGlyphs" stroke="#231f20" stroke-width="0.12">RRP7A</text>
<text x="183.50" y="317.09" font-size="7.9" textLength="22.08" lengthAdjust="spacingAndGlyphs" stroke="#231f20" stroke-width="0.12">TAF1B</text>
<text x="183.50" y="324.07" font-size="7.9" textLength="23.43" lengthAdjust="spacingAndGlyphs" stroke="#231f20" stroke-width="0.12">DDX24</text>
<text x="183.50" y="331.05" font-size="7.9" textLength="29.08" lengthAdjust="spacingAndGlyphs" stroke="#231f20" stroke-width="0.12">CCDC86</text>
<text x="183.50" y="338.03" font-size="7.9" textLength="19.79" lengthAdjust="spacingAndGlyphs" stroke="#231f20" stroke-width="0.12">NKRF</text>
<text x="183.50" y="345.01" font-size="7.9" textLength="17.36" lengthAdjust="spacingAndGlyphs" stroke="#231f20" stroke-width="0.12">TTF1</text>
<text x="183.50" y="351.99" font-size="7.9" textLength="19.39" lengthAdjust="spacingAndGlyphs" stroke="#231f20" stroke-width="0.12">RRP8</text>
<text x="183.50" y="358.97" font-size="7.9" textLength="19.25" lengthAdjust="spacingAndGlyphs" stroke="#231f20" stroke-width="0.12">PPAN</text>
<text x="183.50" y="365.95" font-size="7.9" textLength="18.58" lengthAdjust="spacingAndGlyphs" stroke="#231f20" stroke-width="0.12">EZH1</text>
<text x="183.50" y="372.93" font-size="7.9" textLength="23.43" lengthAdjust="spacingAndGlyphs" stroke="#231f20" stroke-width="0.12">DDX54</text>
<text x="183.50" y="379.91" font-size="7.9" textLength="20.19" lengthAdjust="spacingAndGlyphs" stroke="#231f20" stroke-width="0.12">PUM3</text>
<text x="183.50" y="386.89" font-size="7.9" textLength="18.59" lengthAdjust="spacingAndGlyphs" stroke="#231f20" stroke-width="0.12">BYSL</text>
<text x="183.50" y="393.87" font-size="7.9" textLength="40.79" lengthAdjust="spacingAndGlyphs" stroke="#231f20" stroke-width="0.12">MPHOSPH6</text>
<text x="183.50" y="400.85" font-size="7.9" textLength="19.39" lengthAdjust="spacingAndGlyphs" stroke="#231f20" stroke-width="0.12">RRS1</text>
<text x="183.50" y="407.83" font-size="7.9" textLength="19.39" lengthAdjust="spacingAndGlyphs" stroke="#231f20" stroke-width="0.12">RRP1</text>
<text x="183.50" y="414.81" font-size="7.9" textLength="20.19" lengthAdjust="spacingAndGlyphs" stroke="#231f20" stroke-width="0.12">RADX</text>
<text x="183.50" y="421.79" font-size="7.9" textLength="24.24" lengthAdjust="spacingAndGlyphs" stroke="#231f20" stroke-width="0.12">SDAD1</text>
<text x="183.50" y="428.77" font-size="7.9" textLength="23.83" lengthAdjust="spacingAndGlyphs" stroke="#231f20" stroke-width="0.12">SURF2</text>
<text x="183.50" y="435.75" font-size="7.9" textLength="25.85" lengthAdjust="spacingAndGlyphs" stroke="#231f20" stroke-width="0.12">NEPRO</text>
<text x="183.50" y="442.73" font-size="7.9" textLength="23.84" lengthAdjust="spacingAndGlyphs" stroke="#231f20" stroke-width="0.12">SENP3</text>
<text x="183.50" y="449.71" font-size="7.9" textLength="23.03" lengthAdjust="spacingAndGlyphs" stroke="#231f20" stroke-width="0.12">USP36</text>
<text x="183.50" y="456.69" font-size="7.9" textLength="17.37" lengthAdjust="spacingAndGlyphs" stroke="#231f20" stroke-width="0.12">JAK1</text>
<text x="183.50" y="463.67" font-size="7.9" textLength="23.29" lengthAdjust="spacingAndGlyphs" stroke="#231f20" stroke-width="0.12">TANC1</text>
<text x="183.50" y="470.65" font-size="7.9" textLength="20.47" lengthAdjust="spacingAndGlyphs" stroke="#231f20" stroke-width="0.12">SIRT2</text>
<text x="183.50" y="477.63" font-size="7.9" textLength="24.23" lengthAdjust="spacingAndGlyphs" stroke="#231f20" stroke-width="0.12">CNTLN</text>
<text x="183.50" y="484.61" font-size="7.9" textLength="28.28" lengthAdjust="spacingAndGlyphs" stroke="#231f20" stroke-width="0.12">OSBPL8</text>
<text x="183.50" y="491.59" font-size="7.9" textLength="29.08" lengthAdjust="spacingAndGlyphs" stroke="#231f20" stroke-width="0.12">TNRC6A</text>
<text x="183.50" y="498.57" font-size="7.9" textLength="38.37" lengthAdjust="spacingAndGlyphs" stroke="#231f20" stroke-width="0.12">ARHGEF18</text>
<text x="183.50" y="505.55" font-size="7.9" textLength="23.03" lengthAdjust="spacingAndGlyphs" stroke="#231f20" stroke-width="0.12">CEP85</text>
<text x="183.50" y="512.53" font-size="7.9" textLength="27.87" lengthAdjust="spacingAndGlyphs" stroke="#231f20" stroke-width="0.12">ITPRID2</text>
<text x="183.50" y="519.51" font-size="7.9" textLength="19.79" lengthAdjust="spacingAndGlyphs" stroke="#231f20" stroke-width="0.12">COBL</text>
<text x="183.50" y="526.49" font-size="7.9" textLength="27.88" lengthAdjust="spacingAndGlyphs" stroke="#231f20" stroke-width="0.12">RASAL3</text>
<text x="183.50" y="533.47" font-size="7.9" textLength="19.79" lengthAdjust="spacingAndGlyphs" stroke="#231f20" stroke-width="0.12">GEN1</text>
<text x="183.50" y="540.45" font-size="7.9" textLength="21.40" lengthAdjust="spacingAndGlyphs" stroke="#231f20" stroke-width="0.12">TIAM2</text>
<text x="183.50" y="547.43" font-size="7.9" textLength="13.73" lengthAdjust="spacingAndGlyphs" stroke="#231f20" stroke-width="0.12">TTK</text>
<text x="183.50" y="554.41" font-size="7.9" textLength="26.26" lengthAdjust="spacingAndGlyphs" stroke="#231f20" stroke-width="0.12">DIAPH3</text>
<text x="183.50" y="561.39" font-size="7.9" textLength="23.84" lengthAdjust="spacingAndGlyphs" fill="#2aa639" stroke="#2aa639" stroke-width="0.12">KPNA4</text>
<text x="183.50" y="568.37" font-size="7.9" textLength="23.84" lengthAdjust="spacingAndGlyphs" fill="#2aa639" stroke="#2aa639" stroke-width="0.12">KPNA3</text>
<text x="183.50" y="575.35" font-size="7.9" textLength="28.28" lengthAdjust="spacingAndGlyphs" stroke="#231f20" stroke-width="0.12">OSBPL5</text>
<text x="183.50" y="582.33" font-size="7.9" textLength="31.10" lengthAdjust="spacingAndGlyphs" stroke="#231f20" stroke-width="0.12">MCM3AP</text>
<text x="183.50" y="589.31" font-size="7.9" textLength="19.39" lengthAdjust="spacingAndGlyphs" stroke="#231f20" stroke-width="0.12">CLNK</text>
<text x="183.50" y="596.29" font-size="7.9" textLength="28.68" lengthAdjust="spacingAndGlyphs" stroke="#231f20" stroke-width="0.12">POM121</text>
<text x="183.50" y="603.27" font-size="7.9" textLength="29.89" lengthAdjust="spacingAndGlyphs" stroke="#231f20" stroke-width="0.12">SQSTM1</text>
<text x="183.50" y="610.25" font-size="7.9" textLength="24.24" lengthAdjust="spacingAndGlyphs" stroke="#231f20" stroke-width="0.12">AGAP2</text>
<text x="183.50" y="617.23" font-size="7.9" textLength="27.47" lengthAdjust="spacingAndGlyphs" stroke="#231f20" stroke-width="0.12">NUP210</text>
<text x="183.50" y="624.21" font-size="7.9" textLength="23.43" lengthAdjust="spacingAndGlyphs" stroke="#231f20" stroke-width="0.12">NUP42</text>
<text x="183.50" y="631.19" font-size="7.9" textLength="27.47" lengthAdjust="spacingAndGlyphs" stroke="#231f20" stroke-width="0.12">NUP214</text>
<text x="183.50" y="638.17" font-size="7.9" textLength="23.43" lengthAdjust="spacingAndGlyphs" stroke="#231f20" stroke-width="0.12">NUP54</text>
<text x="183.50" y="645.15" font-size="7.9" textLength="17.78" lengthAdjust="spacingAndGlyphs" stroke="#231f20" stroke-width="0.12">ELP3</text>
<text x="183.50" y="652.13" font-size="7.9" textLength="28.68" lengthAdjust="spacingAndGlyphs" stroke="#231f20" stroke-width="0.12">SHKBP1</text>
<text x="183.50" y="659.11" font-size="7.9" textLength="34.62" lengthAdjust="spacingAndGlyphs" stroke="#231f20" stroke-width="0.12">SLC25A11</text>
<line x1="21.20" y1="662.60" x2="96.90" y2="662.60" stroke="#3a3a3a" stroke-width="1.1"/>
<line x1="98.40" y1="662.60" x2="118.00" y2="662.60" stroke="#3a3a3a" stroke-width="1.1"/>
<line x1="119.10" y1="662.60" x2="138.80" y2="662.60" stroke="#3a3a3a" stroke-width="1.1"/>
<line x1="140.30" y1="662.60" x2="160.00" y2="662.60" stroke="#3a3a3a" stroke-width="1.1"/>
<line x1="161.40" y1="662.60" x2="180.50" y2="662.60" stroke="#3a3a3a" stroke-width="1.1"/>
<text x="63.00" y="672.30" font-size="8.0" text-anchor="middle" textLength="42.00" lengthAdjust="spacingAndGlyphs" stroke="#231f20" stroke-width="0.12">TurboID only</text>
<text x="110.30" y="665.90" font-size="8.0" text-anchor="end" textLength="27.50" lengthAdjust="spacingAndGlyphs" transform="rotate(-90 110.30 665.90)" stroke="#231f20" stroke-width="0.12">NPM1-T</text>
<text x="130.90" y="665.90" font-size="8.0" text-anchor="end" textLength="30.00" lengthAdjust="spacingAndGlyphs" transform="rotate(-90 130.90 665.90)" stroke="#231f20" stroke-width="0.12">NPM1c-T</text>
<text x="152.00" y="665.90" font-size="8.0" text-anchor="end" textLength="27.50" lengthAdjust="spacingAndGlyphs" transform="rotate(-90 152.00 665.90)" stroke="#231f20" stroke-width="0.12">T-NPM1</text>
<text x="172.70" y="665.90" font-size="8.0" text-anchor="end" textLength="30.00" lengthAdjust="spacingAndGlyphs" transform="rotate(-90 172.70 665.90)" stroke="#231f20" stroke-width="0.12">T-NPM1c</text>
<defs><linearGradient id="zg" x1="0" y1="0" x2="0" y2="1"><stop offset="0" stop-color="#e41a1c"/><stop offset="0.15" stop-color="#e8262a"/><stop offset="0.35" stop-color="#f07a62"/><stop offset="0.6" stop-color="#fdf6f4"/><stop offset="0.63" stop-color="#f6f1f8"/><stop offset="0.8" stop-color="#9a88c6"/><stop offset="1" stop-color="#3150a2"/></linearGradient></defs>
<rect x="227.40" y="412.00" width="11.60" height="71.20" fill="url(#zg)"/>
<text x="226.50" y="409.80" font-size="8.2" font-weight="bold" textLength="26.70" lengthAdjust="spacingAndGlyphs" fill="#000" stroke="#000" stroke-width="0.25">Z score</text>
<line x1="227.40" y1="414.90" x2="229.40" y2="414.90" stroke="#fff" stroke-width="0.8"/>
<line x1="237.00" y1="414.90" x2="239.00" y2="414.90" stroke="#fff" stroke-width="0.8"/>
<text x="241.80" y="417.60" font-size="7.6" stroke="#231f20" stroke-width="0.12">1.5</text>
<line x1="227.40" y1="428.10" x2="229.40" y2="428.10" stroke="#fff" stroke-width="0.8"/>
<line x1="237.00" y1="428.10" x2="239.00" y2="428.10" stroke="#fff" stroke-width="0.8"/>
<text x="241.80" y="430.80" font-size="7.6" stroke="#231f20" stroke-width="0.12">1</text>
<line x1="227.40" y1="441.30" x2="229.40" y2="441.30" stroke="#fff" stroke-width="0.8"/>
<line x1="237.00" y1="441.30" x2="239.00" y2="441.30" stroke="#fff" stroke-width="0.8"/>
<text x="241.80" y="444.00" font-size="7.6" stroke="#231f20" stroke-width="0.12">0.5</text>
<line x1="227.40" y1="454.50" x2="229.40" y2="454.50" stroke="#fff" stroke-width="0.8"/>
<line x1="237.00" y1="454.50" x2="239.00" y2="454.50" stroke="#fff" stroke-width="0.8"/>
<text x="241.80" y="457.20" font-size="7.6" stroke="#231f20" stroke-width="0.12">0</text>
<line x1="227.40" y1="467.70" x2="229.40" y2="467.70" stroke="#fff" stroke-width="0.8"/>
<line x1="237.00" y1="467.70" x2="239.00" y2="467.70" stroke="#fff" stroke-width="0.8"/>
<text x="241.80" y="470.40" font-size="7.6" stroke="#231f20" stroke-width="0.12">−0.5</text>
<line x1="227.40" y1="480.90" x2="229.40" y2="480.90" stroke="#fff" stroke-width="0.8"/>
<line x1="237.00" y1="480.90" x2="239.00" y2="480.90" stroke="#fff" stroke-width="0.8"/>
<text x="241.80" y="483.60" font-size="7.6" stroke="#231f20" stroke-width="0.12">−1</text>
<text x="32.9" y="30.4" font-size="10.2" textLength="108.9" lengthAdjust="spacingAndGlyphs" fill="#231f20" stroke="#231f20" stroke-width="0.12"><tspan font-style="italic">NPM1</tspan> mutant vs. wt AML</text>
<line x1="33.00" y1="100.10" x2="139.80" y2="100.10" stroke="#d6415a" stroke-width="1.3" stroke-dasharray="2.0 2.15"/>
<polygon points="55.5,129.9 56.8,125.2 60.2,121.8 64.2,120.5 68.3,119.8 73.6,119.8 79.0,119.1 81.0,119.8 82.4,125.2 84.6,131.9 85.9,137.6 86.0,144.0 84.0,145.6 81.7,145.4 76.3,144.0 71.0,141.3 65.6,138.0 61.5,135.3 57.5,132.6" fill="#c8c8ca" stroke="#c8c8ca" stroke-width="0.8" stroke-linejoin="round"/>
<polygon points="85.6,144.4 85.9,138.6 87.2,131.9 88.7,125.2 89.1,119.8 90.5,117.8 93.8,117.1 97.9,117.8 101.9,119.8 103.9,122.5 104.6,127.9 103.9,133.3 101.9,137.3 97.9,141.3 93.8,144.0 89.8,145.3 86.0,145.6" fill="#c8c8ca" stroke="#c8c8ca" stroke-width="0.8" stroke-linejoin="round"/>
<rect x="59.8" y="40.9" width="1.7" height="1.7" rx="0.5" fill="#c2c2c4"/>
<rect x="54.4" y="68.6" width="1.7" height="1.7" rx="0.5" fill="#c2c2c4"/>
<rect x="60.8" y="84.1" width="1.7" height="1.7" rx="0.5" fill="#c2c2c4"/>
<rect x="94.0" y="74.2" width="1.7" height="1.7" rx="0.5" fill="#c2c2c4"/>
<rect x="105.7" y="68.6" width="1.7" height="1.7" rx="0.5" fill="#c2c2c4"/>
<rect x="114.1" y="68.6" width="1.7" height="1.7" rx="0.5" fill="#c2c2c4"/>
<rect x="121.1" y="81.1" width="1.7" height="1.7" rx="0.5" fill="#c2c2c4"/>
<rect x="118.4" y="89.2" width="1.7" height="1.7" rx="0.5" fill="#c2c2c4"/>
<rect x="109.1" y="96.5" width="1.7" height="1.7" rx="0.5" fill="#c2c2c4"/>
<rect x="98.5" y="100.9" width="1.7" height="1.7" rx="0.5" fill="#c2c2c4"/>
<rect x="110.1" y="103.8" width="1.7" height="1.7" rx="0.5" fill="#c2c2c4"/>
<rect x="96.6" y="103.8" width="1.7" height="1.7" rx="0.5" fill="#c2c2c4"/>
<rect x="106.7" y="108.1" width="1.7" height="1.7" rx="0.5" fill="#c2c2c4"/>
<rect x="103.2" y="107.7" width="1.7" height="1.7" rx="0.5" fill="#c2c2c4"/>
<rect x="101.4" y="109.1" width="1.7" height="1.7" rx="0.5" fill="#c2c2c4"/>
<rect x="98.5" y="107.2" width="1.7" height="1.7" rx="0.5" fill="#c2c2c4"/>
<rect x="113.0" y="109.1" width="1.7" height="1.7" rx="0.5" fill="#c2c2c4"/>
<rect x="114.4" y="109.1" width="1.7" height="1.7" rx="0.5" fill="#c2c2c4"/>
<rect x="137.0" y="109.1" width="1.7" height="1.7" rx="0.5" fill="#c2c2c4"/>
<rect x="108.1" y="111.0" width="1.7" height="1.7" rx="0.5" fill="#c2c2c4"/>
<rect x="103.2" y="112.0" width="1.7" height="1.7" rx="0.5" fill="#c2c2c4"/>
<rect x="98.0" y="113.0" width="1.7" height="1.7" rx="0.5" fill="#c2c2c4"/>
<rect x="99.5" y="110.5" width="1.7" height="1.7" rx="0.5" fill="#c2c2c4"/>
<rect x="100.9" y="114.9" width="1.7" height="1.7" rx="0.5" fill="#c2c2c4"/>
<rect x="95.2" y="114.4" width="1.7" height="1.7" rx="0.5" fill="#c2c2c4"/>
<rect x="116.8" y="115.8" width="1.7" height="1.7" rx="0.5" fill="#c2c2c4"/>
<rect x="136.5" y="119.7" width="1.7" height="1.7" rx="0.5" fill="#c2c2c4"/>
<rect x="105.7" y="120.2" width="1.7" height="1.7" rx="0.5" fill="#c2c2c4"/>
<rect x="109.1" y="122.6" width="1.7" height="1.7" rx="0.5" fill="#c2c2c4"/>
<rect x="112.5" y="123.0" width="1.7" height="1.7" rx="0.5" fill="#c2c2c4"/>
<rect x="116.8" y="124.5" width="1.7" height="1.7" rx="0.5" fill="#c2c2c4"/>
<rect x="110.5" y="125.5" width="1.7" height="1.7" rx="0.5" fill="#c2c2c4"/>
<rect x="106.2" y="125.5" width="1.7" height="1.7" rx="0.5" fill="#c2c2c4"/>
<rect x="107.7" y="127.3" width="1.7" height="1.7" rx="0.5" fill="#c2c2c4"/>
<rect x="105.7" y="129.2" width="1.7" height="1.7" rx="0.5" fill="#c2c2c4"/>
<rect x="108.6" y="130.2" width="1.7" height="1.7" rx="0.5" fill="#c2c2c4"/>
<rect x="105.7" y="133.2" width="1.7" height="1.7" rx="0.5" fill="#c2c2c4"/>
<rect x="109.1" y="133.6" width="1.7" height="1.7" rx="0.5" fill="#c2c2c4"/>
<rect x="106.2" y="134.6" width="1.7" height="1.7" rx="0.5" fill="#c2c2c4"/>
<rect x="40.1" y="105.8" width="1.7" height="1.7" rx="0.5" fill="#c2c2c4"/>
<rect x="63.4" y="103.7" width="1.7" height="1.7" rx="0.5" fill="#c2c2c4"/>
<rect x="75.1" y="100.8" width="1.7" height="1.7" rx="0.5" fill="#c2c2c4"/>
<rect x="53.4" y="109.5" width="1.7" height="1.7" rx="0.5" fill="#c2c2c4"/>
<rect x="56.4" y="109.5" width="1.7" height="1.7" rx="0.5" fill="#c2c2c4"/>
<rect x="63.9" y="107.4" width="1.7" height="1.7" rx="0.5" fill="#c2c2c4"/>
<rect x="64.5" y="109.0" width="1.7" height="1.7" rx="0.5" fill="#c2c2c4"/>
<rect x="69.2" y="111.1" width="1.7" height="1.7" rx="0.5" fill="#c2c2c4"/>
<rect x="71.4" y="109.5" width="1.7" height="1.7" rx="0.5" fill="#c2c2c4"/>
<rect x="76.2" y="107.7" width="1.7" height="1.7" rx="0.5" fill="#c2c2c4"/>
<rect x="75.6" y="109.5" width="1.7" height="1.7" rx="0.5" fill="#c2c2c4"/>
<rect x="75.1" y="112.2" width="1.7" height="1.7" rx="0.5" fill="#c2c2c4"/>
<rect x="53.4" y="114.2" width="1.7" height="1.7" rx="0.5" fill="#c2c2c4"/>
<rect x="54.4" y="115.4" width="1.7" height="1.7" rx="0.5" fill="#c2c2c4"/>
<rect x="63.4" y="113.8" width="1.7" height="1.7" rx="0.5" fill="#c2c2c4"/>
<rect x="66.1" y="114.1" width="1.7" height="1.7" rx="0.5" fill="#c2c2c4"/>
<rect x="68.8" y="113.8" width="1.7" height="1.7" rx="0.5" fill="#c2c2c4"/>
<rect x="71.4" y="115.4" width="1.7" height="1.7" rx="0.5" fill="#c2c2c4"/>
<rect x="73.0" y="116.4" width="1.7" height="1.7" rx="0.5" fill="#c2c2c4"/>
<rect x="51.2" y="119.6" width="1.7" height="1.7" rx="0.5" fill="#c2c2c4"/>
<rect x="54.9" y="119.6" width="1.7" height="1.7" rx="0.5" fill="#c2c2c4"/>
<rect x="57.6" y="119.6" width="1.7" height="1.7" rx="0.5" fill="#c2c2c4"/>
<rect x="59.8" y="119.1" width="1.7" height="1.7" rx="0.5" fill="#c2c2c4"/>
<rect x="62.9" y="117.5" width="1.7" height="1.7" rx="0.5" fill="#c2c2c4"/>
<rect x="65.1" y="117.0" width="1.7" height="1.7" rx="0.5" fill="#c2c2c4"/>
<rect x="42.8" y="125.9" width="1.7" height="1.7" rx="0.5" fill="#c2c2c4"/>
<rect x="47.0" y="125.4" width="1.7" height="1.7" rx="0.5" fill="#c2c2c4"/>
<rect x="49.6" y="124.9" width="1.7" height="1.7" rx="0.5" fill="#c2c2c4"/>
<rect x="52.9" y="124.4" width="1.7" height="1.7" rx="0.5" fill="#c2c2c4"/>
<rect x="50.8" y="127.0" width="1.7" height="1.7" rx="0.5" fill="#c2c2c4"/>
<rect x="53.4" y="127.0" width="1.7" height="1.7" rx="0.5" fill="#c2c2c4"/>
<rect x="49.1" y="131.8" width="1.7" height="1.7" rx="0.5" fill="#c2c2c4"/>
<rect x="50.1" y="134.3" width="1.7" height="1.7" rx="0.5" fill="#c2c2c4"/>
<rect x="54.9" y="130.2" width="1.7" height="1.7" rx="0.5" fill="#c2c2c4"/>
<rect x="60.8" y="122.8" width="1.7" height="1.7" rx="0.5" fill="#c2c2c4"/>
<rect x="66.1" y="121.7" width="1.7" height="1.7" rx="0.5" fill="#c2c2c4"/>
<circle cx="92.0" cy="69.7" r="1.5" fill="#1fae3c"/>
<circle cx="96.0" cy="84.9" r="1.5" fill="#1fae3c"/>
<circle cx="89.6" cy="128.2" r="1.5" fill="#1fae3c"/>
<circle cx="88.6" cy="131.3" r="1.5" fill="#1fae3c"/>
<circle cx="89.4" cy="139.1" r="1.5" fill="#1fae3c"/>
<line x1="31.30" y1="36.70" x2="31.30" y2="150.80" stroke="#3a3a3a" stroke-width="1.2"/>
<line x1="30.70" y1="150.30" x2="141.00" y2="150.30" stroke="#3a3a3a" stroke-width="1.2"/>
<line x1="28.60" y1="145.00" x2="31.30" y2="145.00" stroke="#3a3a3a" stroke-width="0.9"/>
<text x="25.60" y="147.90" font-size="8.2" text-anchor="end" stroke="#231f20" stroke-width="0.12">0</text>
<line x1="28.60" y1="110.50" x2="31.30" y2="110.50" stroke="#3a3a3a" stroke-width="0.9"/>
<text x="25.60" y="113.40" font-size="8.2" text-anchor="end" stroke="#231f20" stroke-width="0.12">1</text>
<line x1="28.60" y1="76.00" x2="31.30" y2="76.00" stroke="#3a3a3a" stroke-width="0.9"/>
<text x="25.60" y="78.90" font-size="8.2" text-anchor="end" stroke="#231f20" stroke-width="0.12">2</text>
<line x1="28.60" y1="41.50" x2="31.30" y2="41.50" stroke="#3a3a3a" stroke-width="0.9"/>
<text x="25.60" y="44.40" font-size="8.2" text-anchor="end" stroke="#231f20" stroke-width="0.12">3</text>
<line x1="31.10" y1="150.30" x2="31.10" y2="153.00" stroke="#3a3a3a" stroke-width="0.9"/>
<text x="31.10" y="162.90" font-size="8.2" text-anchor="middle" stroke="#231f20" stroke-width="0.12">−2</text>
<line x1="85.30" y1="150.30" x2="85.30" y2="153.00" stroke="#3a3a3a" stroke-width="0.9"/>
<text x="85.30" y="162.90" font-size="8.2" text-anchor="middle" stroke="#231f20" stroke-width="0.12">0</text>
<line x1="139.50" y1="150.30" x2="139.50" y2="153.00" stroke="#3a3a3a" stroke-width="0.9"/>
<text x="139.50" y="162.90" font-size="8.2" text-anchor="middle" stroke="#231f20" stroke-width="0.12">2</text>
<text x="56.3" y="172.6" font-size="8.6" textLength="56.6" lengthAdjust="spacingAndGlyphs" fill="#231f20" stroke="#231f20" stroke-width="0.12">Log<tspan font-size="5.6" dy="2">2</tspan><tspan dy="-2"> fold change</tspan></text>
<text x="15.3" y="93.2" font-size="8.6" text-anchor="middle" textLength="47" lengthAdjust="spacingAndGlyphs" fill="#231f20" transform="rotate(-90 15.3 93.2)" stroke="#231f20" stroke-width="0.12">−log<tspan font-size="5.6" dy="2">10</tspan><tspan dy="-2"> p-value</tspan></text>
<line x1="33.50" y1="184.20" x2="135.20" y2="184.20" stroke="#111" stroke-width="1.1"/>
<path d="M30.0 184.2 L35.4 181.3 L35.4 187.1 Z" fill="#111"/>
<path d="M138.8 184.2 L133.4 181.3 L133.4 187.1 Z" fill="#111"/>
<line x1="85.40" y1="182.30" x2="85.40" y2="186.30" stroke="#111" stroke-width="0.9"/>
<text x="43.70" y="196.30" font-size="8.2" textLength="29.30" lengthAdjust="spacingAndGlyphs" stroke="#231f20" stroke-width="0.12">Up in wt</text>
<text x="95.40" y="196.30" font-size="8.2" textLength="34.50" lengthAdjust="spacingAndGlyphs" stroke="#231f20" stroke-width="0.12">Up in mut</text>
<rect x="53.10" y="204.40" width="6.50" height="6.30" fill="#2cb34a"/>
<text x="62.30" y="210.20" font-size="8.0" textLength="59.50" lengthAdjust="spacingAndGlyphs" stroke="#231f20" stroke-width="0.12">Nuclear importins</text>
<defs><filter id="bl" x="-30%" y="-30%" width="160%" height="160%"><feGaussianBlur stdDeviation="0.9 0.9"/></filter><filter id="bl2" x="-30%" y="-80%" width="160%" height="260%"><feGaussianBlur stdDeviation="2.2"/></filter></defs>
<rect x="322.40" y="540.20" width="139.20" height="22.20" fill="#fff" stroke="#1a1a1a" stroke-width="0.9"/>
<defs><linearGradient id="bg1" x1="0" y1="0" x2="0" y2="1"><stop offset="0" stop-color="#fff"/><stop offset="0.12" stop-color="#e4e4e4"/><stop offset="0.3" stop-color="#aeaeae"/><stop offset="0.42" stop-color="#6c6c6c"/><stop offset="0.58" stop-color="#6c6c6c"/><stop offset="0.72" stop-color="#828282"/><stop offset="0.86" stop-color="#e4e4e4"/><stop offset="1" stop-color="#fff"/></linearGradient></defs>
<rect x="327.90" y="541.50" width="18.8" height="19.0" rx="1.5" fill="url(#bg1)" filter="url(#bl)"/>
<defs><linearGradient id="bg2" x1="0" y1="0" x2="0" y2="1"><stop offset="0" stop-color="#fff"/><stop offset="0.12" stop-color="#ebebeb"/><stop offset="0.3" stop-color="#c4c4c4"/><stop offset="0.42" stop-color="#959595"/><stop offset="0.58" stop-color="#959595"/><stop offset="0.72" stop-color="#a4a4a4"/><stop offset="0.86" stop-color="#ebebeb"/><stop offset="1" stop-color="#fff"/></linearGradient></defs>
<rect x="350.00" y="541.50" width="18.8" height="19.0" rx="1.5" fill="url(#bg2)" filter="url(#bl)"/>
<defs><linearGradient id="bg3" x1="0" y1="0" x2="0" y2="1"><stop offset="0" stop-color="#fff"/><stop offset="0.12" stop-color="#e9e9e9"/><stop offset="0.3" stop-color="#bcbcbc"/><stop offset="0.42" stop-color="#868686"/><stop offset="0.58" stop-color="#868686"/><stop offset="0.72" stop-color="#989898"/><stop offset="0.86" stop-color="#e9e9e9"/><stop offset="1" stop-color="#fff"/></linearGradient></defs>
<rect x="371.60" y="541.50" width="18.8" height="19.0" rx="1.5" fill="url(#bg3)" filter="url(#bl)"/>
<defs><linearGradient id="bg4" x1="0" y1="0" x2="0" y2="1"><stop offset="0" stop-color="#fff"/><stop offset="0.12" stop-color="#ededed"/><stop offset="0.3" stop-color="#cacaca"/><stop offset="0.42" stop-color="#a0a0a0"/><stop offset="0.58" stop-color="#a0a0a0"/><stop offset="0.72" stop-color="#aeaeae"/><stop offset="0.86" stop-color="#ededed"/><stop offset="1" stop-color="#fff"/></linearGradient></defs>
<rect x="393.70" y="541.50" width="18.8" height="19.0" rx="1.5" fill="url(#bg4)" filter="url(#bl)"/>
<defs><linearGradient id="bg5" x1="0" y1="0" x2="0" y2="1"><stop offset="0" stop-color="#fff"/><stop offset="0.12" stop-color="#dedede"/><stop offset="0.3" stop-color="#9c9c9c"/><stop offset="0.42" stop-color="#4c4c4c"/><stop offset="0.58" stop-color="#4c4c4c"/><stop offset="0.72" stop-color="#666666"/><stop offset="0.86" stop-color="#dedede"/><stop offset="1" stop-color="#fff"/></linearGradient></defs>
<rect x="415.60" y="541.50" width="18.8" height="19.0" rx="1.5" fill="url(#bg5)" filter="url(#bl)"/>
<defs><linearGradient id="bg6" x1="0" y1="0" x2="0" y2="1"><stop offset="0" stop-color="#fff"/><stop offset="0.12" stop-color="#e1e1e1"/><stop offset="0.3" stop-color="#a4a4a4"/><stop offset="0.42" stop-color="#5a5a5a"/><stop offset="0.58" stop-color="#5a5a5a"/><stop offset="0.72" stop-color="#727272"/><stop offset="0.86" stop-color="#e1e1e1"/><stop offset="1" stop-color="#fff"/></linearGradient></defs>
<rect x="437.40" y="541.50" width="18.8" height="19.0" rx="1.5" fill="url(#bg6)" filter="url(#bl)"/>
<rect x="322.40" y="607.40" width="139.20" height="22.30" fill="#fff" stroke="#1a1a1a" stroke-width="0.9"/>
<defs><linearGradient id="bg7" x1="0" y1="0" x2="0" y2="1"><stop offset="0" stop-color="#fff"/><stop offset="0.12" stop-color="#e1e1e1"/><stop offset="0.3" stop-color="#a4a4a4"/><stop offset="0.42" stop-color="#5a5a5a"/><stop offset="0.58" stop-color="#5a5a5a"/><stop offset="0.72" stop-color="#727272"/><stop offset="0.86" stop-color="#e1e1e1"/><stop offset="1" stop-color="#fff"/></linearGradient></defs>
<rect x="327.90" y="608.70" width="18.8" height="19.0" rx="1.5" fill="url(#bg7)" filter="url(#bl)"/>
<defs><linearGradient id="bg8" x1="0" y1="0" x2="0" y2="1"><stop offset="0" stop-color="#fff"/><stop offset="0.12" stop-color="#e0e0e0"/><stop offset="0.3" stop-color="#a3a3a3"/><stop offset="0.42" stop-color="#585858"/><stop offset="0.58" stop-color="#585858"/><stop offset="0.72" stop-color="#717171"/><stop offset="0.86" stop-color="#e0e0e0"/><stop offset="1" stop-color="#fff"/></linearGradient></defs>
<rect x="350.00" y="608.70" width="18.8" height="19.0" rx="1.5" fill="url(#bg8)" filter="url(#bl)"/>
<defs><linearGradient id="bg9" x1="0" y1="0" x2="0" y2="1"><stop offset="0" stop-color="#fff"/><stop offset="0.12" stop-color="#e0e0e0"/><stop offset="0.3" stop-color="#a0a0a0"/><stop offset="0.42" stop-color="#545454"/><stop offset="0.58" stop-color="#545454"/><stop offset="0.72" stop-color="#6d6d6d"/><stop offset="0.86" stop-color="#e0e0e0"/><stop offset="1" stop-color="#fff"/></linearGradient></defs>
<rect x="371.60" y="608.70" width="18.8" height="19.0" rx="1.5" fill="url(#bg9)" filter="url(#bl)"/>
<defs><linearGradient id="bg10" x1="0" y1="0" x2="0" y2="1"><stop offset="0" stop-color="#fff"/><stop offset="0.12" stop-color="#e0e0e0"/><stop offset="0.3" stop-color="#a1a1a1"/><stop offset="0.42" stop-color="#555555"/><stop offset="0.58" stop-color="#555555"/><stop offset="0.72" stop-color="#6e6e6e"/><stop offset="0.86" stop-color="#e0e0e0"/><stop offset="1" stop-color="#fff"/></linearGradient></defs>
<rect x="393.70" y="608.70" width="18.8" height="19.0" rx="1.5" fill="url(#bg10)" filter="url(#bl)"/>
<defs><linearGradient id="bg11" x1="0" y1="0" x2="0" y2="1"><stop offset="0" stop-color="#fff"/><stop offset="0.12" stop-color="#e1e1e1"/><stop offset="0.3" stop-color="#a3a3a3"/><stop offset="0.42" stop-color="#595959"/><stop offset="0.58" stop-color="#595959"/><stop offset="0.72" stop-color="#717171"/><stop offset="0.86" stop-color="#e1e1e1"/><stop offset="1" stop-color="#fff"/></linearGradient></defs>
<rect x="415.60" y="608.70" width="18.8" height="19.0" rx="1.5" fill="url(#bg11)" filter="url(#bl)"/>
<defs><linearGradient id="bg12" x1="0" y1="0" x2="0" y2="1"><stop offset="0" stop-color="#fff"/><stop offset="0.12" stop-color="#e2e2e2"/><stop offset="0.3" stop-color="#a7a7a7"/><stop offset="0.42" stop-color="#606060"/><stop offset="0.58" stop-color="#606060"/><stop offset="0.72" stop-color="#777777"/><stop offset="0.86" stop-color="#e2e2e2"/><stop offset="1" stop-color="#fff"/></linearGradient></defs>
<rect x="437.40" y="608.70" width="18.8" height="19.0" rx="1.5" fill="url(#bg12)" filter="url(#bl)"/>
<text x="464.80" y="554.30" font-size="8.8" textLength="25.20" lengthAdjust="spacingAndGlyphs" stroke="#231f20" stroke-width="0.12">KPNB1</text>
<text x="465.20" y="621.30" font-size="8.6" textLength="25.20" lengthAdjust="spacingAndGlyphs" stroke="#231f20" stroke-width="0.12">KPNA3</text>
<rect x="328.80" y="582.81" width="17.00" height="12.49" fill="#0d4f86"/>
<rect x="350.90" y="572.60" width="17.00" height="22.70" fill="#0d4f86"/>
<rect x="372.50" y="571.01" width="17.00" height="24.29" fill="#0d4f86"/>
<rect x="394.60" y="569.88" width="17.00" height="25.42" fill="#0d4f86"/>
<rect x="416.50" y="573.05" width="17.00" height="22.25" fill="#0d4f86"/>
<rect x="438.30" y="577.59" width="17.00" height="17.71" fill="#0d4f86"/>
<line x1="322.70" y1="569.00" x2="322.70" y2="595.80" stroke="#111" stroke-width="1.1"/>
<line x1="322.20" y1="595.30" x2="461.60" y2="595.30" stroke="#111" stroke-width="1.1"/>
<line x1="320.60" y1="595.30" x2="322.70" y2="595.30" stroke="#111" stroke-width="0.9"/>
<text x="316.00" y="598.10" font-size="8.0" text-anchor="end" stroke="#231f20" stroke-width="0.12">0</text>
<line x1="320.60" y1="572.60" x2="322.70" y2="572.60" stroke="#111" stroke-width="0.9"/>
<text x="316.00" y="575.40" font-size="8.0" text-anchor="end" stroke="#231f20" stroke-width="0.12">1</text>
<rect x="328.80" y="646.37" width="17.00" height="16.13" fill="#0d4f86"/>
<rect x="350.90" y="641.95" width="17.00" height="20.55" fill="#0d4f86"/>
<rect x="372.50" y="637.97" width="17.00" height="24.53" fill="#0d4f86"/>
<rect x="394.60" y="637.75" width="17.00" height="24.75" fill="#0d4f86"/>
<rect x="416.50" y="639.07" width="17.00" height="23.43" fill="#0d4f86"/>
<rect x="438.30" y="641.28" width="17.00" height="21.22" fill="#0d4f86"/>
<line x1="322.70" y1="636.20" x2="322.70" y2="663.00" stroke="#111" stroke-width="1.1"/>
<line x1="322.20" y1="662.50" x2="461.60" y2="662.50" stroke="#111" stroke-width="1.1"/>
<line x1="320.60" y1="662.50" x2="322.70" y2="662.50" stroke="#111" stroke-width="0.9"/>
<text x="316.00" y="665.30" font-size="8.0" text-anchor="end" stroke="#231f20" stroke-width="0.12">0</text>
<line x1="320.60" y1="640.40" x2="322.70" y2="640.40" stroke="#111" stroke-width="0.9"/>
<text x="316.00" y="643.20" font-size="8.0" text-anchor="end" stroke="#231f20" stroke-width="0.12">1</text>
<text x="465.30" y="584.60" font-size="8.5" textLength="17.60" lengthAdjust="spacingAndGlyphs" stroke="#231f20" stroke-width="0.12">Total</text>
<text x="465.30" y="594.40" font-size="8.5" textLength="25.40" lengthAdjust="spacingAndGlyphs" stroke="#231f20" stroke-width="0.12">protein</text>
<text x="465.30" y="651.90" font-size="8.5" textLength="17.60" lengthAdjust="spacingAndGlyphs" stroke="#231f20" stroke-width="0.12">Total</text>
<text x="465.30" y="661.70" font-size="8.5" textLength="25.40" lengthAdjust="spacingAndGlyphs" stroke="#231f20" stroke-width="0.12">protein</text>
<text x="335.80" y="537.40" font-size="7.6" textLength="57.00" lengthAdjust="spacingAndGlyphs" fill="#231f20" transform="rotate(-45 335.80 537.40)" stroke="#231f20" stroke-width="0.12">No transfection</text>
<text x="357.90" y="537.40" font-size="7.6" textLength="50.50" lengthAdjust="spacingAndGlyphs" fill="#231f20" transform="rotate(-45 357.90 537.40)" stroke="#231f20" stroke-width="0.12">TurboID only</text>
<text x="379.50" y="537.40" font-size="7.6" textLength="39.50" lengthAdjust="spacingAndGlyphs" fill="#231f20" transform="rotate(-45 379.50 537.40)" stroke="#231f20" stroke-width="0.12">NPM1<tspan font-size="4.6" dy="-2.4">wt</tspan><tspan dy="2.4">-T</tspan></text>
<text x="401.60" y="537.40" font-size="7.6" textLength="37.00" lengthAdjust="spacingAndGlyphs" fill="#231f20" transform="rotate(-45 401.60 537.40)" stroke="#231f20" stroke-width="0.12">T-NPM1<tspan font-size="4.6" dy="-2.4">wt</tspan></text>
<text x="423.50" y="537.40" font-size="7.6" textLength="31.20" lengthAdjust="spacingAndGlyphs" fill="#231f20" transform="rotate(-45 423.50 537.40)" stroke="#231f20" stroke-width="0.12">NPMc-T</text>
<text x="445.30" y="537.40" font-size="7.6" textLength="32.00" lengthAdjust="spacingAndGlyphs" fill="#231f20" transform="rotate(-45 445.30 537.40)" stroke="#231f20" stroke-width="0.12">T-NPMc</text>
</svg>
</body></html>
